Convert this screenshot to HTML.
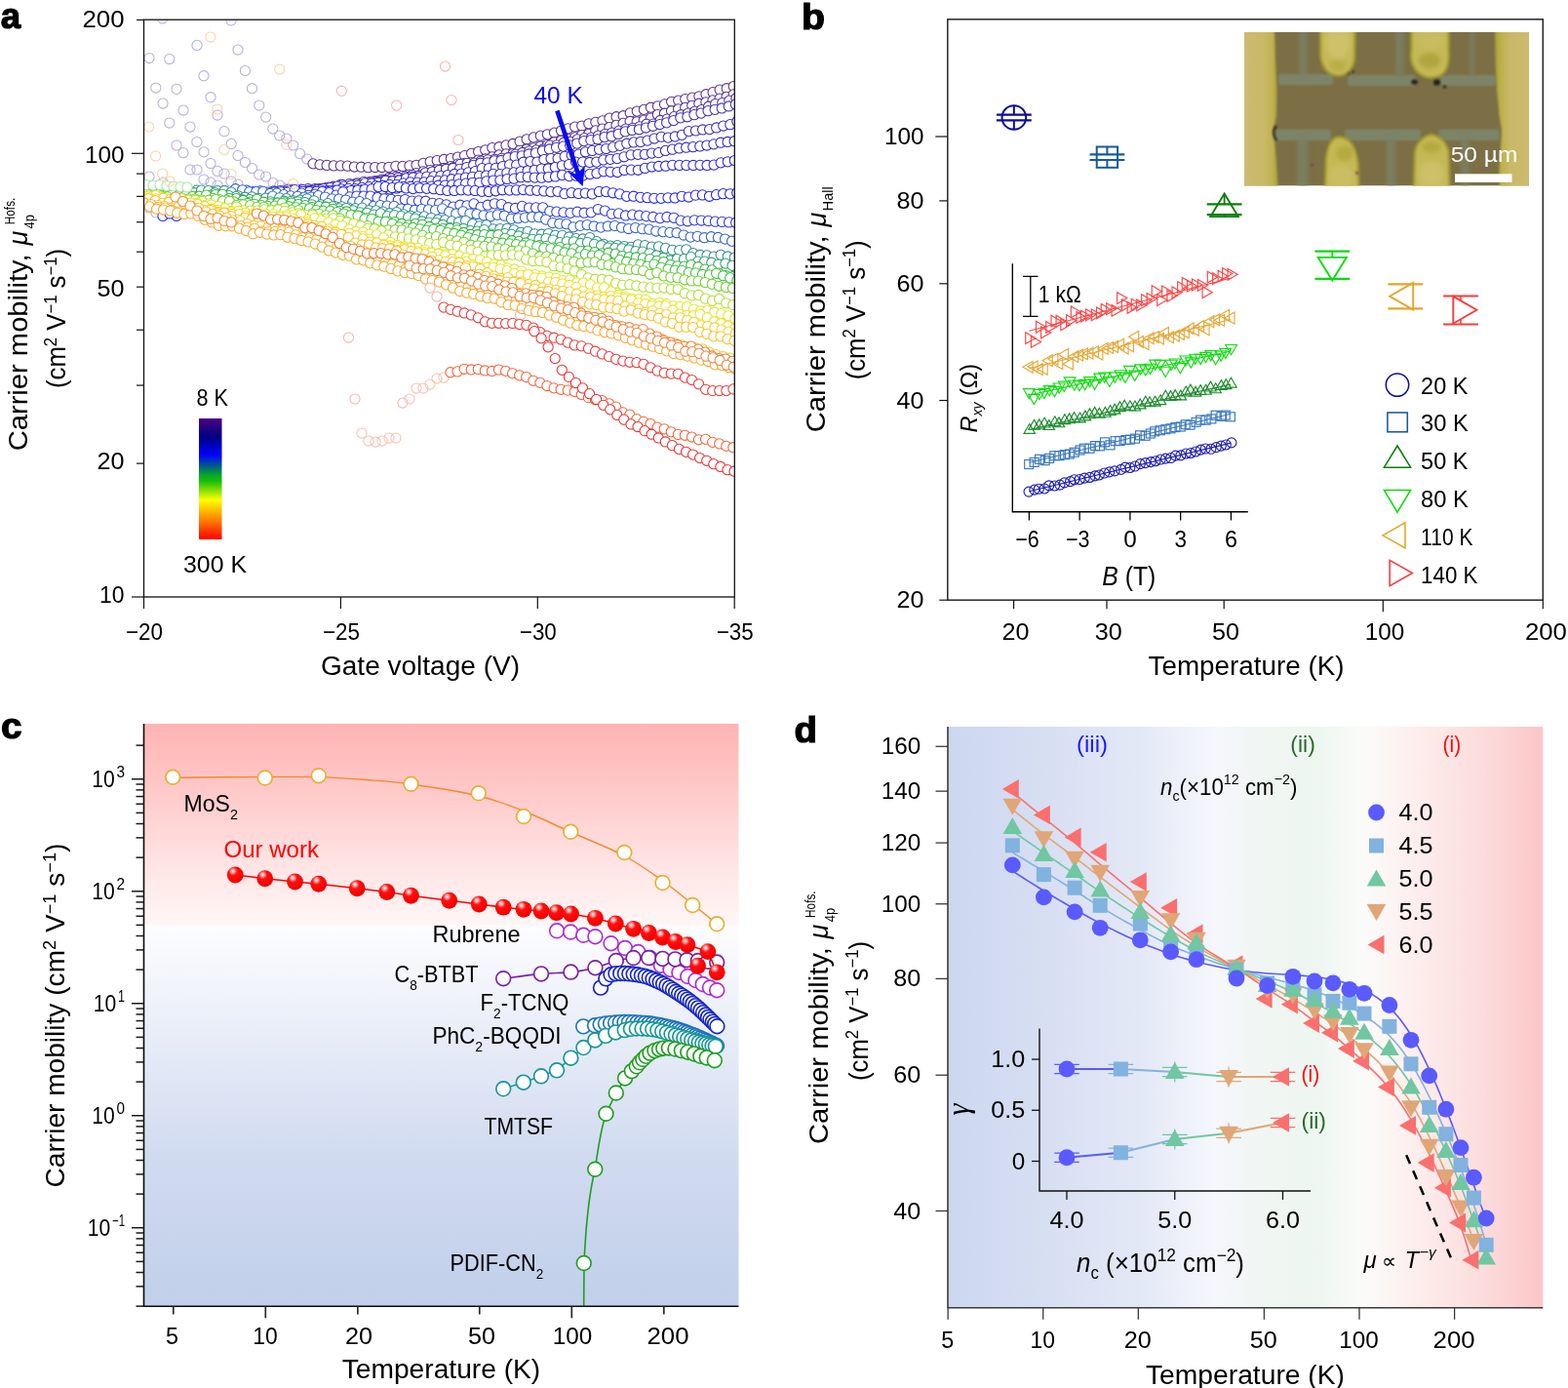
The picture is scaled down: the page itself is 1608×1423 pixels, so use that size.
<!DOCTYPE html>
<html lang="en"><head><meta charset="utf-8"><title>Carrier mobility figure</title>
<style>
html,body{margin:0;padding:0;background:#fff;}
body{width:1608px;height:1423px;overflow:hidden;}
svg{display:block;font-family:"Liberation Sans", sans-serif;}
text{white-space:pre;}
</style></head><body>
<svg width="1608" height="1423" viewBox="0 0 1608 1423">
<rect width="1608" height="1423" fill="#fff"/>
<g id="panel_a">
<clipPath id="clipA"><rect x="147.5" y="20.2" width="605.8" height="591.8"/></clipPath>
<g clip-path="url(#clipA)">
<g stroke="#b4aee0" stroke-width="1.05" fill="none"><circle cx="237" cy="21" r="5.1"/><circle cx="244" cy="51" r="5.1"/><circle cx="251.4" cy="72.6" r="5.1"/><circle cx="258.5" cy="90.7" r="5.1"/><circle cx="265.8" cy="108" r="5.1"/><circle cx="272.7" cy="120" r="5.1"/><circle cx="279.8" cy="132" r="5.1"/><circle cx="286.7" cy="139" r="5.1"/><circle cx="293.8" cy="142" r="5.1"/><circle cx="300.7" cy="149" r="5.1"/><circle cx="307.7" cy="157.7" r="5.1"/><circle cx="314.8" cy="163" r="5.1"/></g>
<g stroke="#b4aee0" stroke-width="1.05" fill="none"><circle cx="202" cy="46.4" r="5.1"/><circle cx="209" cy="77.7" r="5.1"/><circle cx="216" cy="99.7" r="5.1"/><circle cx="223" cy="118" r="5.1"/><circle cx="230" cy="134.7" r="5.1"/><circle cx="237.2" cy="147.4" r="5.1"/><circle cx="244" cy="159.5" r="5.1"/><circle cx="251.4" cy="166.6" r="5.1"/><circle cx="258.5" cy="172.6" r="5.1"/><circle cx="265.8" cy="179" r="5.1"/><circle cx="272.7" cy="181" r="5.1"/><circle cx="280" cy="187.6" r="5.1"/><circle cx="287" cy="190" r="5.1"/><circle cx="294" cy="193" r="5.1"/></g>
<g stroke="#b4aee0" stroke-width="1.05" fill="none"><circle cx="153" cy="59.5" r="5.1"/><circle cx="159.8" cy="90" r="5.1"/><circle cx="167" cy="106" r="5.1"/><circle cx="173.8" cy="126" r="5.1"/><circle cx="181" cy="149" r="5.1"/><circle cx="187.9" cy="156.7" r="5.1"/><circle cx="195" cy="174" r="5.1"/><circle cx="202" cy="174" r="5.1"/><circle cx="209" cy="184" r="5.1"/><circle cx="216" cy="187" r="5.1"/><circle cx="223" cy="190" r="5.1"/></g>
<g stroke="#b4aee0" stroke-width="1.05" fill="none"><circle cx="166.7" cy="19" r="5.1"/><circle cx="173.8" cy="60.5" r="5.1"/><circle cx="181" cy="91.3" r="5.1"/><circle cx="188" cy="113" r="5.1"/><circle cx="195" cy="130" r="5.1"/><circle cx="201.9" cy="145.5" r="5.1"/><circle cx="209" cy="155.8" r="5.1"/><circle cx="216" cy="167.6" r="5.1"/><circle cx="223" cy="175.4" r="5.1"/><circle cx="230" cy="178" r="5.1"/><circle cx="237" cy="186" r="5.1"/><circle cx="244" cy="189" r="5.1"/></g>
<g stroke="#b4aee0" stroke-width="1.05" fill="none"><circle cx="153" cy="181" r="5.1"/><circle cx="153" cy="213" r="5.1"/><circle cx="160" cy="218" r="5.1"/><circle cx="167" cy="187" r="5.1"/></g>
<g stroke="#5b2d90" stroke-width="1.05" fill="#fff"><circle cx="321" cy="167.87" r="5.1"/><circle cx="328.07" cy="168.88" r="5.1"/><circle cx="335.14" cy="169.45" r="5.1"/><circle cx="342.21" cy="169.95" r="5.1"/><circle cx="349.28" cy="169.92" r="5.1"/><circle cx="356.35" cy="170.17" r="5.1"/><circle cx="363.42" cy="171.02" r="5.1"/><circle cx="370.49" cy="171.21" r="5.1"/><circle cx="377.56" cy="171.65" r="5.1"/><circle cx="384.63" cy="171.52" r="5.1"/><circle cx="391.7" cy="171.53" r="5.1"/><circle cx="398.77" cy="171.42" r="5.1"/><circle cx="405.84" cy="170.27" r="5.1"/><circle cx="412.91" cy="170.44" r="5.1"/><circle cx="419.98" cy="169.94" r="5.1"/><circle cx="427.05" cy="169.26" r="5.1"/><circle cx="434.12" cy="167.41" r="5.1"/><circle cx="441.19" cy="165.75" r="5.1"/><circle cx="448.26" cy="164.58" r="5.1"/><circle cx="455.33" cy="163.49" r="5.1"/><circle cx="462.4" cy="162.59" r="5.1"/><circle cx="469.47" cy="161.08" r="5.1"/><circle cx="476.54" cy="159.61" r="5.1"/><circle cx="483.61" cy="157.29" r="5.1"/><circle cx="490.68" cy="155.56" r="5.1"/><circle cx="497.75" cy="153.81" r="5.1"/><circle cx="504.82" cy="151.57" r="5.1"/><circle cx="511.89" cy="150.72" r="5.1"/><circle cx="518.96" cy="148.93" r="5.1"/><circle cx="526.03" cy="147.48" r="5.1"/><circle cx="533.1" cy="145.01" r="5.1"/><circle cx="540.17" cy="142.76" r="5.1"/><circle cx="547.24" cy="140.9" r="5.1"/><circle cx="554.31" cy="139.2" r="5.1"/><circle cx="561.38" cy="137.84" r="5.1"/><circle cx="568.45" cy="136.12" r="5.1"/><circle cx="575.52" cy="134.04" r="5.1"/><circle cx="582.59" cy="131.82" r="5.1"/><circle cx="589.66" cy="130.01" r="5.1"/><circle cx="596.73" cy="129.08" r="5.1"/><circle cx="603.8" cy="126.81" r="5.1"/><circle cx="610.87" cy="125.27" r="5.1"/><circle cx="617.94" cy="123.75" r="5.1"/><circle cx="625.01" cy="121.18" r="5.1"/><circle cx="632.08" cy="119.7" r="5.1"/><circle cx="639.15" cy="118.72" r="5.1"/><circle cx="646.22" cy="115.75" r="5.1"/><circle cx="653.29" cy="114.06" r="5.1"/><circle cx="660.36" cy="112.38" r="5.1"/><circle cx="667.43" cy="110.22" r="5.1"/><circle cx="674.5" cy="108.8" r="5.1"/><circle cx="681.57" cy="106.88" r="5.1"/><circle cx="688.64" cy="104.27" r="5.1"/><circle cx="695.71" cy="103.09" r="5.1"/><circle cx="702.78" cy="101.59" r="5.1"/><circle cx="709.85" cy="100.12" r="5.1"/><circle cx="716.92" cy="98.78" r="5.1"/><circle cx="723.99" cy="96.73" r="5.1"/><circle cx="731.06" cy="94.69" r="5.1"/><circle cx="738.13" cy="92.04" r="5.1"/><circle cx="745.2" cy="90.71" r="5.1"/><circle cx="752.27" cy="88.58" r="5.1"/></g>
<g stroke="#55309a" stroke-width="1.05" fill="#fff"><circle cx="285.56" cy="196.24" r="5.1"/><circle cx="292.63" cy="195.93" r="5.1"/><circle cx="299.7" cy="194.58" r="5.1"/><circle cx="306.77" cy="195.1" r="5.1"/><circle cx="313.84" cy="195.45" r="5.1"/><circle cx="320.91" cy="194.29" r="5.1"/><circle cx="327.98" cy="193.37" r="5.1"/><circle cx="335.05" cy="192.33" r="5.1"/><circle cx="342.12" cy="191.22" r="5.1"/><circle cx="349.19" cy="189.46" r="5.1"/><circle cx="356.26" cy="190.23" r="5.1"/><circle cx="363.33" cy="188.89" r="5.1"/><circle cx="370.4" cy="187.52" r="5.1"/><circle cx="377.47" cy="187.05" r="5.1"/><circle cx="384.54" cy="185.53" r="5.1"/><circle cx="391.61" cy="184.05" r="5.1"/><circle cx="398.68" cy="182.38" r="5.1"/><circle cx="405.75" cy="181.36" r="5.1"/><circle cx="412.82" cy="180.29" r="5.1"/><circle cx="419.89" cy="179.09" r="5.1"/><circle cx="426.96" cy="177.7" r="5.1"/><circle cx="434.03" cy="175.89" r="5.1"/><circle cx="441.1" cy="174.61" r="5.1"/><circle cx="448.17" cy="173.95" r="5.1"/><circle cx="455.24" cy="172.47" r="5.1"/><circle cx="462.31" cy="170.57" r="5.1"/><circle cx="469.38" cy="168.2" r="5.1"/><circle cx="476.45" cy="167.28" r="5.1"/><circle cx="483.52" cy="166.79" r="5.1"/><circle cx="490.59" cy="164.04" r="5.1"/><circle cx="497.66" cy="162.99" r="5.1"/><circle cx="504.73" cy="160.92" r="5.1"/><circle cx="511.8" cy="158.89" r="5.1"/><circle cx="518.87" cy="157.92" r="5.1"/><circle cx="525.94" cy="157.65" r="5.1"/><circle cx="533.01" cy="154.33" r="5.1"/><circle cx="540.08" cy="153.09" r="5.1"/><circle cx="547.15" cy="151.76" r="5.1"/><circle cx="554.22" cy="149.97" r="5.1"/><circle cx="561.29" cy="148.66" r="5.1"/><circle cx="568.36" cy="145.73" r="5.1"/><circle cx="575.43" cy="144.28" r="5.1"/><circle cx="582.5" cy="142.6" r="5.1"/><circle cx="589.57" cy="140.95" r="5.1"/><circle cx="596.64" cy="138.58" r="5.1"/><circle cx="603.71" cy="137.34" r="5.1"/><circle cx="610.78" cy="133.94" r="5.1"/><circle cx="617.85" cy="132.05" r="5.1"/><circle cx="624.92" cy="130.56" r="5.1"/><circle cx="631.99" cy="128.43" r="5.1"/><circle cx="639.06" cy="126.41" r="5.1"/><circle cx="646.13" cy="124.49" r="5.1"/><circle cx="653.2" cy="124.7" r="5.1"/><circle cx="660.27" cy="123.14" r="5.1"/><circle cx="667.34" cy="121.19" r="5.1"/><circle cx="674.41" cy="117.56" r="5.1"/><circle cx="681.48" cy="116.21" r="5.1"/><circle cx="688.55" cy="113.73" r="5.1"/><circle cx="695.62" cy="111.84" r="5.1"/><circle cx="702.69" cy="110.37" r="5.1"/><circle cx="709.76" cy="108.31" r="5.1"/><circle cx="716.83" cy="106.24" r="5.1"/><circle cx="723.9" cy="104.81" r="5.1"/><circle cx="730.97" cy="102.89" r="5.1"/><circle cx="738.04" cy="101.05" r="5.1"/><circle cx="745.11" cy="99.32" r="5.1"/><circle cx="752.18" cy="96.92" r="5.1"/></g>
<g stroke="#4c30a2" stroke-width="1.05" fill="#fff"><circle cx="281.21" cy="197" r="5.1"/><circle cx="288.28" cy="197.54" r="5.1"/><circle cx="295.35" cy="197.49" r="5.1"/><circle cx="302.42" cy="198.13" r="5.1"/><circle cx="309.49" cy="197.02" r="5.1"/><circle cx="316.56" cy="195.51" r="5.1"/><circle cx="323.63" cy="194.3" r="5.1"/><circle cx="330.7" cy="193.47" r="5.1"/><circle cx="337.77" cy="193.26" r="5.1"/><circle cx="344.84" cy="191.86" r="5.1"/><circle cx="351.91" cy="191.13" r="5.1"/><circle cx="358.98" cy="191.28" r="5.1"/><circle cx="366.05" cy="187.87" r="5.1"/><circle cx="373.12" cy="186.39" r="5.1"/><circle cx="380.19" cy="186.01" r="5.1"/><circle cx="387.26" cy="185.42" r="5.1"/><circle cx="394.33" cy="184.49" r="5.1"/><circle cx="401.4" cy="182.97" r="5.1"/><circle cx="408.47" cy="182.33" r="5.1"/><circle cx="415.54" cy="181.18" r="5.1"/><circle cx="422.61" cy="179.42" r="5.1"/><circle cx="429.68" cy="179.91" r="5.1"/><circle cx="436.75" cy="178.22" r="5.1"/><circle cx="443.82" cy="176.03" r="5.1"/><circle cx="450.89" cy="174.49" r="5.1"/><circle cx="457.96" cy="172.92" r="5.1"/><circle cx="465.03" cy="171.53" r="5.1"/><circle cx="472.1" cy="168.26" r="5.1"/><circle cx="479.17" cy="167.3" r="5.1"/><circle cx="486.24" cy="167.18" r="5.1"/><circle cx="493.31" cy="164.99" r="5.1"/><circle cx="500.38" cy="163.86" r="5.1"/><circle cx="507.45" cy="163.28" r="5.1"/><circle cx="514.52" cy="162.26" r="5.1"/><circle cx="521.59" cy="161.47" r="5.1"/><circle cx="528.66" cy="158.14" r="5.1"/><circle cx="535.73" cy="156.46" r="5.1"/><circle cx="542.8" cy="154.82" r="5.1"/><circle cx="549.87" cy="153.87" r="5.1"/><circle cx="556.94" cy="152.98" r="5.1"/><circle cx="564.01" cy="149.15" r="5.1"/><circle cx="571.08" cy="148.84" r="5.1"/><circle cx="578.15" cy="146.21" r="5.1"/><circle cx="585.22" cy="145.45" r="5.1"/><circle cx="592.29" cy="142.8" r="5.1"/><circle cx="599.36" cy="141.69" r="5.1"/><circle cx="606.43" cy="141.05" r="5.1"/><circle cx="613.5" cy="139.04" r="5.1"/><circle cx="620.57" cy="137.37" r="5.1"/><circle cx="627.64" cy="136.1" r="5.1"/><circle cx="634.71" cy="134.16" r="5.1"/><circle cx="641.78" cy="132.13" r="5.1"/><circle cx="648.85" cy="131.33" r="5.1"/><circle cx="655.92" cy="129.79" r="5.1"/><circle cx="662.99" cy="127.2" r="5.1"/><circle cx="670.06" cy="127.04" r="5.1"/><circle cx="677.13" cy="123.48" r="5.1"/><circle cx="684.2" cy="122.05" r="5.1"/><circle cx="691.27" cy="119.63" r="5.1"/><circle cx="698.34" cy="117.7" r="5.1"/><circle cx="705.41" cy="116.19" r="5.1"/><circle cx="712.48" cy="114.19" r="5.1"/><circle cx="719.55" cy="112.51" r="5.1"/><circle cx="726.62" cy="109.23" r="5.1"/><circle cx="733.69" cy="106.5" r="5.1"/><circle cx="740.76" cy="105.57" r="5.1"/><circle cx="747.83" cy="103.13" r="5.1"/><circle cx="754.9" cy="100.84" r="5.1"/></g>
<g stroke="#4330aa" stroke-width="1.05" fill="#fff"><circle cx="280.68" cy="195.97" r="5.1"/><circle cx="287.75" cy="195.56" r="5.1"/><circle cx="294.82" cy="194.65" r="5.1"/><circle cx="301.89" cy="195.31" r="5.1"/><circle cx="308.96" cy="194.03" r="5.1"/><circle cx="316.03" cy="193.67" r="5.1"/><circle cx="323.1" cy="193.64" r="5.1"/><circle cx="330.17" cy="193.37" r="5.1"/><circle cx="337.24" cy="192.1" r="5.1"/><circle cx="344.31" cy="192.17" r="5.1"/><circle cx="351.38" cy="189.47" r="5.1"/><circle cx="358.45" cy="188.68" r="5.1"/><circle cx="365.52" cy="188.79" r="5.1"/><circle cx="372.59" cy="189.08" r="5.1"/><circle cx="379.66" cy="187.39" r="5.1"/><circle cx="386.73" cy="186.49" r="5.1"/><circle cx="393.8" cy="185.65" r="5.1"/><circle cx="400.87" cy="185.25" r="5.1"/><circle cx="407.94" cy="184.9" r="5.1"/><circle cx="415.01" cy="183.12" r="5.1"/><circle cx="422.08" cy="181.06" r="5.1"/><circle cx="429.15" cy="180.62" r="5.1"/><circle cx="436.22" cy="177.2" r="5.1"/><circle cx="443.29" cy="176.03" r="5.1"/><circle cx="450.36" cy="174.63" r="5.1"/><circle cx="457.43" cy="173.45" r="5.1"/><circle cx="464.5" cy="172.46" r="5.1"/><circle cx="471.57" cy="173.3" r="5.1"/><circle cx="478.64" cy="171.57" r="5.1"/><circle cx="485.71" cy="169.31" r="5.1"/><circle cx="492.78" cy="167.22" r="5.1"/><circle cx="499.85" cy="166.77" r="5.1"/><circle cx="506.92" cy="164.95" r="5.1"/><circle cx="513.99" cy="164.49" r="5.1"/><circle cx="521.06" cy="161.78" r="5.1"/><circle cx="528.13" cy="160.65" r="5.1"/><circle cx="535.2" cy="159.76" r="5.1"/><circle cx="542.27" cy="157.97" r="5.1"/><circle cx="549.34" cy="156.94" r="5.1"/><circle cx="556.41" cy="154.74" r="5.1"/><circle cx="563.48" cy="152.99" r="5.1"/><circle cx="570.55" cy="151.28" r="5.1"/><circle cx="577.62" cy="150.13" r="5.1"/><circle cx="584.69" cy="149.18" r="5.1"/><circle cx="591.76" cy="147.07" r="5.1"/><circle cx="598.83" cy="144.62" r="5.1"/><circle cx="605.9" cy="143.64" r="5.1"/><circle cx="612.97" cy="142.76" r="5.1"/><circle cx="620.04" cy="140.56" r="5.1"/><circle cx="627.11" cy="139.71" r="5.1"/><circle cx="634.18" cy="137.41" r="5.1"/><circle cx="641.25" cy="134.93" r="5.1"/><circle cx="648.32" cy="133.44" r="5.1"/><circle cx="655.39" cy="132.78" r="5.1"/><circle cx="662.46" cy="131.04" r="5.1"/><circle cx="669.53" cy="129.25" r="5.1"/><circle cx="676.6" cy="127.51" r="5.1"/><circle cx="683.67" cy="125.85" r="5.1"/><circle cx="690.74" cy="123.6" r="5.1"/><circle cx="697.81" cy="120.85" r="5.1"/><circle cx="704.88" cy="119.79" r="5.1"/><circle cx="711.95" cy="117.67" r="5.1"/><circle cx="719.02" cy="116.05" r="5.1"/><circle cx="726.09" cy="113.68" r="5.1"/><circle cx="733.16" cy="112.32" r="5.1"/><circle cx="740.23" cy="110.95" r="5.1"/><circle cx="747.3" cy="108.99" r="5.1"/><circle cx="754.37" cy="106.92" r="5.1"/></g>
<g stroke="#3a2cb4" stroke-width="1.05" fill="#fff"><circle cx="282.22" cy="196.8" r="5.1"/><circle cx="289.29" cy="197" r="5.1"/><circle cx="296.36" cy="195.96" r="5.1"/><circle cx="303.43" cy="194.81" r="5.1"/><circle cx="310.5" cy="194.54" r="5.1"/><circle cx="317.57" cy="195.23" r="5.1"/><circle cx="324.64" cy="194.35" r="5.1"/><circle cx="331.71" cy="193.31" r="5.1"/><circle cx="338.78" cy="192.5" r="5.1"/><circle cx="345.85" cy="191.19" r="5.1"/><circle cx="352.92" cy="191.09" r="5.1"/><circle cx="359.99" cy="189.97" r="5.1"/><circle cx="367.06" cy="190.06" r="5.1"/><circle cx="374.13" cy="187.87" r="5.1"/><circle cx="381.2" cy="188.1" r="5.1"/><circle cx="388.27" cy="187.21" r="5.1"/><circle cx="395.34" cy="185.41" r="5.1"/><circle cx="402.41" cy="185.83" r="5.1"/><circle cx="409.48" cy="185.01" r="5.1"/><circle cx="416.55" cy="182.77" r="5.1"/><circle cx="423.62" cy="181.99" r="5.1"/><circle cx="430.69" cy="181.95" r="5.1"/><circle cx="437.76" cy="181" r="5.1"/><circle cx="444.83" cy="180.89" r="5.1"/><circle cx="451.9" cy="180.39" r="5.1"/><circle cx="458.97" cy="179.62" r="5.1"/><circle cx="466.04" cy="178.49" r="5.1"/><circle cx="473.11" cy="178.09" r="5.1"/><circle cx="480.18" cy="176.95" r="5.1"/><circle cx="487.25" cy="175.68" r="5.1"/><circle cx="494.32" cy="172.69" r="5.1"/><circle cx="501.39" cy="172.54" r="5.1"/><circle cx="508.46" cy="172.28" r="5.1"/><circle cx="515.53" cy="170.55" r="5.1"/><circle cx="522.6" cy="168.92" r="5.1"/><circle cx="529.67" cy="169.16" r="5.1"/><circle cx="536.74" cy="166.24" r="5.1"/><circle cx="543.81" cy="165.57" r="5.1"/><circle cx="550.88" cy="166.05" r="5.1"/><circle cx="557.95" cy="163.51" r="5.1"/><circle cx="565.02" cy="162.62" r="5.1"/><circle cx="572.09" cy="162.43" r="5.1"/><circle cx="579.16" cy="160.42" r="5.1"/><circle cx="586.23" cy="159.18" r="5.1"/><circle cx="593.3" cy="158.16" r="5.1"/><circle cx="600.37" cy="155.78" r="5.1"/><circle cx="607.44" cy="154.4" r="5.1"/><circle cx="614.51" cy="153.32" r="5.1"/><circle cx="621.58" cy="152.53" r="5.1"/><circle cx="628.65" cy="150.92" r="5.1"/><circle cx="635.72" cy="149.31" r="5.1"/><circle cx="642.79" cy="147.23" r="5.1"/><circle cx="649.86" cy="145.91" r="5.1"/><circle cx="656.93" cy="145.45" r="5.1"/><circle cx="664" cy="144.07" r="5.1"/><circle cx="671.07" cy="142.03" r="5.1"/><circle cx="678.14" cy="140.25" r="5.1"/><circle cx="685.21" cy="141.09" r="5.1"/><circle cx="692.28" cy="139.96" r="5.1"/><circle cx="699.35" cy="138.37" r="5.1"/><circle cx="706.42" cy="134.59" r="5.1"/><circle cx="713.49" cy="134" r="5.1"/><circle cx="720.56" cy="132.98" r="5.1"/><circle cx="727.63" cy="132.63" r="5.1"/><circle cx="734.7" cy="130.96" r="5.1"/><circle cx="741.77" cy="129.03" r="5.1"/><circle cx="748.84" cy="127.69" r="5.1"/><circle cx="755.91" cy="124.58" r="5.1"/></g>
<g stroke="#3028c4" stroke-width="1.05" fill="#fff"><circle cx="286.55" cy="197.72" r="5.1"/><circle cx="293.62" cy="197.34" r="5.1"/><circle cx="300.69" cy="197.32" r="5.1"/><circle cx="307.76" cy="197.54" r="5.1"/><circle cx="314.83" cy="196.26" r="5.1"/><circle cx="321.9" cy="195.65" r="5.1"/><circle cx="328.97" cy="194.9" r="5.1"/><circle cx="336.04" cy="195.53" r="5.1"/><circle cx="343.11" cy="195.07" r="5.1"/><circle cx="350.18" cy="193.95" r="5.1"/><circle cx="357.25" cy="193.42" r="5.1"/><circle cx="364.32" cy="193.66" r="5.1"/><circle cx="371.39" cy="192.27" r="5.1"/><circle cx="378.46" cy="191.65" r="5.1"/><circle cx="385.53" cy="190.65" r="5.1"/><circle cx="392.6" cy="190.23" r="5.1"/><circle cx="399.67" cy="189.35" r="5.1"/><circle cx="406.74" cy="189.25" r="5.1"/><circle cx="413.81" cy="187.83" r="5.1"/><circle cx="420.88" cy="186.8" r="5.1"/><circle cx="427.95" cy="187.12" r="5.1"/><circle cx="435.02" cy="186.77" r="5.1"/><circle cx="442.09" cy="185.51" r="5.1"/><circle cx="449.16" cy="185.29" r="5.1"/><circle cx="456.23" cy="184.89" r="5.1"/><circle cx="463.3" cy="183.74" r="5.1"/><circle cx="470.37" cy="183.04" r="5.1"/><circle cx="477.44" cy="182.09" r="5.1"/><circle cx="484.51" cy="181.27" r="5.1"/><circle cx="491.58" cy="180.43" r="5.1"/><circle cx="498.65" cy="180" r="5.1"/><circle cx="505.72" cy="178.43" r="5.1"/><circle cx="512.79" cy="178.66" r="5.1"/><circle cx="519.86" cy="177.14" r="5.1"/><circle cx="526.93" cy="176.88" r="5.1"/><circle cx="534" cy="175.87" r="5.1"/><circle cx="541.07" cy="175.2" r="5.1"/><circle cx="548.14" cy="174.39" r="5.1"/><circle cx="555.21" cy="173.08" r="5.1"/><circle cx="562.28" cy="173.01" r="5.1"/><circle cx="569.35" cy="171.57" r="5.1"/><circle cx="576.42" cy="169.8" r="5.1"/><circle cx="583.49" cy="168.66" r="5.1"/><circle cx="590.56" cy="166.12" r="5.1"/><circle cx="597.63" cy="166.1" r="5.1"/><circle cx="604.7" cy="166.46" r="5.1"/><circle cx="611.77" cy="166.08" r="5.1"/><circle cx="618.84" cy="163.92" r="5.1"/><circle cx="625.91" cy="163.31" r="5.1"/><circle cx="632.98" cy="162.58" r="5.1"/><circle cx="640.05" cy="160.78" r="5.1"/><circle cx="647.12" cy="158.84" r="5.1"/><circle cx="654.19" cy="158.3" r="5.1"/><circle cx="661.26" cy="158.26" r="5.1"/><circle cx="668.33" cy="157.12" r="5.1"/><circle cx="675.4" cy="156.64" r="5.1"/><circle cx="682.47" cy="154.44" r="5.1"/><circle cx="689.54" cy="153.2" r="5.1"/><circle cx="696.61" cy="151.97" r="5.1"/><circle cx="703.68" cy="151.21" r="5.1"/><circle cx="710.75" cy="150.66" r="5.1"/><circle cx="717.82" cy="149.91" r="5.1"/><circle cx="724.89" cy="149.04" r="5.1"/><circle cx="731.96" cy="147.86" r="5.1"/><circle cx="739.03" cy="146.22" r="5.1"/><circle cx="746.1" cy="145.49" r="5.1"/><circle cx="753.17" cy="144.72" r="5.1"/></g>
<g stroke="#2a28d4" stroke-width="1.05" fill="#fff"><circle cx="286.73" cy="197.72" r="5.1"/><circle cx="293.8" cy="196.62" r="5.1"/><circle cx="300.87" cy="196.5" r="5.1"/><circle cx="307.94" cy="196.94" r="5.1"/><circle cx="315.01" cy="196.38" r="5.1"/><circle cx="322.08" cy="196.89" r="5.1"/><circle cx="329.15" cy="196.74" r="5.1"/><circle cx="336.22" cy="196.75" r="5.1"/><circle cx="343.29" cy="195.84" r="5.1"/><circle cx="350.36" cy="197.1" r="5.1"/><circle cx="357.43" cy="196.8" r="5.1"/><circle cx="364.5" cy="195.46" r="5.1"/><circle cx="371.57" cy="194.72" r="5.1"/><circle cx="378.64" cy="195.88" r="5.1"/><circle cx="385.71" cy="194.37" r="5.1"/><circle cx="392.78" cy="194.16" r="5.1"/><circle cx="399.85" cy="193.94" r="5.1"/><circle cx="406.92" cy="192.97" r="5.1"/><circle cx="413.99" cy="191.4" r="5.1"/><circle cx="421.06" cy="191.23" r="5.1"/><circle cx="428.13" cy="191.08" r="5.1"/><circle cx="435.2" cy="191.35" r="5.1"/><circle cx="442.27" cy="191.09" r="5.1"/><circle cx="449.34" cy="190.23" r="5.1"/><circle cx="456.41" cy="190.1" r="5.1"/><circle cx="463.48" cy="189.62" r="5.1"/><circle cx="470.55" cy="188.91" r="5.1"/><circle cx="477.62" cy="188.19" r="5.1"/><circle cx="484.69" cy="187.35" r="5.1"/><circle cx="491.76" cy="187.3" r="5.1"/><circle cx="498.83" cy="185.86" r="5.1"/><circle cx="505.9" cy="185.09" r="5.1"/><circle cx="512.97" cy="184.86" r="5.1"/><circle cx="520.04" cy="183.5" r="5.1"/><circle cx="527.11" cy="183.19" r="5.1"/><circle cx="534.18" cy="181.69" r="5.1"/><circle cx="541.25" cy="181.51" r="5.1"/><circle cx="548.32" cy="182.07" r="5.1"/><circle cx="555.39" cy="182.18" r="5.1"/><circle cx="562.46" cy="181.6" r="5.1"/><circle cx="569.53" cy="180.91" r="5.1"/><circle cx="576.6" cy="179.44" r="5.1"/><circle cx="583.67" cy="180.61" r="5.1"/><circle cx="590.74" cy="180.17" r="5.1"/><circle cx="597.81" cy="180.08" r="5.1"/><circle cx="604.88" cy="178.41" r="5.1"/><circle cx="611.95" cy="177.67" r="5.1"/><circle cx="619.02" cy="175.85" r="5.1"/><circle cx="626.09" cy="176.35" r="5.1"/><circle cx="633.16" cy="176.52" r="5.1"/><circle cx="640.23" cy="174.4" r="5.1"/><circle cx="647.3" cy="174.18" r="5.1"/><circle cx="654.37" cy="174.29" r="5.1"/><circle cx="661.44" cy="172.44" r="5.1"/><circle cx="668.51" cy="171.04" r="5.1"/><circle cx="675.58" cy="170.49" r="5.1"/><circle cx="682.65" cy="170.21" r="5.1"/><circle cx="689.72" cy="169.26" r="5.1"/><circle cx="696.79" cy="169.44" r="5.1"/><circle cx="703.86" cy="169.45" r="5.1"/><circle cx="710.93" cy="169.48" r="5.1"/><circle cx="718" cy="169.29" r="5.1"/><circle cx="725.07" cy="169.48" r="5.1"/><circle cx="732.14" cy="169.1" r="5.1"/><circle cx="739.21" cy="166.88" r="5.1"/><circle cx="746.28" cy="165.85" r="5.1"/><circle cx="753.35" cy="164.59" r="5.1"/></g>
<g stroke="#2a30d0" stroke-width="1.05" fill="#fff"><circle cx="167" cy="221.5" r="5.1"/><circle cx="181" cy="221.5" r="5.1"/><circle cx="174" cy="219" r="5.1"/></g>
<g stroke="#2222ee" stroke-width="1.05" fill="#fff"><circle cx="275" cy="200.03" r="5.1"/><circle cx="282.07" cy="199.82" r="5.1"/><circle cx="289.14" cy="199.53" r="5.1"/><circle cx="296.21" cy="199.57" r="5.1"/><circle cx="303.28" cy="197.51" r="5.1"/><circle cx="310.35" cy="196.38" r="5.1"/><circle cx="317.42" cy="196.61" r="5.1"/><circle cx="324.49" cy="196.44" r="5.1"/><circle cx="331.56" cy="196.11" r="5.1"/><circle cx="338.63" cy="195.98" r="5.1"/><circle cx="345.7" cy="195.11" r="5.1"/><circle cx="352.77" cy="195.75" r="5.1"/><circle cx="359.84" cy="195.67" r="5.1"/><circle cx="366.91" cy="195.09" r="5.1"/><circle cx="373.98" cy="194.12" r="5.1"/><circle cx="381.05" cy="193.91" r="5.1"/><circle cx="388.12" cy="191.44" r="5.1"/><circle cx="395.19" cy="191.52" r="5.1"/><circle cx="402.26" cy="192.52" r="5.1"/><circle cx="409.33" cy="191.78" r="5.1"/><circle cx="416.4" cy="192.93" r="5.1"/><circle cx="423.47" cy="193.63" r="5.1"/><circle cx="430.54" cy="192.75" r="5.1"/><circle cx="437.61" cy="193.31" r="5.1"/><circle cx="444.68" cy="193.68" r="5.1"/><circle cx="451.75" cy="194.67" r="5.1"/><circle cx="458.82" cy="195.49" r="5.1"/><circle cx="465.89" cy="195.48" r="5.1"/><circle cx="472.96" cy="194.81" r="5.1"/><circle cx="480.03" cy="195.11" r="5.1"/><circle cx="487.1" cy="195.41" r="5.1"/><circle cx="494.17" cy="196.35" r="5.1"/><circle cx="501.24" cy="196.55" r="5.1"/><circle cx="508.31" cy="195.77" r="5.1"/><circle cx="515.38" cy="194.76" r="5.1"/><circle cx="522.45" cy="195.06" r="5.1"/><circle cx="529.52" cy="194.92" r="5.1"/><circle cx="536.59" cy="194.53" r="5.1"/><circle cx="543.66" cy="195.21" r="5.1"/><circle cx="550.73" cy="195.3" r="5.1"/><circle cx="557.8" cy="195.91" r="5.1"/><circle cx="564.87" cy="196.69" r="5.1"/><circle cx="571.94" cy="196.34" r="5.1"/><circle cx="579.01" cy="198.64" r="5.1"/><circle cx="586.08" cy="197.68" r="5.1"/><circle cx="593.15" cy="198.44" r="5.1"/><circle cx="600.22" cy="198.08" r="5.1"/><circle cx="607.29" cy="198.91" r="5.1"/><circle cx="614.36" cy="196.44" r="5.1"/><circle cx="621.43" cy="196.59" r="5.1"/><circle cx="628.5" cy="197.76" r="5.1"/><circle cx="635.57" cy="198.94" r="5.1"/><circle cx="642.64" cy="201.36" r="5.1"/><circle cx="649.71" cy="201.24" r="5.1"/><circle cx="656.78" cy="202.3" r="5.1"/><circle cx="663.85" cy="202.7" r="5.1"/><circle cx="670.92" cy="203.29" r="5.1"/><circle cx="677.99" cy="203.36" r="5.1"/><circle cx="685.06" cy="202.81" r="5.1"/><circle cx="692.13" cy="202.96" r="5.1"/><circle cx="699.2" cy="201.32" r="5.1"/><circle cx="706.27" cy="202.01" r="5.1"/><circle cx="713.34" cy="200.14" r="5.1"/><circle cx="720.41" cy="199.94" r="5.1"/><circle cx="727.48" cy="201.28" r="5.1"/><circle cx="734.55" cy="199.69" r="5.1"/><circle cx="741.62" cy="198.68" r="5.1"/><circle cx="748.69" cy="198.83" r="5.1"/><circle cx="755.76" cy="197.66" r="5.1"/></g>
<g stroke="#3038e0" stroke-width="1.05" fill="#fff"><circle cx="252.7" cy="195.14" r="5.1"/><circle cx="259.77" cy="196.53" r="5.1"/><circle cx="266.84" cy="195.93" r="5.1"/><circle cx="273.91" cy="197.17" r="5.1"/><circle cx="280.98" cy="197.05" r="5.1"/><circle cx="288.05" cy="196.92" r="5.1"/><circle cx="295.12" cy="197" r="5.1"/><circle cx="302.19" cy="194.69" r="5.1"/><circle cx="309.26" cy="198.13" r="5.1"/><circle cx="316.33" cy="200.26" r="5.1"/><circle cx="323.4" cy="199.09" r="5.1"/><circle cx="330.47" cy="196.53" r="5.1"/><circle cx="337.54" cy="197.66" r="5.1"/><circle cx="344.61" cy="200.1" r="5.1"/><circle cx="351.68" cy="196.86" r="5.1"/><circle cx="358.75" cy="201.85" r="5.1"/><circle cx="365.82" cy="201.05" r="5.1"/><circle cx="372.89" cy="201.16" r="5.1"/><circle cx="379.96" cy="201.13" r="5.1"/><circle cx="387.03" cy="202.67" r="5.1"/><circle cx="394.1" cy="203.91" r="5.1"/><circle cx="401.17" cy="204.44" r="5.1"/><circle cx="408.24" cy="205.31" r="5.1"/><circle cx="415.31" cy="204.55" r="5.1"/><circle cx="422.38" cy="206.11" r="5.1"/><circle cx="429.45" cy="205.93" r="5.1"/><circle cx="436.52" cy="206.24" r="5.1"/><circle cx="443.59" cy="208.31" r="5.1"/><circle cx="450.66" cy="208.66" r="5.1"/><circle cx="457.73" cy="209.75" r="5.1"/><circle cx="464.8" cy="212.02" r="5.1"/><circle cx="471.87" cy="210.23" r="5.1"/><circle cx="478.94" cy="210.77" r="5.1"/><circle cx="486.01" cy="208.88" r="5.1"/><circle cx="493.08" cy="212.27" r="5.1"/><circle cx="500.15" cy="210.24" r="5.1"/><circle cx="507.22" cy="208.83" r="5.1"/><circle cx="514.29" cy="209.51" r="5.1"/><circle cx="521.36" cy="212.73" r="5.1"/><circle cx="528.43" cy="213.49" r="5.1"/><circle cx="535.5" cy="211.4" r="5.1"/><circle cx="542.57" cy="213.06" r="5.1"/><circle cx="549.64" cy="212.92" r="5.1"/><circle cx="556.71" cy="212.83" r="5.1"/><circle cx="563.78" cy="216.63" r="5.1"/><circle cx="570.85" cy="217.15" r="5.1"/><circle cx="577.92" cy="217.77" r="5.1"/><circle cx="584.99" cy="218.35" r="5.1"/><circle cx="592.06" cy="217.21" r="5.1"/><circle cx="599.13" cy="218.22" r="5.1"/><circle cx="606.2" cy="217.85" r="5.1"/><circle cx="613.27" cy="214.51" r="5.1"/><circle cx="620.34" cy="216.1" r="5.1"/><circle cx="627.41" cy="219.25" r="5.1"/><circle cx="634.48" cy="218.9" r="5.1"/><circle cx="641.55" cy="220.96" r="5.1"/><circle cx="648.62" cy="220.18" r="5.1"/><circle cx="655.69" cy="220.99" r="5.1"/><circle cx="662.76" cy="221.64" r="5.1"/><circle cx="669.83" cy="222.48" r="5.1"/><circle cx="676.9" cy="223.68" r="5.1"/><circle cx="683.97" cy="222.46" r="5.1"/><circle cx="691.04" cy="223.28" r="5.1"/><circle cx="698.11" cy="226.19" r="5.1"/><circle cx="705.18" cy="226.76" r="5.1"/><circle cx="712.25" cy="225.83" r="5.1"/><circle cx="719.32" cy="226.01" r="5.1"/><circle cx="726.39" cy="226.41" r="5.1"/><circle cx="733.46" cy="227.17" r="5.1"/><circle cx="740.53" cy="227.45" r="5.1"/><circle cx="747.6" cy="227.95" r="5.1"/><circle cx="754.67" cy="228.15" r="5.1"/></g>
<g stroke="#3060c8" stroke-width="1.05" fill="#fff"><circle cx="241.55" cy="193.71" r="5.1"/><circle cx="248.62" cy="194.81" r="5.1"/><circle cx="255.69" cy="196.81" r="5.1"/><circle cx="262.76" cy="196.57" r="5.1"/><circle cx="269.83" cy="196.39" r="5.1"/><circle cx="276.9" cy="198.49" r="5.1"/><circle cx="283.97" cy="198.14" r="5.1"/><circle cx="291.04" cy="199.69" r="5.1"/><circle cx="298.11" cy="200.9" r="5.1"/><circle cx="305.18" cy="201.27" r="5.1"/><circle cx="312.25" cy="202.04" r="5.1"/><circle cx="319.32" cy="202.03" r="5.1"/><circle cx="326.39" cy="200.68" r="5.1"/><circle cx="333.46" cy="202.04" r="5.1"/><circle cx="340.53" cy="203.86" r="5.1"/><circle cx="347.6" cy="204.05" r="5.1"/><circle cx="354.67" cy="205.09" r="5.1"/><circle cx="361.74" cy="207.18" r="5.1"/><circle cx="368.81" cy="206.65" r="5.1"/><circle cx="375.88" cy="208.6" r="5.1"/><circle cx="382.95" cy="211.62" r="5.1"/><circle cx="390.02" cy="210.57" r="5.1"/><circle cx="397.09" cy="211.14" r="5.1"/><circle cx="404.16" cy="211.38" r="5.1"/><circle cx="411.23" cy="214" r="5.1"/><circle cx="418.3" cy="214.27" r="5.1"/><circle cx="425.37" cy="215.46" r="5.1"/><circle cx="432.44" cy="214.4" r="5.1"/><circle cx="439.51" cy="214.92" r="5.1"/><circle cx="446.58" cy="215.52" r="5.1"/><circle cx="453.65" cy="213.86" r="5.1"/><circle cx="460.72" cy="217.33" r="5.1"/><circle cx="467.79" cy="218.99" r="5.1"/><circle cx="474.86" cy="216.82" r="5.1"/><circle cx="481.93" cy="219.04" r="5.1"/><circle cx="489" cy="219.51" r="5.1"/><circle cx="496.07" cy="220.82" r="5.1"/><circle cx="503.14" cy="221.78" r="5.1"/><circle cx="510.21" cy="220.2" r="5.1"/><circle cx="517.28" cy="221.21" r="5.1"/><circle cx="524.35" cy="224.3" r="5.1"/><circle cx="531.42" cy="223.75" r="5.1"/><circle cx="538.49" cy="223.11" r="5.1"/><circle cx="545.56" cy="222.56" r="5.1"/><circle cx="552.63" cy="222.68" r="5.1"/><circle cx="559.7" cy="225.06" r="5.1"/><circle cx="566.77" cy="228.52" r="5.1"/><circle cx="573.84" cy="229.22" r="5.1"/><circle cx="580.91" cy="229.68" r="5.1"/><circle cx="587.98" cy="232.82" r="5.1"/><circle cx="595.05" cy="231.39" r="5.1"/><circle cx="602.12" cy="230.6" r="5.1"/><circle cx="609.19" cy="231.97" r="5.1"/><circle cx="616.26" cy="233.08" r="5.1"/><circle cx="623.33" cy="231.99" r="5.1"/><circle cx="630.4" cy="231.4" r="5.1"/><circle cx="637.47" cy="233.22" r="5.1"/><circle cx="644.54" cy="234.52" r="5.1"/><circle cx="651.61" cy="233.55" r="5.1"/><circle cx="658.68" cy="234.67" r="5.1"/><circle cx="665.75" cy="235.17" r="5.1"/><circle cx="672.82" cy="237.04" r="5.1"/><circle cx="679.89" cy="237.68" r="5.1"/><circle cx="686.96" cy="238.37" r="5.1"/><circle cx="694.03" cy="238.71" r="5.1"/><circle cx="701.1" cy="241.01" r="5.1"/><circle cx="708.17" cy="243.09" r="5.1"/><circle cx="715.24" cy="242.33" r="5.1"/><circle cx="722.31" cy="243.71" r="5.1"/><circle cx="729.38" cy="242.73" r="5.1"/><circle cx="736.45" cy="243.49" r="5.1"/><circle cx="743.52" cy="245.09" r="5.1"/><circle cx="750.59" cy="247.31" r="5.1"/></g>
<g stroke="#308890" stroke-width="1.05" fill="#fff"><circle cx="201.84" cy="195.08" r="5.1"/><circle cx="208.91" cy="196.56" r="5.1"/><circle cx="215.98" cy="196.22" r="5.1"/><circle cx="223.05" cy="195.67" r="5.1"/><circle cx="230.12" cy="195.46" r="5.1"/><circle cx="237.19" cy="197.14" r="5.1"/><circle cx="244.26" cy="200.75" r="5.1"/><circle cx="251.33" cy="202.21" r="5.1"/><circle cx="258.4" cy="201.93" r="5.1"/><circle cx="265.47" cy="203.25" r="5.1"/><circle cx="272.54" cy="203.17" r="5.1"/><circle cx="279.61" cy="201.19" r="5.1"/><circle cx="286.68" cy="202.76" r="5.1"/><circle cx="293.75" cy="203.63" r="5.1"/><circle cx="300.82" cy="205.81" r="5.1"/><circle cx="307.89" cy="205.14" r="5.1"/><circle cx="314.96" cy="203.72" r="5.1"/><circle cx="322.03" cy="205.82" r="5.1"/><circle cx="329.1" cy="209.92" r="5.1"/><circle cx="336.17" cy="208.68" r="5.1"/><circle cx="343.24" cy="211.6" r="5.1"/><circle cx="350.31" cy="211.76" r="5.1"/><circle cx="357.38" cy="213.15" r="5.1"/><circle cx="364.45" cy="213.63" r="5.1"/><circle cx="371.52" cy="213.19" r="5.1"/><circle cx="378.59" cy="215.84" r="5.1"/><circle cx="385.66" cy="215.89" r="5.1"/><circle cx="392.73" cy="217.11" r="5.1"/><circle cx="399.8" cy="218.73" r="5.1"/><circle cx="406.87" cy="217.57" r="5.1"/><circle cx="413.94" cy="219.88" r="5.1"/><circle cx="421.01" cy="221.39" r="5.1"/><circle cx="428.08" cy="221.75" r="5.1"/><circle cx="435.15" cy="221.88" r="5.1"/><circle cx="442.22" cy="223.6" r="5.1"/><circle cx="449.29" cy="225.16" r="5.1"/><circle cx="456.36" cy="225.66" r="5.1"/><circle cx="463.43" cy="226.88" r="5.1"/><circle cx="470.5" cy="227.71" r="5.1"/><circle cx="477.57" cy="226.27" r="5.1"/><circle cx="484.64" cy="229.68" r="5.1"/><circle cx="491.71" cy="231.95" r="5.1"/><circle cx="498.78" cy="230.71" r="5.1"/><circle cx="505.85" cy="234.76" r="5.1"/><circle cx="512.92" cy="234.51" r="5.1"/><circle cx="519.99" cy="234.39" r="5.1"/><circle cx="527.06" cy="235.81" r="5.1"/><circle cx="534.13" cy="238.29" r="5.1"/><circle cx="541.2" cy="237.33" r="5.1"/><circle cx="548.27" cy="239.85" r="5.1"/><circle cx="555.34" cy="240.24" r="5.1"/><circle cx="562.41" cy="239.55" r="5.1"/><circle cx="569.48" cy="241.29" r="5.1"/><circle cx="576.55" cy="241.44" r="5.1"/><circle cx="583.62" cy="242.98" r="5.1"/><circle cx="590.69" cy="244.64" r="5.1"/><circle cx="597.76" cy="244.98" r="5.1"/><circle cx="604.83" cy="243.6" r="5.1"/><circle cx="611.9" cy="247.67" r="5.1"/><circle cx="618.97" cy="250.27" r="5.1"/><circle cx="626.04" cy="252.16" r="5.1"/><circle cx="633.11" cy="251.63" r="5.1"/><circle cx="640.18" cy="252.54" r="5.1"/><circle cx="647.25" cy="253.31" r="5.1"/><circle cx="654.32" cy="250.92" r="5.1"/><circle cx="661.39" cy="251.65" r="5.1"/><circle cx="668.46" cy="253" r="5.1"/><circle cx="675.53" cy="252.77" r="5.1"/><circle cx="682.6" cy="254.44" r="5.1"/><circle cx="689.67" cy="256.34" r="5.1"/><circle cx="696.74" cy="256.69" r="5.1"/><circle cx="703.81" cy="255.85" r="5.1"/><circle cx="710.88" cy="259.62" r="5.1"/><circle cx="717.95" cy="261.48" r="5.1"/><circle cx="725.02" cy="261.9" r="5.1"/><circle cx="732.09" cy="263.1" r="5.1"/><circle cx="739.16" cy="261.29" r="5.1"/><circle cx="746.23" cy="262.96" r="5.1"/><circle cx="753.3" cy="264.08" r="5.1"/></g>
<g stroke="#30a070" stroke-width="1.05" fill="#fff"><circle cx="185.38" cy="198.54" r="5.1"/><circle cx="192.45" cy="197.76" r="5.1"/><circle cx="199.52" cy="197.74" r="5.1"/><circle cx="206.59" cy="195.01" r="5.1"/><circle cx="213.66" cy="195.66" r="5.1"/><circle cx="220.73" cy="197.76" r="5.1"/><circle cx="227.8" cy="200.54" r="5.1"/><circle cx="234.87" cy="200.67" r="5.1"/><circle cx="241.94" cy="201.68" r="5.1"/><circle cx="249.01" cy="204.96" r="5.1"/><circle cx="256.08" cy="204.67" r="5.1"/><circle cx="263.15" cy="205.84" r="5.1"/><circle cx="270.22" cy="207.79" r="5.1"/><circle cx="277.29" cy="206.89" r="5.1"/><circle cx="284.36" cy="207.98" r="5.1"/><circle cx="291.43" cy="206.24" r="5.1"/><circle cx="298.5" cy="206.6" r="5.1"/><circle cx="305.57" cy="206.76" r="5.1"/><circle cx="312.64" cy="207.54" r="5.1"/><circle cx="319.71" cy="209.81" r="5.1"/><circle cx="326.78" cy="213.34" r="5.1"/><circle cx="333.85" cy="212.04" r="5.1"/><circle cx="340.92" cy="211.94" r="5.1"/><circle cx="347.99" cy="213.85" r="5.1"/><circle cx="355.06" cy="213.53" r="5.1"/><circle cx="362.13" cy="215.88" r="5.1"/><circle cx="369.2" cy="217.88" r="5.1"/><circle cx="376.27" cy="218.41" r="5.1"/><circle cx="383.34" cy="220.17" r="5.1"/><circle cx="390.41" cy="218.94" r="5.1"/><circle cx="397.48" cy="221.63" r="5.1"/><circle cx="404.55" cy="220.67" r="5.1"/><circle cx="411.62" cy="221.62" r="5.1"/><circle cx="418.69" cy="222.8" r="5.1"/><circle cx="425.76" cy="224.12" r="5.1"/><circle cx="432.83" cy="226.97" r="5.1"/><circle cx="439.9" cy="228.09" r="5.1"/><circle cx="446.97" cy="228.55" r="5.1"/><circle cx="454.04" cy="230.47" r="5.1"/><circle cx="461.11" cy="233.39" r="5.1"/><circle cx="468.18" cy="233.51" r="5.1"/><circle cx="475.25" cy="234.47" r="5.1"/><circle cx="482.32" cy="236.59" r="5.1"/><circle cx="489.39" cy="237.02" r="5.1"/><circle cx="496.46" cy="235.67" r="5.1"/><circle cx="503.53" cy="240.18" r="5.1"/><circle cx="510.6" cy="242.93" r="5.1"/><circle cx="517.67" cy="239.54" r="5.1"/><circle cx="524.74" cy="240.44" r="5.1"/><circle cx="531.81" cy="241.99" r="5.1"/><circle cx="538.88" cy="244.04" r="5.1"/><circle cx="545.95" cy="245.29" r="5.1"/><circle cx="553.02" cy="245.23" r="5.1"/><circle cx="560.09" cy="244.58" r="5.1"/><circle cx="567.16" cy="246.1" r="5.1"/><circle cx="574.23" cy="248.63" r="5.1"/><circle cx="581.3" cy="247.8" r="5.1"/><circle cx="588.37" cy="247.78" r="5.1"/><circle cx="595.44" cy="249.48" r="5.1"/><circle cx="602.51" cy="248.42" r="5.1"/><circle cx="609.58" cy="250.37" r="5.1"/><circle cx="616.65" cy="251.71" r="5.1"/><circle cx="623.72" cy="254.07" r="5.1"/><circle cx="630.79" cy="254.4" r="5.1"/><circle cx="637.86" cy="254.75" r="5.1"/><circle cx="644.93" cy="256" r="5.1"/><circle cx="652" cy="257.6" r="5.1"/><circle cx="659.07" cy="258.16" r="5.1"/><circle cx="666.14" cy="259.78" r="5.1"/><circle cx="673.21" cy="262.1" r="5.1"/><circle cx="680.28" cy="264.46" r="5.1"/><circle cx="687.35" cy="266.96" r="5.1"/><circle cx="694.42" cy="265.61" r="5.1"/><circle cx="701.49" cy="265.68" r="5.1"/><circle cx="708.56" cy="263.44" r="5.1"/><circle cx="715.63" cy="268.19" r="5.1"/><circle cx="722.7" cy="268.03" r="5.1"/><circle cx="729.77" cy="269.23" r="5.1"/><circle cx="736.84" cy="271.07" r="5.1"/><circle cx="743.91" cy="270.13" r="5.1"/><circle cx="750.98" cy="272.34" r="5.1"/></g>
<g stroke="#30b040" stroke-width="1.05" fill="#fff"><circle cx="150.35" cy="197.26" r="5.1"/><circle cx="157.42" cy="198.73" r="5.1"/><circle cx="164.49" cy="196.47" r="5.1"/><circle cx="171.56" cy="197.84" r="5.1"/><circle cx="178.63" cy="198.29" r="5.1"/><circle cx="185.7" cy="198.68" r="5.1"/><circle cx="192.77" cy="199.81" r="5.1"/><circle cx="199.84" cy="201.25" r="5.1"/><circle cx="206.91" cy="204.21" r="5.1"/><circle cx="213.98" cy="200.36" r="5.1"/><circle cx="221.05" cy="199.54" r="5.1"/><circle cx="228.12" cy="199.34" r="5.1"/><circle cx="235.19" cy="203.5" r="5.1"/><circle cx="242.26" cy="203.69" r="5.1"/><circle cx="249.33" cy="205.49" r="5.1"/><circle cx="256.4" cy="207.02" r="5.1"/><circle cx="263.47" cy="204.32" r="5.1"/><circle cx="270.54" cy="207.23" r="5.1"/><circle cx="277.61" cy="208.75" r="5.1"/><circle cx="284.68" cy="208.02" r="5.1"/><circle cx="291.75" cy="207.78" r="5.1"/><circle cx="298.82" cy="208" r="5.1"/><circle cx="305.89" cy="209.51" r="5.1"/><circle cx="312.96" cy="210.64" r="5.1"/><circle cx="320.03" cy="212.5" r="5.1"/><circle cx="327.1" cy="211.7" r="5.1"/><circle cx="334.17" cy="212.23" r="5.1"/><circle cx="341.24" cy="214.31" r="5.1"/><circle cx="348.31" cy="216.29" r="5.1"/><circle cx="355.38" cy="216.96" r="5.1"/><circle cx="362.45" cy="220.57" r="5.1"/><circle cx="369.52" cy="221.96" r="5.1"/><circle cx="376.59" cy="223.85" r="5.1"/><circle cx="383.66" cy="225.04" r="5.1"/><circle cx="390.73" cy="227.75" r="5.1"/><circle cx="397.8" cy="227.16" r="5.1"/><circle cx="404.87" cy="227.57" r="5.1"/><circle cx="411.94" cy="229.46" r="5.1"/><circle cx="419.01" cy="230.76" r="5.1"/><circle cx="426.08" cy="229.45" r="5.1"/><circle cx="433.15" cy="230.3" r="5.1"/><circle cx="440.22" cy="232.49" r="5.1"/><circle cx="447.29" cy="234.01" r="5.1"/><circle cx="454.36" cy="234.5" r="5.1"/><circle cx="461.43" cy="234.43" r="5.1"/><circle cx="468.5" cy="235.86" r="5.1"/><circle cx="475.57" cy="238.49" r="5.1"/><circle cx="482.64" cy="240.49" r="5.1"/><circle cx="489.71" cy="240.73" r="5.1"/><circle cx="496.78" cy="240.52" r="5.1"/><circle cx="503.85" cy="241.46" r="5.1"/><circle cx="510.92" cy="240.71" r="5.1"/><circle cx="517.99" cy="244.25" r="5.1"/><circle cx="525.06" cy="246.74" r="5.1"/><circle cx="532.13" cy="247.41" r="5.1"/><circle cx="539.2" cy="248.96" r="5.1"/><circle cx="546.27" cy="251.63" r="5.1"/><circle cx="553.34" cy="251.72" r="5.1"/><circle cx="560.41" cy="252.3" r="5.1"/><circle cx="567.48" cy="254.06" r="5.1"/><circle cx="574.55" cy="253.65" r="5.1"/><circle cx="581.62" cy="255.2" r="5.1"/><circle cx="588.69" cy="254.79" r="5.1"/><circle cx="595.76" cy="257.25" r="5.1"/><circle cx="602.83" cy="257.12" r="5.1"/><circle cx="609.9" cy="258.56" r="5.1"/><circle cx="616.97" cy="259.92" r="5.1"/><circle cx="624.04" cy="259.22" r="5.1"/><circle cx="631.11" cy="260.4" r="5.1"/><circle cx="638.18" cy="262.6" r="5.1"/><circle cx="645.25" cy="263.57" r="5.1"/><circle cx="652.32" cy="263.98" r="5.1"/><circle cx="659.39" cy="264.68" r="5.1"/><circle cx="666.46" cy="265.67" r="5.1"/><circle cx="673.53" cy="267.4" r="5.1"/><circle cx="680.6" cy="268.56" r="5.1"/><circle cx="687.67" cy="271.55" r="5.1"/><circle cx="694.74" cy="272.78" r="5.1"/><circle cx="701.81" cy="273.11" r="5.1"/><circle cx="708.88" cy="271.67" r="5.1"/><circle cx="715.95" cy="273.71" r="5.1"/><circle cx="723.02" cy="276.07" r="5.1"/><circle cx="730.09" cy="276.89" r="5.1"/><circle cx="737.16" cy="280.16" r="5.1"/><circle cx="744.23" cy="282.6" r="5.1"/><circle cx="751.3" cy="283.74" r="5.1"/></g>
<g stroke="#40c040" stroke-width="1.05" fill="#fff"><circle cx="147.82" cy="197.84" r="5.1"/><circle cx="154.89" cy="199.57" r="5.1"/><circle cx="161.96" cy="199.07" r="5.1"/><circle cx="169.03" cy="201.04" r="5.1"/><circle cx="176.1" cy="199.91" r="5.1"/><circle cx="183.17" cy="200.83" r="5.1"/><circle cx="190.24" cy="200.56" r="5.1"/><circle cx="197.31" cy="201.51" r="5.1"/><circle cx="204.38" cy="201.23" r="5.1"/><circle cx="211.45" cy="200.17" r="5.1"/><circle cx="218.52" cy="203.41" r="5.1"/><circle cx="225.59" cy="204.86" r="5.1"/><circle cx="232.66" cy="205.15" r="5.1"/><circle cx="239.73" cy="206.83" r="5.1"/><circle cx="246.8" cy="209.28" r="5.1"/><circle cx="253.87" cy="208.48" r="5.1"/><circle cx="260.94" cy="209.26" r="5.1"/><circle cx="268.01" cy="210.63" r="5.1"/><circle cx="275.08" cy="211.52" r="5.1"/><circle cx="282.15" cy="211.04" r="5.1"/><circle cx="289.22" cy="208.61" r="5.1"/><circle cx="296.29" cy="211.73" r="5.1"/><circle cx="303.36" cy="212.75" r="5.1"/><circle cx="310.43" cy="213.41" r="5.1"/><circle cx="317.5" cy="213.95" r="5.1"/><circle cx="324.57" cy="215.54" r="5.1"/><circle cx="331.64" cy="216.21" r="5.1"/><circle cx="338.71" cy="216.44" r="5.1"/><circle cx="345.78" cy="217.58" r="5.1"/><circle cx="352.85" cy="219.05" r="5.1"/><circle cx="359.92" cy="220.51" r="5.1"/><circle cx="366.99" cy="221.23" r="5.1"/><circle cx="374.06" cy="224.5" r="5.1"/><circle cx="381.13" cy="224.38" r="5.1"/><circle cx="388.2" cy="227.32" r="5.1"/><circle cx="395.27" cy="227.38" r="5.1"/><circle cx="402.34" cy="229.67" r="5.1"/><circle cx="409.41" cy="232.85" r="5.1"/><circle cx="416.48" cy="233.7" r="5.1"/><circle cx="423.55" cy="233.46" r="5.1"/><circle cx="430.62" cy="234.79" r="5.1"/><circle cx="437.69" cy="236.19" r="5.1"/><circle cx="444.76" cy="235.05" r="5.1"/><circle cx="451.83" cy="236.29" r="5.1"/><circle cx="458.9" cy="238.5" r="5.1"/><circle cx="465.97" cy="239.47" r="5.1"/><circle cx="473.04" cy="241.23" r="5.1"/><circle cx="480.11" cy="243.6" r="5.1"/><circle cx="487.18" cy="245.52" r="5.1"/><circle cx="494.25" cy="247.32" r="5.1"/><circle cx="501.32" cy="248.44" r="5.1"/><circle cx="508.39" cy="248.44" r="5.1"/><circle cx="515.46" cy="249.24" r="5.1"/><circle cx="522.53" cy="249.85" r="5.1"/><circle cx="529.6" cy="250.62" r="5.1"/><circle cx="536.67" cy="251.71" r="5.1"/><circle cx="543.74" cy="250.81" r="5.1"/><circle cx="550.81" cy="252.53" r="5.1"/><circle cx="557.88" cy="254.42" r="5.1"/><circle cx="564.95" cy="254.78" r="5.1"/><circle cx="572.02" cy="256.68" r="5.1"/><circle cx="579.09" cy="258.97" r="5.1"/><circle cx="586.16" cy="259.91" r="5.1"/><circle cx="593.23" cy="263.85" r="5.1"/><circle cx="600.3" cy="260.57" r="5.1"/><circle cx="607.37" cy="262.17" r="5.1"/><circle cx="614.44" cy="261.48" r="5.1"/><circle cx="621.51" cy="265.16" r="5.1"/><circle cx="628.58" cy="269.99" r="5.1"/><circle cx="635.65" cy="266.63" r="5.1"/><circle cx="642.72" cy="268.48" r="5.1"/><circle cx="649.79" cy="270.55" r="5.1"/><circle cx="656.86" cy="271.16" r="5.1"/><circle cx="663.93" cy="273.09" r="5.1"/><circle cx="671" cy="271.05" r="5.1"/><circle cx="678.07" cy="274.3" r="5.1"/><circle cx="685.14" cy="276.07" r="5.1"/><circle cx="692.21" cy="277.12" r="5.1"/><circle cx="699.28" cy="277.4" r="5.1"/><circle cx="706.35" cy="279.61" r="5.1"/><circle cx="713.42" cy="279.92" r="5.1"/><circle cx="720.49" cy="281.47" r="5.1"/><circle cx="727.56" cy="281.89" r="5.1"/><circle cx="734.63" cy="280.33" r="5.1"/><circle cx="741.7" cy="282.72" r="5.1"/><circle cx="748.77" cy="284.91" r="5.1"/><circle cx="755.84" cy="287.38" r="5.1"/></g>
<g stroke="#70d030" stroke-width="1.05" fill="#fff"><circle cx="150.54" cy="199.06" r="5.1"/><circle cx="157.61" cy="200.01" r="5.1"/><circle cx="164.68" cy="200.79" r="5.1"/><circle cx="171.75" cy="201.9" r="5.1"/><circle cx="178.82" cy="203.96" r="5.1"/><circle cx="185.89" cy="202.96" r="5.1"/><circle cx="192.96" cy="204.1" r="5.1"/><circle cx="200.03" cy="204.05" r="5.1"/><circle cx="207.1" cy="205.02" r="5.1"/><circle cx="214.17" cy="205.21" r="5.1"/><circle cx="221.24" cy="204.58" r="5.1"/><circle cx="228.31" cy="206.18" r="5.1"/><circle cx="235.38" cy="206.31" r="5.1"/><circle cx="242.45" cy="210.55" r="5.1"/><circle cx="249.52" cy="209.81" r="5.1"/><circle cx="256.59" cy="210.64" r="5.1"/><circle cx="263.66" cy="212.29" r="5.1"/><circle cx="270.73" cy="212.51" r="5.1"/><circle cx="277.8" cy="215" r="5.1"/><circle cx="284.87" cy="214.72" r="5.1"/><circle cx="291.94" cy="213" r="5.1"/><circle cx="299.01" cy="215.53" r="5.1"/><circle cx="306.08" cy="215.66" r="5.1"/><circle cx="313.15" cy="220.59" r="5.1"/><circle cx="320.22" cy="219.1" r="5.1"/><circle cx="327.29" cy="219.35" r="5.1"/><circle cx="334.36" cy="220.86" r="5.1"/><circle cx="341.43" cy="220.91" r="5.1"/><circle cx="348.5" cy="223.97" r="5.1"/><circle cx="355.57" cy="227.42" r="5.1"/><circle cx="362.64" cy="230.5" r="5.1"/><circle cx="369.71" cy="231.35" r="5.1"/><circle cx="376.78" cy="231.62" r="5.1"/><circle cx="383.85" cy="234.15" r="5.1"/><circle cx="390.92" cy="236.05" r="5.1"/><circle cx="397.99" cy="235.81" r="5.1"/><circle cx="405.06" cy="235.77" r="5.1"/><circle cx="412.13" cy="235.87" r="5.1"/><circle cx="419.2" cy="237.75" r="5.1"/><circle cx="426.27" cy="239.04" r="5.1"/><circle cx="433.34" cy="241.39" r="5.1"/><circle cx="440.41" cy="243.68" r="5.1"/><circle cx="447.48" cy="242.7" r="5.1"/><circle cx="454.55" cy="244.67" r="5.1"/><circle cx="461.62" cy="246.27" r="5.1"/><circle cx="468.69" cy="246.76" r="5.1"/><circle cx="475.76" cy="248.25" r="5.1"/><circle cx="482.83" cy="251.24" r="5.1"/><circle cx="489.9" cy="251.76" r="5.1"/><circle cx="496.97" cy="252.49" r="5.1"/><circle cx="504.04" cy="253.04" r="5.1"/><circle cx="511.11" cy="254.73" r="5.1"/><circle cx="518.18" cy="255.17" r="5.1"/><circle cx="525.25" cy="257.24" r="5.1"/><circle cx="532.32" cy="256.75" r="5.1"/><circle cx="539.39" cy="257.58" r="5.1"/><circle cx="546.46" cy="259.96" r="5.1"/><circle cx="553.53" cy="263.1" r="5.1"/><circle cx="560.6" cy="263.05" r="5.1"/><circle cx="567.67" cy="264.31" r="5.1"/><circle cx="574.74" cy="266.35" r="5.1"/><circle cx="581.81" cy="266.79" r="5.1"/><circle cx="588.88" cy="268.26" r="5.1"/><circle cx="595.95" cy="269.76" r="5.1"/><circle cx="603.02" cy="268.98" r="5.1"/><circle cx="610.09" cy="268.7" r="5.1"/><circle cx="617.16" cy="271.28" r="5.1"/><circle cx="624.23" cy="271.77" r="5.1"/><circle cx="631.3" cy="273.82" r="5.1"/><circle cx="638.37" cy="275.74" r="5.1"/><circle cx="645.44" cy="276.16" r="5.1"/><circle cx="652.51" cy="276.6" r="5.1"/><circle cx="659.58" cy="277.57" r="5.1"/><circle cx="666.65" cy="281.25" r="5.1"/><circle cx="673.72" cy="279.55" r="5.1"/><circle cx="680.79" cy="282.95" r="5.1"/><circle cx="687.86" cy="284.31" r="5.1"/><circle cx="694.93" cy="284.73" r="5.1"/><circle cx="702" cy="286.76" r="5.1"/><circle cx="709.07" cy="287.92" r="5.1"/><circle cx="716.14" cy="288.02" r="5.1"/><circle cx="723.21" cy="289.6" r="5.1"/><circle cx="730.28" cy="291.33" r="5.1"/><circle cx="737.35" cy="293.27" r="5.1"/><circle cx="744.42" cy="294.5" r="5.1"/><circle cx="751.49" cy="295.49" r="5.1"/></g>
<g stroke="#b0e030" stroke-width="1.05" fill="#fff"><circle cx="150.81" cy="200.85" r="5.1"/><circle cx="157.88" cy="200.97" r="5.1"/><circle cx="164.95" cy="202.12" r="5.1"/><circle cx="172.02" cy="204.24" r="5.1"/><circle cx="179.09" cy="202.32" r="5.1"/><circle cx="186.16" cy="203.4" r="5.1"/><circle cx="193.23" cy="204.96" r="5.1"/><circle cx="200.3" cy="205.36" r="5.1"/><circle cx="207.37" cy="206.41" r="5.1"/><circle cx="214.44" cy="208.89" r="5.1"/><circle cx="221.51" cy="212.39" r="5.1"/><circle cx="228.58" cy="213.19" r="5.1"/><circle cx="235.65" cy="213.75" r="5.1"/><circle cx="242.72" cy="212.05" r="5.1"/><circle cx="249.79" cy="215.9" r="5.1"/><circle cx="256.86" cy="216.07" r="5.1"/><circle cx="263.93" cy="216.18" r="5.1"/><circle cx="271" cy="214.95" r="5.1"/><circle cx="278.07" cy="215.72" r="5.1"/><circle cx="285.14" cy="214.99" r="5.1"/><circle cx="292.21" cy="216.3" r="5.1"/><circle cx="299.28" cy="217.93" r="5.1"/><circle cx="306.35" cy="218.82" r="5.1"/><circle cx="313.42" cy="220.29" r="5.1"/><circle cx="320.49" cy="220.38" r="5.1"/><circle cx="327.56" cy="224.13" r="5.1"/><circle cx="334.63" cy="224.43" r="5.1"/><circle cx="341.7" cy="223.87" r="5.1"/><circle cx="348.77" cy="226.43" r="5.1"/><circle cx="355.84" cy="227.97" r="5.1"/><circle cx="362.91" cy="229.3" r="5.1"/><circle cx="369.98" cy="231.61" r="5.1"/><circle cx="377.05" cy="234.44" r="5.1"/><circle cx="384.12" cy="234.76" r="5.1"/><circle cx="391.19" cy="236.9" r="5.1"/><circle cx="398.26" cy="240.81" r="5.1"/><circle cx="405.33" cy="242.77" r="5.1"/><circle cx="412.4" cy="243.45" r="5.1"/><circle cx="419.47" cy="244.81" r="5.1"/><circle cx="426.54" cy="245.88" r="5.1"/><circle cx="433.61" cy="247.2" r="5.1"/><circle cx="440.68" cy="249.58" r="5.1"/><circle cx="447.75" cy="250.52" r="5.1"/><circle cx="454.82" cy="248.66" r="5.1"/><circle cx="461.89" cy="251.22" r="5.1"/><circle cx="468.96" cy="252.21" r="5.1"/><circle cx="476.03" cy="255.38" r="5.1"/><circle cx="483.1" cy="256.21" r="5.1"/><circle cx="490.17" cy="258.28" r="5.1"/><circle cx="497.24" cy="262.73" r="5.1"/><circle cx="504.31" cy="261.77" r="5.1"/><circle cx="511.38" cy="261.67" r="5.1"/><circle cx="518.45" cy="261.81" r="5.1"/><circle cx="525.52" cy="261.18" r="5.1"/><circle cx="532.59" cy="262.05" r="5.1"/><circle cx="539.66" cy="266.05" r="5.1"/><circle cx="546.73" cy="267.71" r="5.1"/><circle cx="553.8" cy="267.68" r="5.1"/><circle cx="560.87" cy="268.73" r="5.1"/><circle cx="567.94" cy="272.65" r="5.1"/><circle cx="575.01" cy="273.76" r="5.1"/><circle cx="582.08" cy="275.52" r="5.1"/><circle cx="589.15" cy="278.04" r="5.1"/><circle cx="596.22" cy="281.46" r="5.1"/><circle cx="603.29" cy="284.83" r="5.1"/><circle cx="610.36" cy="286.23" r="5.1"/><circle cx="617.43" cy="286.47" r="5.1"/><circle cx="624.5" cy="287.23" r="5.1"/><circle cx="631.57" cy="290.35" r="5.1"/><circle cx="638.64" cy="292.29" r="5.1"/><circle cx="645.71" cy="291.74" r="5.1"/><circle cx="652.78" cy="292.97" r="5.1"/><circle cx="659.85" cy="294.05" r="5.1"/><circle cx="666.92" cy="294.94" r="5.1"/><circle cx="673.99" cy="295.31" r="5.1"/><circle cx="681.06" cy="295.01" r="5.1"/><circle cx="688.13" cy="296.42" r="5.1"/><circle cx="695.2" cy="296.5" r="5.1"/><circle cx="702.27" cy="300.7" r="5.1"/><circle cx="709.34" cy="302.88" r="5.1"/><circle cx="716.41" cy="302.48" r="5.1"/><circle cx="723.48" cy="306.18" r="5.1"/><circle cx="730.55" cy="308.29" r="5.1"/><circle cx="737.62" cy="306.48" r="5.1"/><circle cx="744.69" cy="310.82" r="5.1"/><circle cx="751.76" cy="312.64" r="5.1"/></g>
<g stroke="#e0e820" stroke-width="1.05" fill="#fff"><circle cx="152.99" cy="201.95" r="5.1"/><circle cx="160.06" cy="202.23" r="5.1"/><circle cx="167.13" cy="203.09" r="5.1"/><circle cx="174.2" cy="204.41" r="5.1"/><circle cx="181.27" cy="207.51" r="5.1"/><circle cx="188.34" cy="208.09" r="5.1"/><circle cx="195.41" cy="209.27" r="5.1"/><circle cx="202.48" cy="208.21" r="5.1"/><circle cx="209.55" cy="210.66" r="5.1"/><circle cx="216.62" cy="210.06" r="5.1"/><circle cx="223.69" cy="211.64" r="5.1"/><circle cx="230.76" cy="213.77" r="5.1"/><circle cx="237.83" cy="216.68" r="5.1"/><circle cx="244.9" cy="218.28" r="5.1"/><circle cx="251.97" cy="218.62" r="5.1"/><circle cx="259.04" cy="219.85" r="5.1"/><circle cx="266.11" cy="219.42" r="5.1"/><circle cx="273.18" cy="219.65" r="5.1"/><circle cx="280.25" cy="219.77" r="5.1"/><circle cx="287.32" cy="221.15" r="5.1"/><circle cx="294.39" cy="220.94" r="5.1"/><circle cx="301.46" cy="220.27" r="5.1"/><circle cx="308.53" cy="220.24" r="5.1"/><circle cx="315.6" cy="225.41" r="5.1"/><circle cx="322.67" cy="223.75" r="5.1"/><circle cx="329.74" cy="226.07" r="5.1"/><circle cx="336.81" cy="228.17" r="5.1"/><circle cx="343.88" cy="230.33" r="5.1"/><circle cx="350.95" cy="231.54" r="5.1"/><circle cx="358.02" cy="235.04" r="5.1"/><circle cx="365.09" cy="237.39" r="5.1"/><circle cx="372.16" cy="238.18" r="5.1"/><circle cx="379.23" cy="240.05" r="5.1"/><circle cx="386.3" cy="240.69" r="5.1"/><circle cx="393.37" cy="243.85" r="5.1"/><circle cx="400.44" cy="248.4" r="5.1"/><circle cx="407.51" cy="251.3" r="5.1"/><circle cx="414.58" cy="252.98" r="5.1"/><circle cx="421.65" cy="253.39" r="5.1"/><circle cx="428.72" cy="254.32" r="5.1"/><circle cx="435.79" cy="256.13" r="5.1"/><circle cx="442.86" cy="259.33" r="5.1"/><circle cx="449.93" cy="259.93" r="5.1"/><circle cx="457" cy="260.81" r="5.1"/><circle cx="464.07" cy="260.51" r="5.1"/><circle cx="471.14" cy="262.58" r="5.1"/><circle cx="478.21" cy="264.64" r="5.1"/><circle cx="485.28" cy="265.49" r="5.1"/><circle cx="492.35" cy="266.25" r="5.1"/><circle cx="499.42" cy="268.6" r="5.1"/><circle cx="506.49" cy="271.12" r="5.1"/><circle cx="513.56" cy="271.9" r="5.1"/><circle cx="520.63" cy="274.9" r="5.1"/><circle cx="527.7" cy="275.98" r="5.1"/><circle cx="534.77" cy="278.09" r="5.1"/><circle cx="541.84" cy="281.52" r="5.1"/><circle cx="548.91" cy="281.63" r="5.1"/><circle cx="555.98" cy="282.98" r="5.1"/><circle cx="563.05" cy="284.08" r="5.1"/><circle cx="570.12" cy="285.33" r="5.1"/><circle cx="577.19" cy="287.59" r="5.1"/><circle cx="584.26" cy="287.17" r="5.1"/><circle cx="591.33" cy="289.93" r="5.1"/><circle cx="598.4" cy="290.03" r="5.1"/><circle cx="605.47" cy="291.7" r="5.1"/><circle cx="612.54" cy="295.19" r="5.1"/><circle cx="619.61" cy="294.73" r="5.1"/><circle cx="626.68" cy="298.92" r="5.1"/><circle cx="633.75" cy="302.72" r="5.1"/><circle cx="640.82" cy="304.71" r="5.1"/><circle cx="647.89" cy="306.01" r="5.1"/><circle cx="654.96" cy="306.68" r="5.1"/><circle cx="662.03" cy="307.35" r="5.1"/><circle cx="669.1" cy="311.4" r="5.1"/><circle cx="676.17" cy="310.41" r="5.1"/><circle cx="683.24" cy="311.7" r="5.1"/><circle cx="690.31" cy="313.83" r="5.1"/><circle cx="697.38" cy="314.39" r="5.1"/><circle cx="704.45" cy="314.44" r="5.1"/><circle cx="711.52" cy="317.05" r="5.1"/><circle cx="718.59" cy="318.91" r="5.1"/><circle cx="725.66" cy="318.43" r="5.1"/><circle cx="732.73" cy="320.22" r="5.1"/><circle cx="739.8" cy="321.69" r="5.1"/><circle cx="746.87" cy="323.82" r="5.1"/><circle cx="753.94" cy="326.75" r="5.1"/></g>
<g stroke="#f0e020" stroke-width="1.05" fill="#fff"><circle cx="152.56" cy="201.17" r="5.1"/><circle cx="159.63" cy="200.61" r="5.1"/><circle cx="166.7" cy="203.11" r="5.1"/><circle cx="173.77" cy="205.57" r="5.1"/><circle cx="180.84" cy="206.6" r="5.1"/><circle cx="187.91" cy="206.04" r="5.1"/><circle cx="194.98" cy="209.27" r="5.1"/><circle cx="202.05" cy="211.99" r="5.1"/><circle cx="209.12" cy="213.94" r="5.1"/><circle cx="216.19" cy="214.17" r="5.1"/><circle cx="223.26" cy="215.74" r="5.1"/><circle cx="230.33" cy="217.75" r="5.1"/><circle cx="237.4" cy="217.62" r="5.1"/><circle cx="244.47" cy="216.24" r="5.1"/><circle cx="251.54" cy="218.56" r="5.1"/><circle cx="258.61" cy="220.43" r="5.1"/><circle cx="265.68" cy="221.15" r="5.1"/><circle cx="272.75" cy="222.86" r="5.1"/><circle cx="279.82" cy="222.14" r="5.1"/><circle cx="286.89" cy="222.58" r="5.1"/><circle cx="293.96" cy="222.85" r="5.1"/><circle cx="301.03" cy="224.59" r="5.1"/><circle cx="308.1" cy="227.57" r="5.1"/><circle cx="315.17" cy="227.72" r="5.1"/><circle cx="322.24" cy="231.62" r="5.1"/><circle cx="329.31" cy="234.16" r="5.1"/><circle cx="336.38" cy="235.63" r="5.1"/><circle cx="343.45" cy="237.17" r="5.1"/><circle cx="350.52" cy="240.55" r="5.1"/><circle cx="357.59" cy="240.93" r="5.1"/><circle cx="364.66" cy="242.09" r="5.1"/><circle cx="371.73" cy="242.32" r="5.1"/><circle cx="378.8" cy="245.15" r="5.1"/><circle cx="385.87" cy="248.63" r="5.1"/><circle cx="392.94" cy="250.36" r="5.1"/><circle cx="400.01" cy="251.96" r="5.1"/><circle cx="407.08" cy="252.81" r="5.1"/><circle cx="414.15" cy="254.5" r="5.1"/><circle cx="421.22" cy="254.13" r="5.1"/><circle cx="428.29" cy="257.81" r="5.1"/><circle cx="435.36" cy="258.82" r="5.1"/><circle cx="442.43" cy="259.2" r="5.1"/><circle cx="449.5" cy="260.58" r="5.1"/><circle cx="456.57" cy="262.01" r="5.1"/><circle cx="463.64" cy="265.73" r="5.1"/><circle cx="470.71" cy="268.92" r="5.1"/><circle cx="477.78" cy="268.37" r="5.1"/><circle cx="484.85" cy="271.7" r="5.1"/><circle cx="491.92" cy="274.33" r="5.1"/><circle cx="498.99" cy="274.68" r="5.1"/><circle cx="506.06" cy="274.39" r="5.1"/><circle cx="513.13" cy="275.85" r="5.1"/><circle cx="520.2" cy="277.56" r="5.1"/><circle cx="527.27" cy="280.52" r="5.1"/><circle cx="534.34" cy="282.07" r="5.1"/><circle cx="541.41" cy="281.5" r="5.1"/><circle cx="548.48" cy="284.77" r="5.1"/><circle cx="555.55" cy="285.11" r="5.1"/><circle cx="562.62" cy="289.15" r="5.1"/><circle cx="569.69" cy="289.51" r="5.1"/><circle cx="576.76" cy="291.06" r="5.1"/><circle cx="583.83" cy="292.45" r="5.1"/><circle cx="590.9" cy="294.36" r="5.1"/><circle cx="597.97" cy="298.56" r="5.1"/><circle cx="605.04" cy="301.18" r="5.1"/><circle cx="612.11" cy="303.08" r="5.1"/><circle cx="619.18" cy="304.52" r="5.1"/><circle cx="626.25" cy="303.63" r="5.1"/><circle cx="633.32" cy="305.08" r="5.1"/><circle cx="640.39" cy="306.58" r="5.1"/><circle cx="647.46" cy="307.58" r="5.1"/><circle cx="654.53" cy="310.78" r="5.1"/><circle cx="661.6" cy="311.73" r="5.1"/><circle cx="668.67" cy="313" r="5.1"/><circle cx="675.74" cy="313.98" r="5.1"/><circle cx="682.81" cy="313.92" r="5.1"/><circle cx="689.88" cy="317.98" r="5.1"/><circle cx="696.95" cy="322.04" r="5.1"/><circle cx="704.02" cy="323.62" r="5.1"/><circle cx="711.09" cy="323.74" r="5.1"/><circle cx="718.16" cy="322.22" r="5.1"/><circle cx="725.23" cy="325.7" r="5.1"/><circle cx="732.3" cy="329.81" r="5.1"/><circle cx="739.37" cy="331.74" r="5.1"/><circle cx="746.44" cy="334.38" r="5.1"/><circle cx="753.51" cy="337.34" r="5.1"/></g>
<g stroke="#f8d020" stroke-width="1.05" fill="#fff"><circle cx="153.14" cy="202.75" r="5.1"/><circle cx="160.21" cy="203.81" r="5.1"/><circle cx="167.28" cy="203.45" r="5.1"/><circle cx="174.35" cy="204.43" r="5.1"/><circle cx="181.42" cy="206.04" r="5.1"/><circle cx="188.49" cy="206.74" r="5.1"/><circle cx="195.56" cy="208.13" r="5.1"/><circle cx="202.63" cy="209.56" r="5.1"/><circle cx="209.7" cy="211.65" r="5.1"/><circle cx="216.77" cy="214.41" r="5.1"/><circle cx="223.84" cy="217.49" r="5.1"/><circle cx="230.91" cy="218.62" r="5.1"/><circle cx="237.98" cy="219.46" r="5.1"/><circle cx="245.05" cy="219.65" r="5.1"/><circle cx="252.12" cy="221.34" r="5.1"/><circle cx="259.19" cy="221.93" r="5.1"/><circle cx="266.26" cy="224.39" r="5.1"/><circle cx="273.33" cy="224.69" r="5.1"/><circle cx="280.4" cy="226.16" r="5.1"/><circle cx="287.47" cy="226.67" r="5.1"/><circle cx="294.54" cy="226.78" r="5.1"/><circle cx="301.61" cy="227.61" r="5.1"/><circle cx="308.68" cy="227.45" r="5.1"/><circle cx="315.75" cy="229.99" r="5.1"/><circle cx="322.82" cy="231.3" r="5.1"/><circle cx="329.89" cy="232.23" r="5.1"/><circle cx="336.96" cy="234.78" r="5.1"/><circle cx="344.03" cy="238.27" r="5.1"/><circle cx="351.1" cy="240.21" r="5.1"/><circle cx="358.17" cy="239.37" r="5.1"/><circle cx="365.24" cy="241.9" r="5.1"/><circle cx="372.31" cy="244.95" r="5.1"/><circle cx="379.38" cy="248.05" r="5.1"/><circle cx="386.45" cy="248.94" r="5.1"/><circle cx="393.52" cy="251.6" r="5.1"/><circle cx="400.59" cy="254.42" r="5.1"/><circle cx="407.66" cy="256.55" r="5.1"/><circle cx="414.73" cy="255.82" r="5.1"/><circle cx="421.8" cy="257.46" r="5.1"/><circle cx="428.87" cy="259.03" r="5.1"/><circle cx="435.94" cy="260.91" r="5.1"/><circle cx="443.01" cy="263.26" r="5.1"/><circle cx="450.08" cy="266.91" r="5.1"/><circle cx="457.15" cy="268.36" r="5.1"/><circle cx="464.22" cy="268.66" r="5.1"/><circle cx="471.29" cy="269.25" r="5.1"/><circle cx="478.36" cy="272.74" r="5.1"/><circle cx="485.43" cy="273.61" r="5.1"/><circle cx="492.5" cy="275.72" r="5.1"/><circle cx="499.57" cy="279.72" r="5.1"/><circle cx="506.64" cy="282.97" r="5.1"/><circle cx="513.71" cy="285.63" r="5.1"/><circle cx="520.78" cy="284.63" r="5.1"/><circle cx="527.85" cy="288.28" r="5.1"/><circle cx="534.92" cy="289.02" r="5.1"/><circle cx="541.99" cy="291.55" r="5.1"/><circle cx="549.06" cy="292.48" r="5.1"/><circle cx="556.13" cy="295.12" r="5.1"/><circle cx="563.2" cy="296.07" r="5.1"/><circle cx="570.27" cy="297.38" r="5.1"/><circle cx="577.34" cy="298.58" r="5.1"/><circle cx="584.41" cy="299.14" r="5.1"/><circle cx="591.48" cy="301.24" r="5.1"/><circle cx="598.55" cy="304.25" r="5.1"/><circle cx="605.62" cy="304.28" r="5.1"/><circle cx="612.69" cy="306.52" r="5.1"/><circle cx="619.76" cy="307.14" r="5.1"/><circle cx="626.83" cy="307.98" r="5.1"/><circle cx="633.9" cy="308.67" r="5.1"/><circle cx="640.97" cy="313.98" r="5.1"/><circle cx="648.04" cy="315.85" r="5.1"/><circle cx="655.11" cy="317.02" r="5.1"/><circle cx="662.18" cy="320.08" r="5.1"/><circle cx="669.25" cy="318.77" r="5.1"/><circle cx="676.32" cy="321.31" r="5.1"/><circle cx="683.39" cy="322.66" r="5.1"/><circle cx="690.46" cy="325.75" r="5.1"/><circle cx="697.53" cy="325.77" r="5.1"/><circle cx="704.6" cy="328.27" r="5.1"/><circle cx="711.67" cy="330.26" r="5.1"/><circle cx="718.74" cy="333.93" r="5.1"/><circle cx="725.81" cy="334.43" r="5.1"/><circle cx="732.88" cy="335.97" r="5.1"/><circle cx="739.95" cy="338.18" r="5.1"/><circle cx="747.02" cy="340.18" r="5.1"/><circle cx="754.09" cy="342.2" r="5.1"/></g>
<g stroke="#f8c020" stroke-width="1.05" fill="#fff"><circle cx="152.16" cy="203.76" r="5.1"/><circle cx="159.23" cy="205.53" r="5.1"/><circle cx="166.3" cy="208.28" r="5.1"/><circle cx="173.37" cy="207.24" r="5.1"/><circle cx="180.44" cy="209.92" r="5.1"/><circle cx="187.51" cy="213.6" r="5.1"/><circle cx="194.58" cy="212.86" r="5.1"/><circle cx="201.65" cy="213.82" r="5.1"/><circle cx="208.72" cy="215.26" r="5.1"/><circle cx="215.79" cy="215.47" r="5.1"/><circle cx="222.86" cy="218.91" r="5.1"/><circle cx="229.93" cy="218.39" r="5.1"/><circle cx="237" cy="221.52" r="5.1"/><circle cx="244.07" cy="225" r="5.1"/><circle cx="251.14" cy="223.43" r="5.1"/><circle cx="258.21" cy="224.49" r="5.1"/><circle cx="265.28" cy="223.32" r="5.1"/><circle cx="272.35" cy="226.31" r="5.1"/><circle cx="279.42" cy="226.33" r="5.1"/><circle cx="286.49" cy="227.21" r="5.1"/><circle cx="293.56" cy="228.5" r="5.1"/><circle cx="300.63" cy="230.39" r="5.1"/><circle cx="307.7" cy="231.02" r="5.1"/><circle cx="314.77" cy="232.67" r="5.1"/><circle cx="321.84" cy="233.8" r="5.1"/><circle cx="328.91" cy="236.27" r="5.1"/><circle cx="335.98" cy="237.05" r="5.1"/><circle cx="343.05" cy="240.1" r="5.1"/><circle cx="350.12" cy="240.31" r="5.1"/><circle cx="357.19" cy="243.26" r="5.1"/><circle cx="364.26" cy="249.05" r="5.1"/><circle cx="371.33" cy="250.98" r="5.1"/><circle cx="378.4" cy="251.14" r="5.1"/><circle cx="385.47" cy="253.9" r="5.1"/><circle cx="392.54" cy="254.72" r="5.1"/><circle cx="399.61" cy="255.08" r="5.1"/><circle cx="406.68" cy="257.23" r="5.1"/><circle cx="413.75" cy="261.18" r="5.1"/><circle cx="420.82" cy="263.84" r="5.1"/><circle cx="427.89" cy="265.55" r="5.1"/><circle cx="434.96" cy="266.23" r="5.1"/><circle cx="442.03" cy="267.19" r="5.1"/><circle cx="449.1" cy="271.65" r="5.1"/><circle cx="456.17" cy="273.64" r="5.1"/><circle cx="463.24" cy="274.01" r="5.1"/><circle cx="470.31" cy="273.46" r="5.1"/><circle cx="477.38" cy="274.83" r="5.1"/><circle cx="484.45" cy="281.39" r="5.1"/><circle cx="491.52" cy="281.34" r="5.1"/><circle cx="498.59" cy="283.43" r="5.1"/><circle cx="505.66" cy="285.79" r="5.1"/><circle cx="512.73" cy="287.45" r="5.1"/><circle cx="519.8" cy="289.02" r="5.1"/><circle cx="526.87" cy="289.26" r="5.1"/><circle cx="533.94" cy="290.55" r="5.1"/><circle cx="541.01" cy="295.61" r="5.1"/><circle cx="548.08" cy="296.19" r="5.1"/><circle cx="555.15" cy="299.34" r="5.1"/><circle cx="562.22" cy="298.65" r="5.1"/><circle cx="569.29" cy="300.8" r="5.1"/><circle cx="576.36" cy="303.51" r="5.1"/><circle cx="583.43" cy="306.86" r="5.1"/><circle cx="590.5" cy="306.78" r="5.1"/><circle cx="597.57" cy="309.68" r="5.1"/><circle cx="604.64" cy="311.87" r="5.1"/><circle cx="611.71" cy="312.43" r="5.1"/><circle cx="618.78" cy="315.06" r="5.1"/><circle cx="625.85" cy="315.57" r="5.1"/><circle cx="632.92" cy="316.71" r="5.1"/><circle cx="639.99" cy="319.12" r="5.1"/><circle cx="647.06" cy="317.76" r="5.1"/><circle cx="654.13" cy="321.05" r="5.1"/><circle cx="661.2" cy="322.56" r="5.1"/><circle cx="668.27" cy="323.58" r="5.1"/><circle cx="675.34" cy="326.24" r="5.1"/><circle cx="682.41" cy="330.09" r="5.1"/><circle cx="689.48" cy="331.59" r="5.1"/><circle cx="696.55" cy="335.37" r="5.1"/><circle cx="703.62" cy="335.18" r="5.1"/><circle cx="710.69" cy="335.58" r="5.1"/><circle cx="717.76" cy="340.25" r="5.1"/><circle cx="724.83" cy="342.26" r="5.1"/><circle cx="731.9" cy="344.88" r="5.1"/><circle cx="738.97" cy="344.86" r="5.1"/><circle cx="746.04" cy="347.67" r="5.1"/><circle cx="753.11" cy="349.37" r="5.1"/></g>
<g stroke="#a8e4a8" stroke-width="1.05" fill="#fff"><circle cx="150" cy="189.5" r="5.1"/><circle cx="157" cy="190" r="5.1"/><circle cx="164" cy="189.5" r="5.1"/><circle cx="171" cy="190.5" r="5.1"/><circle cx="178" cy="191" r="5.1"/><circle cx="185" cy="191.5" r="5.1"/><circle cx="192" cy="192" r="5.1"/></g>
<g stroke="#f8c428" stroke-width="1.05" fill="#fff"><circle cx="147.54" cy="207.57" r="5.1"/><circle cx="154.61" cy="210.7" r="5.1"/><circle cx="161.68" cy="210.64" r="5.1"/><circle cx="168.75" cy="211.29" r="5.1"/><circle cx="175.82" cy="213.42" r="5.1"/><circle cx="182.89" cy="212.15" r="5.1"/><circle cx="189.96" cy="212.03" r="5.1"/><circle cx="197.03" cy="212.12" r="5.1"/><circle cx="204.1" cy="213.4" r="5.1"/><circle cx="211.17" cy="217.07" r="5.1"/><circle cx="218.24" cy="219.48" r="5.1"/><circle cx="225.31" cy="221.24" r="5.1"/><circle cx="232.38" cy="223.42" r="5.1"/><circle cx="239.45" cy="226.19" r="5.1"/><circle cx="246.52" cy="226.66" r="5.1"/><circle cx="253.59" cy="229.54" r="5.1"/><circle cx="260.66" cy="231.22" r="5.1"/><circle cx="267.73" cy="231.86" r="5.1"/><circle cx="274.8" cy="233.38" r="5.1"/><circle cx="281.87" cy="233.67" r="5.1"/><circle cx="288.94" cy="235.23" r="5.1"/><circle cx="296.01" cy="235.22" r="5.1"/><circle cx="303.08" cy="235.29" r="5.1"/><circle cx="310.15" cy="237.95" r="5.1"/><circle cx="317.22" cy="239.47" r="5.1"/><circle cx="324.29" cy="240.47" r="5.1"/><circle cx="331.36" cy="243.77" r="5.1"/><circle cx="338.43" cy="247.53" r="5.1"/><circle cx="345.5" cy="248.98" r="5.1"/><circle cx="352.57" cy="251.46" r="5.1"/><circle cx="359.64" cy="252.42" r="5.1"/><circle cx="366.71" cy="255.45" r="5.1"/><circle cx="373.78" cy="257.91" r="5.1"/><circle cx="380.85" cy="259.89" r="5.1"/><circle cx="387.92" cy="261.82" r="5.1"/><circle cx="394.99" cy="263.93" r="5.1"/><circle cx="402.06" cy="267.2" r="5.1"/><circle cx="409.13" cy="269.92" r="5.1"/><circle cx="416.2" cy="269.8" r="5.1"/><circle cx="423.27" cy="271.36" r="5.1"/><circle cx="430.34" cy="273.84" r="5.1"/><circle cx="437.41" cy="276.35" r="5.1"/><circle cx="444.48" cy="277.85" r="5.1"/><circle cx="451.55" cy="281.11" r="5.1"/><circle cx="458.62" cy="285.29" r="5.1"/><circle cx="465.69" cy="285.7" r="5.1"/><circle cx="472.76" cy="286.83" r="5.1"/><circle cx="479.83" cy="289.29" r="5.1"/><circle cx="486.9" cy="292.41" r="5.1"/><circle cx="493.97" cy="294.89" r="5.1"/><circle cx="501.04" cy="296.63" r="5.1"/><circle cx="508.11" cy="298.86" r="5.1"/><circle cx="515.18" cy="300.66" r="5.1"/><circle cx="522.25" cy="302.52" r="5.1"/><circle cx="529.32" cy="304.29" r="5.1"/><circle cx="536.39" cy="305.98" r="5.1"/><circle cx="543.46" cy="308.54" r="5.1"/><circle cx="550.53" cy="310.5" r="5.1"/><circle cx="557.6" cy="312.87" r="5.1"/><circle cx="564.67" cy="314.53" r="5.1"/><circle cx="571.74" cy="317.92" r="5.1"/><circle cx="578.81" cy="319.66" r="5.1"/><circle cx="585.88" cy="321.45" r="5.1"/><circle cx="592.95" cy="324.59" r="5.1"/><circle cx="600.02" cy="326.09" r="5.1"/><circle cx="607.09" cy="327.95" r="5.1"/><circle cx="614.16" cy="329.83" r="5.1"/><circle cx="621.23" cy="330.34" r="5.1"/><circle cx="628.3" cy="333.5" r="5.1"/><circle cx="635.37" cy="334.4" r="5.1"/><circle cx="642.44" cy="337.74" r="5.1"/><circle cx="649.51" cy="340.15" r="5.1"/><circle cx="656.58" cy="341.61" r="5.1"/><circle cx="663.65" cy="342.65" r="5.1"/><circle cx="670.72" cy="345.51" r="5.1"/><circle cx="677.79" cy="347.22" r="5.1"/><circle cx="684.86" cy="350.54" r="5.1"/><circle cx="691.93" cy="351.82" r="5.1"/><circle cx="699" cy="353.81" r="5.1"/><circle cx="706.07" cy="355.69" r="5.1"/><circle cx="713.14" cy="356.75" r="5.1"/><circle cx="720.21" cy="357.85" r="5.1"/><circle cx="727.28" cy="361.13" r="5.1"/><circle cx="734.35" cy="363.63" r="5.1"/><circle cx="741.42" cy="365.54" r="5.1"/><circle cx="748.49" cy="367.09" r="5.1"/><circle cx="755.56" cy="369.9" r="5.1"/></g>
<g stroke="#f8b428" stroke-width="1.05" fill="#fff"><circle cx="147.86" cy="208.08" r="5.1"/><circle cx="154.93" cy="209.5" r="5.1"/><circle cx="162" cy="212.53" r="5.1"/><circle cx="169.07" cy="213.03" r="5.1"/><circle cx="176.14" cy="215.47" r="5.1"/><circle cx="183.21" cy="217.03" r="5.1"/><circle cx="190.28" cy="218.01" r="5.1"/><circle cx="197.35" cy="216.81" r="5.1"/><circle cx="204.42" cy="219.37" r="5.1"/><circle cx="211.49" cy="222.23" r="5.1"/><circle cx="218.56" cy="224.29" r="5.1"/><circle cx="225.63" cy="225.12" r="5.1"/><circle cx="232.7" cy="227.81" r="5.1"/><circle cx="239.77" cy="230.5" r="5.1"/><circle cx="246.84" cy="231.64" r="5.1"/><circle cx="253.91" cy="233.14" r="5.1"/><circle cx="260.98" cy="234.31" r="5.1"/><circle cx="268.05" cy="237.09" r="5.1"/><circle cx="275.12" cy="237.69" r="5.1"/><circle cx="282.19" cy="237.31" r="5.1"/><circle cx="289.26" cy="236.84" r="5.1"/><circle cx="296.33" cy="238.12" r="5.1"/><circle cx="303.4" cy="240.85" r="5.1"/><circle cx="310.47" cy="243.53" r="5.1"/><circle cx="317.54" cy="244.2" r="5.1"/><circle cx="324.61" cy="245.64" r="5.1"/><circle cx="331.68" cy="248.36" r="5.1"/><circle cx="338.75" cy="249.93" r="5.1"/><circle cx="345.82" cy="253.59" r="5.1"/><circle cx="352.89" cy="254.86" r="5.1"/><circle cx="359.96" cy="258.19" r="5.1"/><circle cx="367.03" cy="258.9" r="5.1"/><circle cx="374.1" cy="260.56" r="5.1"/><circle cx="381.17" cy="263.65" r="5.1"/><circle cx="388.24" cy="265.51" r="5.1"/><circle cx="395.31" cy="268.7" r="5.1"/><circle cx="402.38" cy="270.84" r="5.1"/><circle cx="409.45" cy="272.01" r="5.1"/><circle cx="416.52" cy="274.99" r="5.1"/><circle cx="423.59" cy="277.8" r="5.1"/><circle cx="430.66" cy="278.14" r="5.1"/><circle cx="437.73" cy="282.19" r="5.1"/><circle cx="444.8" cy="284.4" r="5.1"/><circle cx="451.87" cy="286.79" r="5.1"/><circle cx="458.94" cy="286.97" r="5.1"/><circle cx="466.01" cy="288.83" r="5.1"/><circle cx="473.08" cy="291.08" r="5.1"/><circle cx="480.15" cy="294.42" r="5.1"/><circle cx="487.22" cy="295.23" r="5.1"/><circle cx="494.29" cy="297.02" r="5.1"/><circle cx="501.36" cy="298.02" r="5.1"/><circle cx="508.43" cy="300.89" r="5.1"/><circle cx="515.5" cy="303.92" r="5.1"/><circle cx="522.57" cy="304.95" r="5.1"/><circle cx="529.64" cy="307.28" r="5.1"/><circle cx="536.71" cy="310.4" r="5.1"/><circle cx="543.78" cy="313.96" r="5.1"/><circle cx="550.85" cy="316.2" r="5.1"/><circle cx="557.92" cy="317.59" r="5.1"/><circle cx="564.99" cy="318.56" r="5.1"/><circle cx="572.06" cy="320.17" r="5.1"/><circle cx="579.13" cy="322.17" r="5.1"/><circle cx="586.2" cy="324.85" r="5.1"/><circle cx="593.27" cy="327.13" r="5.1"/><circle cx="600.34" cy="330.69" r="5.1"/><circle cx="607.41" cy="332.54" r="5.1"/><circle cx="614.48" cy="333.38" r="5.1"/><circle cx="621.55" cy="336.79" r="5.1"/><circle cx="628.62" cy="339.17" r="5.1"/><circle cx="635.69" cy="340.74" r="5.1"/><circle cx="642.76" cy="341.83" r="5.1"/><circle cx="649.83" cy="342.37" r="5.1"/><circle cx="656.9" cy="344.19" r="5.1"/><circle cx="663.97" cy="347.63" r="5.1"/><circle cx="671.04" cy="349.13" r="5.1"/><circle cx="678.11" cy="350.42" r="5.1"/><circle cx="685.18" cy="353.22" r="5.1"/><circle cx="692.25" cy="355.74" r="5.1"/><circle cx="699.32" cy="358.35" r="5.1"/><circle cx="706.39" cy="360.76" r="5.1"/><circle cx="713.46" cy="363.62" r="5.1"/><circle cx="720.53" cy="364.34" r="5.1"/><circle cx="727.6" cy="367.03" r="5.1"/><circle cx="734.67" cy="367.89" r="5.1"/><circle cx="741.74" cy="370.55" r="5.1"/><circle cx="748.81" cy="372.55" r="5.1"/><circle cx="755.88" cy="374.61" r="5.1"/></g>
<g stroke="#f8a830" stroke-width="1.05" fill="#fff"><circle cx="153.48" cy="211.89" r="5.1"/><circle cx="160.55" cy="214.23" r="5.1"/><circle cx="167.62" cy="215.02" r="5.1"/><circle cx="174.69" cy="216.09" r="5.1"/><circle cx="181.76" cy="218.29" r="5.1"/><circle cx="188.83" cy="219.62" r="5.1"/><circle cx="195.9" cy="219.06" r="5.1"/><circle cx="202.97" cy="221.16" r="5.1"/><circle cx="210.04" cy="225.16" r="5.1"/><circle cx="217.11" cy="227.87" r="5.1"/><circle cx="224.18" cy="231.29" r="5.1"/><circle cx="231.25" cy="231.82" r="5.1"/><circle cx="238.32" cy="231.81" r="5.1"/><circle cx="245.39" cy="234.2" r="5.1"/><circle cx="252.46" cy="236.61" r="5.1"/><circle cx="259.53" cy="239.74" r="5.1"/><circle cx="266.6" cy="238.28" r="5.1"/><circle cx="273.67" cy="240.11" r="5.1"/><circle cx="280.74" cy="240.98" r="5.1"/><circle cx="287.81" cy="240.67" r="5.1"/><circle cx="294.88" cy="243.28" r="5.1"/><circle cx="301.95" cy="244.62" r="5.1"/><circle cx="309.02" cy="246.51" r="5.1"/><circle cx="316.09" cy="247.93" r="5.1"/><circle cx="323.16" cy="250.01" r="5.1"/><circle cx="330.23" cy="253.19" r="5.1"/><circle cx="337.3" cy="256.97" r="5.1"/><circle cx="344.37" cy="259.1" r="5.1"/><circle cx="351.44" cy="261.3" r="5.1"/><circle cx="358.51" cy="262.17" r="5.1"/><circle cx="365.58" cy="265.93" r="5.1"/><circle cx="372.65" cy="266.84" r="5.1"/><circle cx="379.72" cy="269.81" r="5.1"/><circle cx="386.79" cy="271.87" r="5.1"/><circle cx="393.86" cy="273.2" r="5.1"/><circle cx="400.93" cy="275.4" r="5.1"/><circle cx="408" cy="277.91" r="5.1"/><circle cx="415.07" cy="279.5" r="5.1"/><circle cx="422.14" cy="280.41" r="5.1"/><circle cx="429.21" cy="282.41" r="5.1"/><circle cx="436.28" cy="286.06" r="5.1"/><circle cx="443.35" cy="287.63" r="5.1"/><circle cx="450.42" cy="289.06" r="5.1"/><circle cx="457.49" cy="291.99" r="5.1"/><circle cx="464.56" cy="295.16" r="5.1"/><circle cx="471.63" cy="298.54" r="5.1"/><circle cx="478.7" cy="300.22" r="5.1"/><circle cx="485.77" cy="301.48" r="5.1"/><circle cx="492.84" cy="303.7" r="5.1"/><circle cx="499.91" cy="305.43" r="5.1"/><circle cx="506.98" cy="306.12" r="5.1"/><circle cx="514.05" cy="309.8" r="5.1"/><circle cx="521.12" cy="312.71" r="5.1"/><circle cx="528.19" cy="313.18" r="5.1"/><circle cx="535.26" cy="316.5" r="5.1"/><circle cx="542.33" cy="318.39" r="5.1"/><circle cx="549.4" cy="319.66" r="5.1"/><circle cx="556.47" cy="320.43" r="5.1"/><circle cx="563.54" cy="323.11" r="5.1"/><circle cx="570.61" cy="325.25" r="5.1"/><circle cx="577.68" cy="328.21" r="5.1"/><circle cx="584.75" cy="331.05" r="5.1"/><circle cx="591.82" cy="333.63" r="5.1"/><circle cx="598.89" cy="334.44" r="5.1"/><circle cx="605.96" cy="335.87" r="5.1"/><circle cx="613.03" cy="338.89" r="5.1"/><circle cx="620.1" cy="340.51" r="5.1"/><circle cx="627.17" cy="341.9" r="5.1"/><circle cx="634.24" cy="343.65" r="5.1"/><circle cx="641.31" cy="346.34" r="5.1"/><circle cx="648.38" cy="348.86" r="5.1"/><circle cx="655.45" cy="351.18" r="5.1"/><circle cx="662.52" cy="353.02" r="5.1"/><circle cx="669.59" cy="355.16" r="5.1"/><circle cx="676.66" cy="357.48" r="5.1"/><circle cx="683.73" cy="359.87" r="5.1"/><circle cx="690.8" cy="362.44" r="5.1"/><circle cx="697.87" cy="363.62" r="5.1"/><circle cx="704.94" cy="365.11" r="5.1"/><circle cx="712.01" cy="366.94" r="5.1"/><circle cx="719.08" cy="369.14" r="5.1"/><circle cx="726.15" cy="370.52" r="5.1"/><circle cx="733.22" cy="373.87" r="5.1"/><circle cx="740.29" cy="374.58" r="5.1"/><circle cx="747.36" cy="376.79" r="5.1"/><circle cx="754.43" cy="378.32" r="5.1"/></g>
<g stroke="#f49030" stroke-width="1.05" fill="#fff"><circle cx="180" cy="202" r="5.1"/><circle cx="187.5" cy="206.5" r="5.1"/><circle cx="195" cy="211" r="5.1"/><circle cx="202" cy="216" r="5.1"/><circle cx="209" cy="221.5" r="5.1"/><circle cx="216" cy="224.5" r="5.1"/><circle cx="223" cy="223.5" r="5.1"/><circle cx="230" cy="226.5" r="5.1"/><circle cx="237" cy="228" r="5.1"/></g>
<g stroke="#f07a30" stroke-width="1.05" fill="#fff"><circle cx="263.4" cy="219.04" r="5.1"/><circle cx="270.47" cy="221.12" r="5.1"/><circle cx="277.54" cy="225.08" r="5.1"/><circle cx="284.61" cy="224.83" r="5.1"/><circle cx="291.68" cy="225.6" r="5.1"/><circle cx="298.75" cy="226.93" r="5.1"/><circle cx="305.82" cy="228.4" r="5.1"/><circle cx="312.89" cy="233.55" r="5.1"/><circle cx="319.96" cy="233.64" r="5.1"/><circle cx="327.03" cy="236.59" r="5.1"/><circle cx="334.1" cy="239.78" r="5.1"/><circle cx="341.17" cy="243.41" r="5.1"/><circle cx="348.24" cy="249.45" r="5.1"/><circle cx="355.31" cy="253.77" r="5.1"/><circle cx="362.38" cy="255.36" r="5.1"/><circle cx="369.45" cy="257.38" r="5.1"/><circle cx="376.52" cy="259.83" r="5.1"/><circle cx="383.59" cy="259.67" r="5.1"/><circle cx="390.66" cy="259.69" r="5.1"/><circle cx="397.73" cy="260.8" r="5.1"/><circle cx="404.8" cy="260.87" r="5.1"/><circle cx="411.87" cy="263.96" r="5.1"/><circle cx="418.94" cy="263.39" r="5.1"/><circle cx="426.01" cy="265.08" r="5.1"/><circle cx="433.08" cy="265.59" r="5.1"/><circle cx="440.15" cy="268.41" r="5.1"/><circle cx="447.22" cy="271.76" r="5.1"/><circle cx="454.29" cy="273.85" r="5.1"/><circle cx="461.36" cy="276.57" r="5.1"/><circle cx="468.43" cy="278.43" r="5.1"/><circle cx="475.5" cy="281.9" r="5.1"/><circle cx="482.57" cy="282.01" r="5.1"/><circle cx="489.64" cy="284.37" r="5.1"/><circle cx="496.71" cy="287.61" r="5.1"/><circle cx="503.78" cy="288.63" r="5.1"/><circle cx="510.85" cy="291.21" r="5.1"/><circle cx="517.92" cy="292.92" r="5.1"/><circle cx="524.99" cy="295.56" r="5.1"/><circle cx="532.06" cy="301.37" r="5.1"/><circle cx="539.13" cy="300.87" r="5.1"/><circle cx="546.2" cy="302.25" r="5.1"/><circle cx="553.27" cy="303.23" r="5.1"/><circle cx="560.34" cy="304.4" r="5.1"/><circle cx="567.41" cy="309.48" r="5.1"/><circle cx="574.48" cy="312.84" r="5.1"/><circle cx="581.55" cy="314.69" r="5.1"/><circle cx="588.62" cy="315.15" r="5.1"/><circle cx="595.69" cy="320.95" r="5.1"/><circle cx="602.76" cy="324.38" r="5.1"/><circle cx="609.83" cy="325.4" r="5.1"/><circle cx="616.9" cy="326.44" r="5.1"/><circle cx="623.97" cy="329.11" r="5.1"/><circle cx="631.04" cy="333.59" r="5.1"/><circle cx="638.11" cy="334.85" r="5.1"/><circle cx="645.18" cy="335.72" r="5.1"/><circle cx="652.25" cy="337.87" r="5.1"/><circle cx="659.32" cy="337.61" r="5.1"/><circle cx="666.39" cy="342.15" r="5.1"/><circle cx="673.46" cy="345.01" r="5.1"/><circle cx="680.53" cy="348.97" r="5.1"/><circle cx="687.6" cy="351.14" r="5.1"/><circle cx="694.67" cy="353.45" r="5.1"/><circle cx="701.74" cy="355.39" r="5.1"/><circle cx="708.81" cy="355.17" r="5.1"/><circle cx="715.88" cy="358.16" r="5.1"/><circle cx="722.95" cy="361.19" r="5.1"/><circle cx="730.02" cy="364.95" r="5.1"/><circle cx="737.09" cy="367.53" r="5.1"/><circle cx="744.16" cy="368.04" r="5.1"/><circle cx="751.23" cy="370.34" r="5.1"/></g>
<g stroke="#f08438" stroke-width="1.05" fill="#fff"><circle cx="420" cy="272.3" r="5.1"/><circle cx="427.07" cy="274.9" r="5.1"/><circle cx="434.14" cy="275.65" r="5.1"/><circle cx="441.21" cy="275.74" r="5.1"/><circle cx="448.28" cy="277.42" r="5.1"/><circle cx="455.35" cy="279.35" r="5.1"/><circle cx="462.42" cy="282.73" r="5.1"/><circle cx="469.49" cy="284.85" r="5.1"/><circle cx="476.56" cy="285.28" r="5.1"/><circle cx="483.63" cy="288.09" r="5.1"/><circle cx="490.7" cy="291.23" r="5.1"/><circle cx="497.77" cy="293.05" r="5.1"/><circle cx="504.84" cy="293.66" r="5.1"/><circle cx="511.91" cy="296.96" r="5.1"/><circle cx="518.98" cy="299.07" r="5.1"/><circle cx="526.05" cy="299.88" r="5.1"/><circle cx="533.12" cy="303.67" r="5.1"/><circle cx="540.19" cy="305.25" r="5.1"/><circle cx="547.26" cy="305.31" r="5.1"/><circle cx="554.33" cy="308.1" r="5.1"/><circle cx="561.4" cy="310.46" r="5.1"/><circle cx="568.47" cy="313.42" r="5.1"/><circle cx="575.54" cy="316.08" r="5.1"/><circle cx="582.61" cy="317.65" r="5.1"/><circle cx="589.68" cy="320.69" r="5.1"/><circle cx="596.75" cy="323.81" r="5.1"/><circle cx="603.82" cy="326" r="5.1"/><circle cx="610.89" cy="328.36" r="5.1"/><circle cx="617.96" cy="329.98" r="5.1"/><circle cx="625.03" cy="332.72" r="5.1"/><circle cx="632.1" cy="335.06" r="5.1"/><circle cx="639.17" cy="337.81" r="5.1"/><circle cx="646.24" cy="340.11" r="5.1"/><circle cx="653.31" cy="341.31" r="5.1"/><circle cx="660.38" cy="344.85" r="5.1"/><circle cx="667.45" cy="346.91" r="5.1"/><circle cx="674.52" cy="349.39" r="5.1"/><circle cx="681.59" cy="351.22" r="5.1"/><circle cx="688.66" cy="353.99" r="5.1"/><circle cx="695.73" cy="356.27" r="5.1"/><circle cx="702.8" cy="360.21" r="5.1"/><circle cx="709.87" cy="360.66" r="5.1"/><circle cx="716.94" cy="362.3" r="5.1"/><circle cx="724.01" cy="365.18" r="5.1"/><circle cx="731.08" cy="366.81" r="5.1"/><circle cx="738.15" cy="369.48" r="5.1"/><circle cx="745.22" cy="374.26" r="5.1"/><circle cx="752.29" cy="376.24" r="5.1"/></g>
<g stroke="#fad2a4" stroke-width="1.05" fill="none"><circle cx="215.9" cy="38" r="5.1"/><circle cx="286.7" cy="71" r="5.1"/><circle cx="222.8" cy="112" r="5.1"/><circle cx="152.7" cy="130" r="5.1"/><circle cx="230" cy="153.4" r="5.1"/><circle cx="293.6" cy="148.3" r="5.1"/><circle cx="159.6" cy="160" r="5.1"/><circle cx="166.7" cy="178" r="5.1"/><circle cx="237" cy="178.6" r="5.1"/><circle cx="300.7" cy="188.5" r="5.1"/><circle cx="174" cy="186" r="5.1"/></g>
<g stroke="#f8b4b0" stroke-width="1.05" fill="none"><circle cx="350.3" cy="93.2" r="5.1"/><circle cx="406.7" cy="108" r="5.1"/><circle cx="456.5" cy="68" r="5.1"/><circle cx="463" cy="102.5" r="5.1"/><circle cx="470" cy="143.5" r="5.1"/><circle cx="357.5" cy="346" r="5.1"/><circle cx="364" cy="409" r="5.1"/><circle cx="413" cy="413" r="5.1"/><circle cx="533.5" cy="323" r="5.1"/></g>
<g stroke="#f6b0a8" stroke-width="1.05" fill="#fff"><circle cx="441" cy="295" r="5.1"/><circle cx="448" cy="304" r="5.1"/></g>
<g stroke="#e83838" stroke-width="1.05" fill="#fff"><circle cx="455" cy="315.1" r="5.1"/><circle cx="462.07" cy="317.3" r="5.1"/><circle cx="469.14" cy="319.2" r="5.1"/><circle cx="476.21" cy="320.99" r="5.1"/><circle cx="483.28" cy="322.94" r="5.1"/><circle cx="490.35" cy="325.75" r="5.1"/><circle cx="497.42" cy="329.82" r="5.1"/><circle cx="504.49" cy="331.31" r="5.1"/><circle cx="511.56" cy="331.27" r="5.1"/><circle cx="518.63" cy="331.66" r="5.1"/><circle cx="525.7" cy="331.42" r="5.1"/><circle cx="532.77" cy="332.52" r="5.1"/><circle cx="539.84" cy="333.37" r="5.1"/><circle cx="546.91" cy="336.13" r="5.1"/><circle cx="553.98" cy="340.67" r="5.1"/><circle cx="561.05" cy="344.28" r="5.1"/><circle cx="568.12" cy="346.24" r="5.1"/><circle cx="575.19" cy="348.04" r="5.1"/><circle cx="582.26" cy="351.16" r="5.1"/><circle cx="589.33" cy="353.91" r="5.1"/><circle cx="596.4" cy="354.86" r="5.1"/><circle cx="603.47" cy="357.15" r="5.1"/><circle cx="610.54" cy="360.2" r="5.1"/><circle cx="617.61" cy="362.93" r="5.1"/><circle cx="624.68" cy="365.64" r="5.1"/><circle cx="631.75" cy="368.3" r="5.1"/><circle cx="638.82" cy="370.12" r="5.1"/><circle cx="645.89" cy="371.25" r="5.1"/><circle cx="652.96" cy="371.67" r="5.1"/><circle cx="660.03" cy="373.38" r="5.1"/><circle cx="667.1" cy="376.77" r="5.1"/><circle cx="674.17" cy="380.17" r="5.1"/><circle cx="681.24" cy="382.28" r="5.1"/><circle cx="688.31" cy="383.1" r="5.1"/><circle cx="695.38" cy="383.26" r="5.1"/><circle cx="702.45" cy="387.12" r="5.1"/><circle cx="709.52" cy="389.58" r="5.1"/><circle cx="716.59" cy="393.8" r="5.1"/><circle cx="723.66" cy="399.35" r="5.1"/><circle cx="730.73" cy="400.64" r="5.1"/><circle cx="737.8" cy="400.58" r="5.1"/><circle cx="744.87" cy="400.59" r="5.1"/><circle cx="751.94" cy="398.89" r="5.1"/></g>
<g stroke="#f9c0b0" stroke-width="1.05" fill="none"><circle cx="371" cy="444" r="5.1"/><circle cx="378" cy="452" r="5.1"/><circle cx="385" cy="453" r="5.1"/><circle cx="392" cy="452" r="5.1"/><circle cx="399" cy="449" r="5.1"/><circle cx="406" cy="449" r="5.1"/><circle cx="420" cy="409" r="5.1"/><circle cx="427" cy="398" r="5.1"/><circle cx="434" cy="398" r="5.1"/><circle cx="441" cy="394" r="5.1"/><circle cx="448" cy="388" r="5.1"/><circle cx="455" cy="387" r="5.1"/></g>
<g stroke="#f06438" stroke-width="1.05" fill="#fff"><circle cx="462" cy="381.74" r="5.1"/><circle cx="469.07" cy="380.93" r="5.1"/><circle cx="476.14" cy="378.28" r="5.1"/><circle cx="483.21" cy="378.98" r="5.1"/><circle cx="490.28" cy="378.59" r="5.1"/><circle cx="497.35" cy="379.97" r="5.1"/><circle cx="504.42" cy="380.46" r="5.1"/><circle cx="511.49" cy="379.06" r="5.1"/><circle cx="518.56" cy="380.38" r="5.1"/><circle cx="525.63" cy="382.82" r="5.1"/><circle cx="532.7" cy="384.8" r="5.1"/><circle cx="539.77" cy="386.55" r="5.1"/><circle cx="546.84" cy="390.33" r="5.1"/><circle cx="553.91" cy="392.36" r="5.1"/><circle cx="560.98" cy="395.53" r="5.1"/><circle cx="568.05" cy="397.86" r="5.1"/><circle cx="575.12" cy="399.29" r="5.1"/><circle cx="582.19" cy="400.14" r="5.1"/><circle cx="589.26" cy="401.45" r="5.1"/><circle cx="596.33" cy="404.44" r="5.1"/><circle cx="603.4" cy="407.64" r="5.1"/><circle cx="610.47" cy="409.83" r="5.1"/><circle cx="617.54" cy="410.67" r="5.1"/><circle cx="624.61" cy="413.76" r="5.1"/><circle cx="631.68" cy="417.11" r="5.1"/><circle cx="638.75" cy="422.88" r="5.1"/><circle cx="645.82" cy="425.17" r="5.1"/><circle cx="652.89" cy="429.62" r="5.1"/><circle cx="659.96" cy="432.36" r="5.1"/><circle cx="667.03" cy="434.59" r="5.1"/><circle cx="674.1" cy="438.15" r="5.1"/><circle cx="681.17" cy="439.82" r="5.1"/><circle cx="688.24" cy="442.8" r="5.1"/><circle cx="695.31" cy="445.41" r="5.1"/><circle cx="702.38" cy="446.28" r="5.1"/><circle cx="709.45" cy="448.04" r="5.1"/><circle cx="716.52" cy="450.77" r="5.1"/><circle cx="723.59" cy="450.34" r="5.1"/><circle cx="730.66" cy="453.36" r="5.1"/><circle cx="737.73" cy="454.91" r="5.1"/><circle cx="744.8" cy="457.38" r="5.1"/><circle cx="751.87" cy="458.7" r="5.1"/></g>
<g stroke="#e83030" stroke-width="1.05" fill="#fff"><circle cx="548" cy="339.68" r="5.1"/><circle cx="555.07" cy="346.81" r="5.1"/><circle cx="562.14" cy="355.83" r="5.1"/><circle cx="569.21" cy="367.6" r="5.1"/><circle cx="576.28" cy="379.33" r="5.1"/><circle cx="583.35" cy="386.39" r="5.1"/><circle cx="590.42" cy="392.6" r="5.1"/><circle cx="597.49" cy="397.94" r="5.1"/><circle cx="604.56" cy="403.65" r="5.1"/><circle cx="611.63" cy="409.52" r="5.1"/><circle cx="618.7" cy="415.31" r="5.1"/><circle cx="625.77" cy="419.86" r="5.1"/><circle cx="632.84" cy="425.44" r="5.1"/><circle cx="639.91" cy="430.16" r="5.1"/><circle cx="646.98" cy="434.9" r="5.1"/><circle cx="654.05" cy="437.52" r="5.1"/><circle cx="661.12" cy="441.64" r="5.1"/><circle cx="668.19" cy="445.23" r="5.1"/><circle cx="675.26" cy="448.96" r="5.1"/><circle cx="682.33" cy="452.96" r="5.1"/><circle cx="689.4" cy="456.65" r="5.1"/><circle cx="696.47" cy="460.42" r="5.1"/><circle cx="703.54" cy="463.33" r="5.1"/><circle cx="710.61" cy="466.09" r="5.1"/><circle cx="717.68" cy="469.57" r="5.1"/><circle cx="724.75" cy="472.31" r="5.1"/><circle cx="731.82" cy="475.67" r="5.1"/><circle cx="738.89" cy="478.49" r="5.1"/><circle cx="745.96" cy="481.66" r="5.1"/><circle cx="753.03" cy="483.22" r="5.1"/></g>
</g>
<rect x="147.5" y="20.2" width="605.8" height="591.8" fill="none" stroke="#111" stroke-width="1.3"/>
<line x1="135" y1="612" x2="147.5" y2="612" stroke="#111" stroke-width="1.2" />
<line x1="140" y1="475.12" x2="147.5" y2="475.12" stroke="#111" stroke-width="1.2" />
<line x1="140" y1="395.05" x2="147.5" y2="395.05" stroke="#111" stroke-width="1.2" />
<line x1="140" y1="338.24" x2="147.5" y2="338.24" stroke="#111" stroke-width="1.2" />
<line x1="140" y1="294.18" x2="147.5" y2="294.18" stroke="#111" stroke-width="1.2" />
<line x1="140" y1="258.17" x2="147.5" y2="258.17" stroke="#111" stroke-width="1.2" />
<line x1="140" y1="227.73" x2="147.5" y2="227.73" stroke="#111" stroke-width="1.2" />
<line x1="140" y1="201.36" x2="147.5" y2="201.36" stroke="#111" stroke-width="1.2" />
<line x1="140" y1="178.11" x2="147.5" y2="178.11" stroke="#111" stroke-width="1.2" />
<line x1="135" y1="157.3" x2="147.5" y2="157.3" stroke="#111" stroke-width="1.2" />
<line x1="140" y1="20.42" x2="147.5" y2="20.42" stroke="#111" stroke-width="1.2" />
<line x1="147.5" y1="612" x2="147.5" y2="624" stroke="#111" stroke-width="1.2" />
<line x1="349.4" y1="612" x2="349.4" y2="624" stroke="#111" stroke-width="1.2" />
<line x1="551.3" y1="612" x2="551.3" y2="624" stroke="#111" stroke-width="1.2" />
<line x1="753.2" y1="612" x2="753.2" y2="624" stroke="#111" stroke-width="1.2" />
<text x="127.5" y="28.12" font-size="24" text-anchor="end" textLength="43" lengthAdjust="spacingAndGlyphs">200</text>
<text x="127.5" y="167" font-size="24" text-anchor="end" textLength="40.5" lengthAdjust="spacingAndGlyphs">100</text>
<text x="127.5" y="303.88" font-size="24" text-anchor="end" textLength="28" lengthAdjust="spacingAndGlyphs">50</text>
<text x="127.5" y="481.12" font-size="24" text-anchor="end" textLength="28" lengthAdjust="spacingAndGlyphs">20</text>
<text x="127.5" y="618" font-size="24" text-anchor="end" textLength="25.5" lengthAdjust="spacingAndGlyphs">10</text>
<text x="148" y="656" font-size="24" text-anchor="middle" textLength="38" lengthAdjust="spacingAndGlyphs">−20</text>
<text x="349.9" y="656" font-size="24" text-anchor="middle" textLength="38" lengthAdjust="spacingAndGlyphs">−25</text>
<text x="551.8" y="656" font-size="24" text-anchor="middle" textLength="38" lengthAdjust="spacingAndGlyphs">−30</text>
<text x="753.7" y="656" font-size="24" text-anchor="middle" textLength="38" lengthAdjust="spacingAndGlyphs">−35</text>
<text x="431" y="691.5" font-size="27" text-anchor="middle" textLength="204" lengthAdjust="spacingAndGlyphs">Gate voltage (V)</text>
<text x="27.8" y="462.3" font-size="27" textLength="210" lengthAdjust="spacingAndGlyphs" transform="rotate(-90 27.8 462.3)">Carrier mobility, </text>
<text transform="translate(27.8 251.6) rotate(-90)" font-size="27" font-style="italic">μ</text>
<text transform="translate(35 234.5) rotate(-90)" font-size="15" textLength="14.5" lengthAdjust="spacingAndGlyphs">4p</text>
<text transform="translate(15 230.2) rotate(-90)" font-size="14" textLength="27.5" lengthAdjust="spacingAndGlyphs">Hofs.</text>
<text transform="translate(67.3 398) rotate(-90)" font-size="27" textLength="143" lengthAdjust="spacingAndGlyphs">(cm<tspan font-size="17.5" dy="-9.5">2</tspan><tspan dy="9.5"> V</tspan><tspan font-size="17.5" dy="-9.5">−1</tspan><tspan dy="9.5"> s</tspan><tspan font-size="17.5" dy="-9.5">−1</tspan><tspan dy="9.5">)</tspan></text>
<linearGradient id="cbar" x1="0" y1="0" x2="0" y2="1"><stop offset="0" stop-color="#4b0082"/><stop offset="0.15" stop-color="#000080"/><stop offset="0.30" stop-color="#0000ff"/><stop offset="0.40" stop-color="#006080"/><stop offset="0.46" stop-color="#08a030"/><stop offset="0.52" stop-color="#18c008"/><stop offset="0.675" stop-color="#ffff00"/><stop offset="0.84" stop-color="#ff8000"/><stop offset="1" stop-color="#ff0000"/></linearGradient>
<rect x="204" y="429" width="23.5" height="124" fill="url(#cbar)" />
<text x="201.5" y="415.5" font-size="24" textLength="32.5" lengthAdjust="spacingAndGlyphs">8 K</text>
<text x="188" y="587" font-size="24" textLength="65" lengthAdjust="spacingAndGlyphs">300 K</text>
<text x="547.5" y="105.7" font-size="24" textLength="50.3" lengthAdjust="spacingAndGlyphs" fill="#0a0aee">40 K</text>
<line x1="571.4" y1="113.5" x2="593.5" y2="180" stroke="#0a0aee" stroke-width="4.7"/>
<polygon points="597.6,191 581.5,175.6 591.5,178.6 599.9,169.8" fill="#0a0aee"/>
<text x="0.8" y="28.6" font-size="37" textLength="20.3" lengthAdjust="spacingAndGlyphs" font-weight="bold" stroke="#000" stroke-width="1.2">a</text>
</g>
<g id="panel_b">
<clipPath id="clipPh"><rect x="0" y="0" width="292" height="157.5"/></clipPath>
<filter id="blur1" x="-10%" y="-10%" width="120%" height="120%"><feGaussianBlur stdDeviation="1.1"/></filter>
<filter id="blur2" x="-10%" y="-10%" width="120%" height="120%"><feGaussianBlur stdDeviation="2"/></filter>
<linearGradient id="bandL" x1="0" x2="1"><stop offset="0" stop-color="#cdbb72"/><stop offset="0.6" stop-color="#cab968"/><stop offset="0.85" stop-color="#bfb250"/><stop offset="1" stop-color="#a89e30"/></linearGradient>
<linearGradient id="bandR" x1="0" x2="1"><stop offset="0" stop-color="#a89e30"/><stop offset="0.15" stop-color="#bcb04c"/><stop offset="0.4" stop-color="#c9b966"/><stop offset="1" stop-color="#cdbb70"/></linearGradient>
<g transform="translate(1276 33)" clip-path="url(#clipPh)">
<rect x="0" y="0" width="292" height="157.5" fill="#7c6f45"/>
<g filter="url(#blur1)" fill="#7d8468">
<rect x="35" y="43" width="56" height="11" rx="3"/>
<rect x="106" y="44" width="70" height="11" rx="3"/>
<rect x="201" y="44" width="57" height="11" rx="3"/>
<rect x="30" y="99.5" width="59" height="11.5" rx="3"/>
<rect x="103" y="99.5" width="78" height="11.5" rx="3"/>
<rect x="199.5" y="99.5" width="62" height="11.5" rx="3"/>
</g>
<g filter="url(#blur2)" fill="#7b8266" opacity="0.8">
<rect x="56" y="-3" width="8.5" height="48"/>
<rect x="155" y="-3" width="8.5" height="48"/>
<rect x="231.5" y="-3" width="4.5" height="48"/>
<rect x="54" y="108" width="11.5" height="53"/>
<rect x="146" y="108" width="9.5" height="53"/>
<rect x="222.5" y="108" width="8" height="53"/>
</g>
<g filter="url(#blur1)" fill="#c4b956" stroke="#a69c30" stroke-width="2.6">
<path d="M78,-4 L78.5,18 Q77,31 85,40 Q95,48 105,42 Q114,35 113,22 L113.5,-4 Z"/>
<path d="M171.5,-4 L171.5,18 Q169,33 179,42 Q190,50 202,44 Q211,37 209.5,20 L209.5,-4 Z"/>
<path d="M83,162 L84,130 Q86,113 93,108.5 Q100,106 107,111 Q114.5,119 116.5,134 L117.5,162 Z"/>
<path d="M174,162 L175,124 Q177,109 192,105 Q205.5,108 209.5,122 L210.5,162 Z"/>
</g>
<g filter="url(#blur2)">
<ellipse cx="96" cy="10" rx="12" ry="18" fill="#cdc16a"/>
<ellipse cx="96" cy="34" rx="8" ry="6" fill="#b8ad46"/>
<ellipse cx="190.5" cy="6" rx="13" ry="12" fill="#c8bc60"/>
<ellipse cx="190" cy="29" rx="11" ry="8" fill="#b0a53c"/>
<ellipse cx="103" cy="124" rx="9" ry="8" fill="#b5aa40"/>
<ellipse cx="99" cy="148" rx="12" ry="12" fill="#cabe64"/>
<ellipse cx="192" cy="118" rx="10" ry="6" fill="#b4a940"/>
<ellipse cx="192" cy="146" rx="13" ry="14" fill="#ccc068"/>
</g>
<g filter="url(#blur1)">
<path d="M-4,-4 L31,-4 L32,30 L33.5,60 L33,85 L30.5,100 L31.5,115 L33,135 L35,162 L-4,162 Z" fill="url(#bandL)"/>
<path d="M296,-4 L257,-4 L257.5,30 L259,60 L261.5,85 L264,100 L263,120 L261.5,140 L262,162 L296,162 Z" fill="url(#bandR)"/>
</g>
<g fill="#1c1a14" filter="url(#blur1)" opacity="0.95">
<ellipse cx="174.5" cy="51" rx="3.2" ry="2.6"/><ellipse cx="197.5" cy="51.5" rx="3.5" ry="3"/><ellipse cx="205.5" cy="56" rx="2" ry="1.3"/>
<ellipse cx="111.5" cy="40.5" rx="1.3" ry="1.1"/><ellipse cx="107" cy="42.5" rx="1" ry="0.9"/>
<path d="M32.5,96 Q27.5,103 33,111" stroke="#1c1a14" stroke-width="2.2" fill="none"/>
</g>
<g fill="#8a2f62" filter="url(#blur1)"><circle cx="69.6" cy="136.1" r="1.5"/><circle cx="115.6" cy="144.3" r="1.5"/></g>
</g>
<rect x="1492" y="178.3" width="58.5" height="8.6" fill="#fff" />
<text x="1487.7" y="165.6" font-size="21.8" textLength="68.7" lengthAdjust="spacingAndGlyphs" fill="#fff">50 µm</text>
<g stroke="#2020b2" stroke-width="1.15" fill="none"><line x1="1055.4" y1="503.8" x2="1262.4" y2="454.1" stroke-width="1.1"/><circle cx="1055.03" cy="504.1" r="5.0"/><circle cx="1060.87" cy="502.15" r="5.0"/><circle cx="1065.35" cy="501.26" r="5.0"/><circle cx="1071.07" cy="500.95" r="5.0"/><circle cx="1075.74" cy="497.8" r="5.0"/><circle cx="1081.49" cy="497.97" r="5.0"/><circle cx="1086.91" cy="497.13" r="5.0"/><circle cx="1091.59" cy="494.88" r="5.0"/><circle cx="1097.57" cy="493.63" r="5.0"/><circle cx="1101.74" cy="491.71" r="5.0"/><circle cx="1107.18" cy="491.49" r="5.0"/><circle cx="1112.22" cy="490.08" r="5.0"/><circle cx="1117.58" cy="489.44" r="5.0"/><circle cx="1123" cy="487.82" r="5.0"/><circle cx="1127.31" cy="486.97" r="5.0"/><circle cx="1132.6" cy="485.03" r="5.0"/><circle cx="1137.76" cy="483.92" r="5.0"/><circle cx="1143.14" cy="482.85" r="5.0"/><circle cx="1149.54" cy="481.4" r="5.0"/><circle cx="1153.98" cy="479.13" r="5.0"/><circle cx="1158.81" cy="479.48" r="5.0"/><circle cx="1164.05" cy="478" r="5.0"/><circle cx="1169.28" cy="475.66" r="5.0"/><circle cx="1174.59" cy="474.57" r="5.0"/><circle cx="1180.16" cy="473.58" r="5.0"/><circle cx="1184.98" cy="472.74" r="5.0"/><circle cx="1190.24" cy="471.01" r="5.0"/><circle cx="1195.42" cy="470.15" r="5.0"/><circle cx="1200.68" cy="469.51" r="5.0"/><circle cx="1205.52" cy="467.14" r="5.0"/><circle cx="1210.88" cy="466.9" r="5.0"/><circle cx="1216.32" cy="464.98" r="5.0"/><circle cx="1221.17" cy="464.45" r="5.0"/><circle cx="1226.26" cy="462.96" r="5.0"/><circle cx="1231.4" cy="461.08" r="5.0"/><circle cx="1236.22" cy="460" r="5.0"/><circle cx="1241.88" cy="460.28" r="5.0"/><circle cx="1247.17" cy="458.67" r="5.0"/><circle cx="1252.28" cy="457.14" r="5.0"/><circle cx="1257.28" cy="455.96" r="5.0"/><circle cx="1262.93" cy="453.84" r="5.0"/></g>
<g stroke="#3878bc" stroke-width="1.15" fill="none"><line x1="1055.4" y1="474.3" x2="1262.4" y2="424.2" stroke-width="1.1"/><rect x="1050.69" y="471.56" width="9.0" height="9.0"/><rect x="1056.15" y="469.42" width="9.0" height="9.0"/><rect x="1061.51" y="466.27" width="9.0" height="9.0"/><rect x="1067.16" y="467.64" width="9.0" height="9.0"/><rect x="1071.65" y="465.47" width="9.0" height="9.0"/><rect x="1076.81" y="462.74" width="9.0" height="9.0"/><rect x="1081.92" y="462.62" width="9.0" height="9.0"/><rect x="1087.46" y="461.67" width="9.0" height="9.0"/><rect x="1092.32" y="461" width="9.0" height="9.0"/><rect x="1097.25" y="459.24" width="9.0" height="9.0"/><rect x="1102.98" y="457.01" width="9.0" height="9.0"/><rect x="1107.29" y="455.21" width="9.0" height="9.0"/><rect x="1113.07" y="455.25" width="9.0" height="9.0"/><rect x="1118.64" y="452.61" width="9.0" height="9.0"/><rect x="1123.35" y="452.85" width="9.0" height="9.0"/><rect x="1128.48" y="448.88" width="9.0" height="9.0"/><rect x="1133.94" y="451.84" width="9.0" height="9.0"/><rect x="1139.18" y="447.68" width="9.0" height="9.0"/><rect x="1143.93" y="447.45" width="9.0" height="9.0"/><rect x="1149.97" y="446.56" width="9.0" height="9.0"/><rect x="1154.43" y="446.15" width="9.0" height="9.0"/><rect x="1159.55" y="445.17" width="9.0" height="9.0"/><rect x="1164.54" y="441.82" width="9.0" height="9.0"/><rect x="1170.14" y="442.27" width="9.0" height="9.0"/><rect x="1175.3" y="440.01" width="9.0" height="9.0"/><rect x="1179.73" y="437.85" width="9.0" height="9.0"/><rect x="1185.27" y="436.75" width="9.0" height="9.0"/><rect x="1190.8" y="435.68" width="9.0" height="9.0"/><rect x="1196.04" y="434.8" width="9.0" height="9.0"/><rect x="1200.88" y="433.58" width="9.0" height="9.0"/><rect x="1206.28" y="433" width="9.0" height="9.0"/><rect x="1211.18" y="430.76" width="9.0" height="9.0"/><rect x="1216.09" y="431.16" width="9.0" height="9.0"/><rect x="1222.11" y="428.31" width="9.0" height="9.0"/><rect x="1226.71" y="426.1" width="9.0" height="9.0"/><rect x="1232.08" y="426.15" width="9.0" height="9.0"/><rect x="1237.85" y="424.93" width="9.0" height="9.0"/><rect x="1242.14" y="421.26" width="9.0" height="9.0"/><rect x="1247.97" y="422.38" width="9.0" height="9.0"/><rect x="1252.24" y="421.11" width="9.0" height="9.0"/><rect x="1257.42" y="422.83" width="9.0" height="9.0"/></g>
<g stroke="#1c8c2c" stroke-width="1.15" fill="none"><line x1="1055.4" y1="440.5" x2="1262.4" y2="394" stroke-width="1.1"/><polygon points="1055.74,434.53 1061.45,444.43 1050.02,444.43"/><polygon points="1060.52,430.38 1066.24,440.28 1054.81,440.28"/><polygon points="1065.71,429.86 1071.43,439.76 1060,439.76"/><polygon points="1071.1,428.06 1076.82,437.96 1065.39,437.96"/><polygon points="1075.83,430.59 1081.54,440.49 1070.11,440.49"/><polygon points="1081.77,426.79 1087.48,436.69 1076.05,436.69"/><polygon points="1085.99,427.89 1091.71,437.79 1080.27,437.79"/><polygon points="1091.88,424.68 1097.6,434.58 1086.17,434.58"/><polygon points="1096.59,423.84 1102.31,433.74 1090.88,433.74"/><polygon points="1101.62,422.69 1107.33,432.59 1095.9,432.59"/><polygon points="1107.53,423.03 1113.24,432.93 1101.81,432.93"/><polygon points="1112.94,421.02 1118.66,430.92 1107.23,430.92"/><polygon points="1117.46,418.87 1123.18,428.77 1111.74,428.77"/><polygon points="1122.64,417.34 1128.35,427.24 1116.92,427.24"/><polygon points="1127.32,418.39 1133.03,428.29 1121.6,428.29"/><polygon points="1133.46,417.38 1139.17,427.28 1127.74,427.28"/><polygon points="1138.6,415.58 1144.32,425.48 1132.88,425.48"/><polygon points="1143.16,414.23 1148.88,424.13 1137.44,424.13"/><polygon points="1148.44,411.75 1154.15,421.65 1142.72,421.65"/><polygon points="1153.22,410.18 1158.93,420.08 1147.5,420.08"/><polygon points="1158.9,410.82 1164.61,420.72 1153.18,420.72"/><polygon points="1163.93,411.06 1169.65,420.96 1158.22,420.96"/><polygon points="1169.3,408.97 1175.02,418.87 1163.59,418.87"/><polygon points="1174.79,406.26 1180.51,416.16 1169.07,416.16"/><polygon points="1179.01,406.83 1184.72,416.73 1173.29,416.73"/><polygon points="1184.57,406.28 1190.28,416.18 1178.85,416.18"/><polygon points="1190.05,404.78 1195.77,414.68 1184.34,414.68"/><polygon points="1195.35,400.22 1201.07,410.12 1189.64,410.12"/><polygon points="1200.52,400.61 1206.23,410.51 1194.8,410.51"/><polygon points="1205.25,399.71 1210.96,409.61 1199.53,409.61"/><polygon points="1210.88,400 1216.6,409.9 1205.16,409.9"/><polygon points="1216.13,396.04 1221.84,405.94 1210.41,405.94"/><polygon points="1220.82,394.09 1226.54,403.99 1215.11,403.99"/><polygon points="1226.14,396.2 1231.86,406.1 1220.43,406.1"/><polygon points="1231.12,394.64 1236.84,404.54 1225.41,404.54"/><polygon points="1236.59,394.32 1242.31,404.22 1230.88,404.22"/><polygon points="1241.45,391.14 1247.17,401.04 1235.74,401.04"/><polygon points="1246.65,392.82 1252.36,402.72 1240.93,402.72"/><polygon points="1252.38,389.59 1258.09,399.49 1246.66,399.49"/><polygon points="1257.29,388.69 1263.01,398.59 1251.58,398.59"/><polygon points="1262.46,387.17 1268.18,397.07 1256.75,397.07"/></g>
<g stroke="#12dc12" stroke-width="1.15" fill="none"><line x1="1055.4" y1="405" x2="1262.4" y2="360" stroke-width="1.1"/><polygon points="1055.3,408.78 1049.41,398.58 1061.19,398.58"/><polygon points="1060.38,414.64 1054.49,404.44 1066.27,404.44"/><polygon points="1065.91,409.71 1060.02,399.51 1071.8,399.51"/><polygon points="1070.86,408.58 1064.97,398.38 1076.75,398.38"/><polygon points="1076.21,405.75 1070.32,395.55 1082.09,395.55"/><polygon points="1081.33,406.75 1075.44,396.55 1087.22,396.55"/><polygon points="1086.23,403.16 1080.34,392.96 1092.11,392.96"/><polygon points="1091.33,401.37 1085.44,391.17 1097.21,391.17"/><polygon points="1097.07,397.14 1091.18,386.94 1102.96,386.94"/><polygon points="1101.89,400.21 1096.01,390.01 1107.78,390.01"/><polygon points="1106.96,400.78 1101.08,390.58 1112.85,390.58"/><polygon points="1112.66,399.61 1106.77,389.41 1118.55,389.41"/><polygon points="1117.46,396.83 1111.57,386.63 1123.35,386.63"/><polygon points="1122.64,399.36 1116.75,389.16 1128.53,389.16"/><polygon points="1127.73,393.3 1121.84,383.1 1133.62,383.1"/><polygon points="1132.65,392.27 1126.76,382.07 1138.53,382.07"/><polygon points="1137.78,396.44 1131.89,386.24 1143.67,386.24"/><polygon points="1143.48,392.11 1137.59,381.91 1149.37,381.91"/><polygon points="1148.99,389.97 1143.1,379.77 1154.88,379.77"/><polygon points="1153.95,392.35 1148.06,382.15 1159.84,382.15"/><polygon points="1158.44,385.56 1152.55,375.36 1164.33,375.36"/><polygon points="1163.8,390.35 1157.91,380.15 1169.69,380.15"/><polygon points="1169.64,384.1 1163.75,373.9 1175.53,373.9"/><polygon points="1174.74,385.01 1168.85,374.81 1180.63,374.81"/><polygon points="1179.48,383.48 1173.59,373.28 1185.37,373.28"/><polygon points="1184.68,379.31 1178.79,369.11 1190.57,369.11"/><polygon points="1189.65,379.58 1183.76,369.38 1195.54,369.38"/><polygon points="1195.27,386.44 1189.38,376.24 1201.16,376.24"/><polygon points="1201.12,379.49 1195.23,369.29 1207.01,369.29"/><polygon points="1204.96,378.2 1199.07,368 1210.85,368"/><polygon points="1210.37,382.81 1204.48,372.61 1216.26,372.61"/><polygon points="1216,375.18 1210.11,364.98 1221.89,364.98"/><polygon points="1221.28,377.09 1215.39,366.89 1227.17,366.89"/><polygon points="1225.69,373.4 1219.8,363.2 1231.58,363.2"/><polygon points="1231.28,373.6 1225.39,363.4 1237.17,363.4"/><polygon points="1236.56,371.61 1230.68,361.41 1242.45,361.41"/><polygon points="1241.76,369.89 1235.87,359.69 1247.65,359.69"/><polygon points="1246.61,373.81 1240.72,363.61 1252.5,363.61"/><polygon points="1252.16,370.1 1246.27,359.9 1258.05,359.9"/><polygon points="1256.75,367.53 1250.86,357.33 1262.64,357.33"/><polygon points="1262.65,363.7 1256.76,353.5 1268.53,353.5"/></g>
<g stroke="#e6a838" stroke-width="1.15" fill="none"><line x1="1055.4" y1="377.5" x2="1262.4" y2="327.5" stroke-width="1.1"/><polygon points="1048.93,376.33 1059.13,370.44 1059.13,382.22"/><polygon points="1053.9,375.85 1064.1,369.96 1064.1,381.74"/><polygon points="1059.02,378.61 1069.22,372.72 1069.22,384.5"/><polygon points="1064,378.44 1074.2,372.55 1074.2,384.33"/><polygon points="1069.07,369.7 1079.27,363.82 1079.27,375.59"/><polygon points="1074.69,368.05 1084.89,362.16 1084.89,373.94"/><polygon points="1079.54,372.72 1089.74,366.83 1089.74,378.61"/><polygon points="1085.19,363.43 1095.39,357.54 1095.39,369.31"/><polygon points="1090.15,373.15 1100.35,367.26 1100.35,379.04"/><polygon points="1095.53,365.53 1105.73,359.64 1105.73,371.42"/><polygon points="1100.17,364.11 1110.37,358.22 1110.37,370"/><polygon points="1105.18,362.96 1115.38,357.07 1115.38,368.85"/><polygon points="1110.64,362.06 1120.84,356.17 1120.84,367.95"/><polygon points="1116.23,360.56 1126.43,354.67 1126.43,366.45"/><polygon points="1120.61,363.15 1130.81,357.26 1130.81,369.04"/><polygon points="1125.9,357.41 1136.1,351.52 1136.1,363.3"/><polygon points="1131.36,356.47 1141.56,350.58 1141.56,362.36"/><polygon points="1136.27,355.5 1146.47,349.61 1146.47,361.39"/><polygon points="1142.41,353.18 1152.61,347.29 1152.61,359.07"/><polygon points="1146.88,357.12 1157.08,351.23 1157.08,363.01"/><polygon points="1152.32,354.79 1162.52,348.9 1162.52,360.68"/><polygon points="1157.53,345.35 1167.73,339.46 1167.73,351.24"/><polygon points="1162.19,350.39 1172.39,344.5 1172.39,356.27"/><polygon points="1167.77,352.63 1177.97,346.74 1177.97,358.52"/><polygon points="1172.94,346.79 1183.14,340.9 1183.14,352.67"/><polygon points="1177.99,345.62 1188.19,339.73 1188.19,351.51"/><polygon points="1183.22,347.02 1193.42,341.13 1193.42,352.91"/><polygon points="1188.22,341.31 1198.42,335.42 1198.42,347.2"/><polygon points="1193.24,345.79 1203.44,339.9 1203.44,351.68"/><polygon points="1199.06,344.23 1209.26,338.34 1209.26,350.12"/><polygon points="1204.11,342.5 1214.31,336.61 1214.31,348.39"/><polygon points="1209.02,340.74 1219.22,334.85 1219.22,346.63"/><polygon points="1213.88,336.89 1224.08,331 1224.08,342.78"/><polygon points="1219.15,338.43 1229.35,332.54 1229.35,344.32"/><polygon points="1224.38,334.68 1234.58,328.79 1234.58,340.56"/><polygon points="1229.85,337.81 1240.05,331.93 1240.05,343.7"/><polygon points="1234.66,329.68 1244.86,323.79 1244.86,335.57"/><polygon points="1240.32,327.93 1250.52,322.04 1250.52,333.82"/><polygon points="1245.39,328.29 1255.59,322.4 1255.59,334.18"/><polygon points="1250.39,323.29 1260.59,317.4 1260.59,329.18"/><polygon points="1255.81,326 1266.01,320.11 1266.01,331.89"/></g>
<g stroke="#fc4646" stroke-width="1.15" fill="none"><line x1="1055.4" y1="339.2" x2="1262.4" y2="285" stroke-width="1.1"/><polygon points="1061.93,346.68 1051.73,352.57 1051.73,340.79"/><polygon points="1067.59,350.48 1057.39,356.37 1057.39,344.59"/><polygon points="1072.67,335.24 1062.47,341.13 1062.47,329.35"/><polygon points="1077.76,340.92 1067.56,346.81 1067.56,335.03"/><polygon points="1082.89,335.4 1072.69,341.29 1072.69,329.51"/><polygon points="1088.23,329.15 1078.03,335.04 1078.03,323.26"/><polygon points="1093.29,329.26 1083.09,335.15 1083.09,323.37"/><polygon points="1098.05,332.85 1087.85,338.74 1087.85,326.97"/><polygon points="1103.8,328.63 1093.6,334.52 1093.6,322.74"/><polygon points="1108.5,319.78 1098.3,325.67 1098.3,313.9"/><polygon points="1114.1,325.3 1103.9,331.19 1103.9,319.41"/><polygon points="1118.62,324.08 1108.42,329.97 1108.42,318.19"/><polygon points="1123.84,322.84 1113.64,328.73 1113.64,316.96"/><polygon points="1129.52,322.86 1119.32,328.75 1119.32,316.97"/><polygon points="1134.72,320.85 1124.52,326.73 1124.52,314.96"/><polygon points="1139.48,317.49 1129.28,323.38 1129.28,311.6"/><polygon points="1144.85,316.67 1134.65,322.56 1134.65,310.78"/><polygon points="1150.26,318.39 1140.06,324.28 1140.06,312.5"/><polygon points="1155.84,305.56 1145.64,311.45 1145.64,299.67"/><polygon points="1160.65,312.74 1150.45,318.63 1150.45,306.85"/><polygon points="1166.38,315.46 1156.18,321.35 1156.18,309.57"/><polygon points="1170.38,312.19 1160.18,318.08 1160.18,306.3"/><polygon points="1175.89,312.97 1165.69,318.86 1165.69,307.08"/><polygon points="1180.91,307.67 1170.71,313.56 1170.71,301.78"/><polygon points="1186.36,306.33 1176.16,312.22 1176.16,300.44"/><polygon points="1191.4,298.71 1181.2,304.6 1181.2,292.82"/><polygon points="1196.89,307.57 1186.69,313.46 1186.69,301.68"/><polygon points="1201.9,298.95 1191.7,304.84 1191.7,293.06"/><polygon points="1207.16,303.3 1196.96,309.18 1196.96,297.41"/><polygon points="1212.22,299.85 1202.02,305.74 1202.02,293.97"/><polygon points="1217.87,294.52 1207.67,300.41 1207.67,288.63"/><polygon points="1222.46,290.33 1212.26,296.22 1212.26,284.45"/><polygon points="1227.59,293.18 1217.39,299.07 1217.39,287.29"/><polygon points="1232.69,291.99 1222.49,297.88 1222.49,286.1"/><polygon points="1238.69,292.42 1228.49,298.31 1228.49,286.53"/><polygon points="1243.29,299.69 1233.09,305.58 1233.09,293.8"/><polygon points="1248.48,284.18 1238.28,290.07 1238.28,278.29"/><polygon points="1253.8,285.69 1243.6,291.58 1243.6,279.8"/><polygon points="1259.34,283.22 1249.14,289.11 1249.14,277.34"/><polygon points="1263.85,280.57 1253.65,286.46 1253.65,274.68"/><polygon points="1269.23,281.34 1259.03,287.23 1259.03,275.45"/></g>
<path d="M1038.3,270.2 V524.7 H1279.8" stroke="#000" stroke-width="1.35" fill="none" />
<line x1="1055.4" y1="524.7" x2="1055.4" y2="533.5" stroke="#000" stroke-width="1.3" />
<line x1="1107.15" y1="524.7" x2="1107.15" y2="533.5" stroke="#000" stroke-width="1.3" />
<line x1="1158.9" y1="524.7" x2="1158.9" y2="533.5" stroke="#000" stroke-width="1.3" />
<line x1="1210.65" y1="524.7" x2="1210.65" y2="533.5" stroke="#000" stroke-width="1.3" />
<line x1="1262.4" y1="524.7" x2="1262.4" y2="533.5" stroke="#000" stroke-width="1.3" />
<text x="1053.4" y="560.6" font-size="24" text-anchor="middle" textLength="24.5" lengthAdjust="spacingAndGlyphs">−6</text>
<text x="1105.15" y="560.6" font-size="24" text-anchor="middle" textLength="24.5" lengthAdjust="spacingAndGlyphs">−3</text>
<text x="1158.9" y="560.6" font-size="24" text-anchor="middle" textLength="13.5" lengthAdjust="spacingAndGlyphs">0</text>
<text x="1210.65" y="560.6" font-size="24" text-anchor="middle" textLength="12.5" lengthAdjust="spacingAndGlyphs">3</text>
<text x="1262.4" y="560.6" font-size="24" text-anchor="middle" textLength="13" lengthAdjust="spacingAndGlyphs">6</text>
<text x="1130.3" y="599.8" font-size="27" textLength="55" lengthAdjust="spacingAndGlyphs"><tspan font-style="italic">B</tspan> (T)</text>
<text transform="translate(1001.6 443.6) rotate(-90)" font-size="23.5"><tspan font-style="italic">R</tspan><tspan font-style="italic" font-size="14" dy="5">xy</tspan><tspan dy="-5"> (Ω)</tspan></text>
<path d="M1049,283.3 H1064.5 M1056.8,283.3 V324.4 M1049,324.4 H1064.5" stroke="#000" stroke-width="1.3" fill="none" />
<text x="1064.8" y="309.8" font-size="24" textLength="44" lengthAdjust="spacingAndGlyphs">1 kΩ</text>
<circle cx="1039.85" cy="120.45" r="12.3" stroke="#0c0c9c" stroke-width="2" fill="none" />
<path d="M1039.85,108.15 V117.7 M1039.85,123.3 V132.75" stroke="#0c0c9c" stroke-width="2" fill="none" />
<path d="M1021.95,117.7 H1057.75 M1021.95,123.3 H1057.75" stroke="#0c0c9c" stroke-width="2.2" fill="none" />
<rect x="1124.7" y="150.5" width="21.4" height="21.3" fill="none" stroke="#16599e" stroke-width="2" />
<path d="M1135.4,150.55 V158.3 M1135.4,164 V171.75" stroke="#16599e" stroke-width="2" fill="none" />
<path d="M1117.5,158.3 H1153.3 M1117.5,164 H1153.3" stroke="#16599e" stroke-width="2.2" fill="none" />
<polygon points="1255.6,198.6 1269.8,222.1 1241.3999999999999,222.1" fill="none" stroke="#0b7d0b" stroke-width="1.9" stroke-linejoin="miter"/>
<path d="M1255.6,199 V209.4 M1255.6,220.1 V222" stroke="#0b7d0b" stroke-width="1.8" fill="none" />
<path d="M1237.7,209.4 H1273.5 M1237.7,220.1 H1273.5" stroke="#0b7d0b" stroke-width="2.2" fill="none" />
<polygon points="1351.7,263.9 1380.8999999999999,263.9 1366.3,287.5" fill="none" stroke="#0bdc0b" stroke-width="1.9" stroke-linejoin="miter"/>
<path d="M1366.3,257.6 V263.9" stroke="#0bdc0b" stroke-width="1.8" fill="none" />
<path d="M1348.4,257.6 H1384.2 M1348.4,285.9 H1384.2" stroke="#0bdc0b" stroke-width="2.2" fill="none" />
<polygon points="1425.2,303.7 1449.2,289.9 1449.2,317.5" fill="none" stroke="#e3a626" stroke-width="1.9" stroke-linejoin="miter"/>
<path d="M1423.4,291.4 H1459.2 M1423.4,316.4 H1459.2" stroke="#e3a626" stroke-width="2.2" fill="none" />
<polygon points="1490.3,303.9 1514.4,317.8 1490.3,331.7" fill="none" stroke="#fb3a3a" stroke-width="1.9" stroke-linejoin="miter"/>
<path d="M1498,303.5 V308 M1498,328 V332.5" stroke="#fb3a3a" stroke-width="1.6" fill="none" />
<path d="M1480.1,303.5 H1515.9 M1480.1,332.5 H1515.9" stroke="#fb3a3a" stroke-width="2.2" fill="none" />
<circle cx="1433" cy="394.6" r="11.7" stroke="#0c0c9c" stroke-width="1.55" fill="none" />
<rect x="1422.9" y="423" width="20.4" height="19.8" fill="none" stroke="#16599e" stroke-width="1.55" />
<polygon points="1433,457 1446.6,479.2 1419.4,479.2" fill="none" stroke="#0b7d0b" stroke-width="1.55"/>
<polygon points="1419.4,502.4 1446.6,502.4 1433,525.2" fill="none" stroke="#0bdc0b" stroke-width="1.55"/>
<polygon points="1418,548.8 1441,535.8 1441,561.8" fill="none" stroke="#e3a626" stroke-width="1.55"/>
<polygon points="1425.2,574.4 1448.4,587.5 1425.2,600.6" fill="none" stroke="#fb3a3a" stroke-width="1.55"/>
<text x="1457.1" y="403.9" font-size="24" textLength="48.3" lengthAdjust="spacingAndGlyphs">20 K</text>
<text x="1457.1" y="442" font-size="24" textLength="48.8" lengthAdjust="spacingAndGlyphs">30 K</text>
<text x="1457.1" y="481" font-size="24" textLength="48.3" lengthAdjust="spacingAndGlyphs">50 K</text>
<text x="1457.1" y="519.9" font-size="24" textLength="48.8" lengthAdjust="spacingAndGlyphs">80 K</text>
<text x="1457.1" y="558.9" font-size="24" textLength="53.3" lengthAdjust="spacingAndGlyphs">110 K</text>
<text x="1457.1" y="597.5" font-size="24" textLength="58.4" lengthAdjust="spacingAndGlyphs">140 K</text>
<rect x="971.8" y="19.8" width="610.5" height="595.4" fill="none" stroke="#262626" stroke-width="1.5"/>
<line x1="959.3" y1="140" x2="971.8" y2="140" stroke="#111" stroke-width="1.2" />
<line x1="963.3" y1="205.89" x2="971.8" y2="205.89" stroke="#111" stroke-width="1.2" />
<line x1="963.3" y1="290.83" x2="971.8" y2="290.83" stroke="#111" stroke-width="1.2" />
<line x1="963.3" y1="410.54" x2="971.8" y2="410.54" stroke="#111" stroke-width="1.2" />
<line x1="963.3" y1="615.2" x2="971.8" y2="615.2" stroke="#111" stroke-width="1.2" />
<line x1="1039.6" y1="615.2" x2="1039.6" y2="624.2" stroke="#111" stroke-width="1.2" />
<line x1="1135.01" y1="615.2" x2="1135.01" y2="624.2" stroke="#111" stroke-width="1.2" />
<line x1="1255.2" y1="615.2" x2="1255.2" y2="624.2" stroke="#111" stroke-width="1.2" />
<line x1="1418.3" y1="615.2" x2="1418.3" y2="627.2" stroke="#111" stroke-width="1.2" />
<line x1="1582.3" y1="615.2" x2="1582.3" y2="624.2" stroke="#111" stroke-width="1.2" />
<text x="947.5" y="148" font-size="24" text-anchor="end" textLength="40.5" lengthAdjust="spacingAndGlyphs">100</text>
<text x="947.5" y="213.89" font-size="24" text-anchor="end" textLength="28" lengthAdjust="spacingAndGlyphs">80</text>
<text x="947.5" y="298.83" font-size="24" text-anchor="end" textLength="28" lengthAdjust="spacingAndGlyphs">60</text>
<text x="947.5" y="418.54" font-size="24" text-anchor="end" textLength="28" lengthAdjust="spacingAndGlyphs">40</text>
<text x="947.5" y="623.2" font-size="24" text-anchor="end" textLength="28" lengthAdjust="spacingAndGlyphs">20</text>
<text x="1041.4" y="656" font-size="24" text-anchor="middle" textLength="28" lengthAdjust="spacingAndGlyphs">20</text>
<text x="1136.81" y="656" font-size="24" text-anchor="middle" textLength="28" lengthAdjust="spacingAndGlyphs">30</text>
<text x="1257" y="656" font-size="24" text-anchor="middle" textLength="28" lengthAdjust="spacingAndGlyphs">50</text>
<text x="1420.1" y="656" font-size="24" text-anchor="middle" textLength="40.5" lengthAdjust="spacingAndGlyphs">100</text>
<text x="1585.4" y="656" font-size="24" text-anchor="middle" textLength="43" lengthAdjust="spacingAndGlyphs">200</text>
<text x="1278" y="691.8" font-size="27" text-anchor="middle" textLength="201" lengthAdjust="spacingAndGlyphs">Temperature (K)</text>
<text x="846.5" y="443.3" font-size="27" textLength="210" lengthAdjust="spacingAndGlyphs" transform="rotate(-90 846.5 443.3)">Carrier mobility, </text>
<text transform="translate(846.5 232.6) rotate(-90)" font-size="27" font-style="italic">μ</text>
<text transform="translate(853.6 216.2) rotate(-90)" font-size="14" textLength="24.8" lengthAdjust="spacingAndGlyphs">Hall</text>
<text transform="translate(886.8 389.3) rotate(-90)" font-size="27" textLength="143" lengthAdjust="spacingAndGlyphs">(cm<tspan font-size="17.5" dy="-9.5">2</tspan><tspan dy="9.5"> V</tspan><tspan font-size="17.5" dy="-9.5">−1</tspan><tspan dy="9.5"> s</tspan><tspan font-size="17.5" dy="-9.5">−1</tspan><tspan dy="9.5">)</tspan></text>
<text x="822" y="29.5" font-size="37" textLength="24" lengthAdjust="spacingAndGlyphs" font-weight="bold" stroke="#000" stroke-width="1.2">b</text>
</g>
<g id="panel_c">
<linearGradient id="cTop" x1="0" y1="0" x2="0" y2="1"><stop offset="0" stop-color="#ffb3b3"/><stop offset="0.35" stop-color="#ffcaca"/><stop offset="0.7" stop-color="#ffe4e4"/><stop offset="1" stop-color="#fff6f6"/></linearGradient>
<linearGradient id="cBot" x1="0" y1="0" x2="0" y2="1"><stop offset="0" stop-color="#fdfdff"/><stop offset="0.25" stop-color="#ebeff9"/><stop offset="0.6" stop-color="#d1dbf0"/><stop offset="1" stop-color="#c1cfea"/></linearGradient>
<rect x="147.5" y="742" width="610" height="206.7" fill="url(#cTop)" />
<rect x="147.5" y="948.7" width="610" height="390.6" fill="url(#cBot)" />
<radialGradient id="sph" cx="0.38" cy="0.30" r="0.75" fx="0.36" fy="0.26"><stop offset="0" stop-color="#fff"/><stop offset="0.12" stop-color="#ffb0b0"/><stop offset="0.35" stop-color="#ff1010"/><stop offset="0.8" stop-color="#f80000"/><stop offset="1" stop-color="#d80000"/></radialGradient>
<path d="M177.2,797.2 C192.97,797.08 246.87,796.6 271.8,796.5 C296.73,796.4 309.6,796.1 326.8,796.6 C344,797.1 359.22,798.27 375,799.5 C390.78,800.73 402.2,801.25 421.5,804 C440.8,806.75 471.55,811.42 490.8,816 C510.05,820.58 521.25,825.33 537,831.5 C552.75,837.67 568.08,845.33 585.3,853 C602.52,860.67 624.6,869.17 640.3,877.5 C656,885.83 667.85,894.75 679.5,903 C691.15,911.25 700.92,919.62 710.2,927 C719.48,934.38 731.03,943.92 735.2,947.3" fill="none" stroke="#f28a2a" stroke-width="1.4" />
<g fill="#fff" stroke="#e9ad2f" stroke-width="1.65"><circle cx="177.2" cy="796.8" r="7.4"/><circle cx="271.8" cy="797.5" r="7.4"/><circle cx="326.8" cy="795.2" r="7.4"/><circle cx="421.5" cy="803.8" r="7.4"/><circle cx="490.8" cy="813.3" r="7.4"/><circle cx="537" cy="837" r="7.4"/><circle cx="585.3" cy="852.8" r="7.4"/><circle cx="640.3" cy="874" r="7.4"/><circle cx="679.5" cy="905" r="7.4"/><circle cx="710.2" cy="928" r="7.4"/><circle cx="735.2" cy="947.3" r="7.4"/></g>
<g fill="#fff" stroke="#aa2cdc" stroke-width="1.65"><circle cx="571.1" cy="954.3" r="7.4"/><circle cx="585.2" cy="955.5" r="7.4"/><circle cx="598.3" cy="958.8" r="7.4"/><circle cx="610.4" cy="960.2" r="7.4"/><circle cx="626.6" cy="967.2" r="7.4"/><circle cx="641" cy="972" r="7.4"/><circle cx="654.4" cy="976" r="7.4"/><circle cx="666.5" cy="982" r="7.4"/><circle cx="677.9" cy="989.8" r="7.4"/><circle cx="687.5" cy="993.9" r="7.4"/><circle cx="696.4" cy="997" r="7.4"/><circle cx="705.3" cy="1001" r="7.4"/><circle cx="713.4" cy="1005" r="7.4"/><circle cx="720.7" cy="1009" r="7.4"/><circle cx="728" cy="1012.5" r="7.4"/><circle cx="735.2" cy="1015.2" r="7.4"/></g>
<path d="M516.2,1003.2 C522.67,1002.4 543.47,999.5 555,998.4 C566.53,997.3 576.17,997.63 585.4,996.6 C594.63,995.57 602.67,994.13 610.4,992.2 C618.13,990.27 625.27,986.7 631.8,985 C638.33,983.3 644.03,982.5 649.6,982 C655.17,981.5 660.22,981.85 665.2,982 C670.18,982.15 674.97,982.67 679.5,982.9 C684.03,983.13 688.23,983.18 692.4,983.4 C696.57,983.62 700.6,983.93 704.5,984.2 C708.4,984.47 712.22,984.73 715.8,985 C719.38,985.27 722.77,985.53 726,985.8 C729.23,986.07 733.67,986.47 735.2,986.6" fill="none" stroke="#7a1fa2" stroke-width="1.6" />
<g fill="#fff" stroke="#7a1fa2" stroke-width="1.65"><circle cx="516.2" cy="1003.2" r="7.4"/><circle cx="555" cy="998.4" r="7.4"/><circle cx="585.4" cy="996.6" r="7.4"/><circle cx="610.4" cy="992.2" r="7.4"/><circle cx="631.8" cy="985" r="7.4"/><circle cx="649.6" cy="982" r="7.4"/><circle cx="665.2" cy="982" r="7.4"/><circle cx="679.5" cy="982.9" r="7.4"/><circle cx="692.4" cy="983.4" r="7.4"/><circle cx="704.5" cy="984.2" r="7.4"/><circle cx="715.8" cy="985" r="7.4"/><circle cx="726" cy="985.8" r="7.4"/><circle cx="735.2" cy="986.6" r="7.4"/></g>
<g fill="#fff" stroke="#1c74ba" stroke-width="1.65"><circle cx="598.2" cy="1052.36" r="7.4"/><circle cx="610.06" cy="1051.28" r="7.4"/><circle cx="615.63" cy="1050.35" r="7.4"/><circle cx="620.98" cy="1049.5" r="7.4"/><circle cx="626.12" cy="1048.95" r="7.4"/><circle cx="631.08" cy="1048.47" r="7.4"/><circle cx="635.87" cy="1048.13" r="7.4"/><circle cx="640.49" cy="1048" r="7.4"/><circle cx="644.96" cy="1048.05" r="7.4"/><circle cx="649.29" cy="1048.2" r="7.4"/><circle cx="653.49" cy="1048.4" r="7.4"/><circle cx="657.56" cy="1048.65" r="7.4"/><circle cx="661.51" cy="1048.91" r="7.4"/><circle cx="665.36" cy="1049.31" r="7.4"/><circle cx="669.09" cy="1049.82" r="7.4"/><circle cx="672.73" cy="1050.4" r="7.4"/><circle cx="676.27" cy="1051.01" r="7.4"/><circle cx="679.72" cy="1051.64" r="7.4"/><circle cx="683.09" cy="1052.35" r="7.4"/><circle cx="686.38" cy="1053.14" r="7.4"/><circle cx="689.59" cy="1053.97" r="7.4"/><circle cx="692.72" cy="1054.84" r="7.4"/><circle cx="695.79" cy="1055.73" r="7.4"/><circle cx="698.78" cy="1056.7" r="7.4"/><circle cx="701.72" cy="1057.73" r="7.4"/><circle cx="704.59" cy="1058.81" r="7.4"/><circle cx="707.4" cy="1059.9" r="7.4"/><circle cx="710.15" cy="1060.98" r="7.4"/><circle cx="712.85" cy="1062.07" r="7.4"/><circle cx="715.5" cy="1063.18" r="7.4"/><circle cx="718.1" cy="1064.31" r="7.4"/><circle cx="720.65" cy="1065.44" r="7.4"/><circle cx="723.15" cy="1066.57" r="7.4"/><circle cx="725.61" cy="1067.7" r="7.4"/><circle cx="728.02" cy="1068.85" r="7.4"/><circle cx="730.39" cy="1069.99" r="7.4"/><circle cx="732.72" cy="1071.11" r="7.4"/><circle cx="735.02" cy="1072.21" r="7.4"/></g>
<path d="M516.2,1116.3 L536.76,1109.65 L554.97,1103.31 L571.03,1097.34 L585.4,1084.66 L598.4,1074.05 L610.26,1066.42 L621.18,1061.85 L631.28,1058.42" fill="none" stroke="#169a9a" stroke-width="1.6" stroke-linejoin="round"/>
<g fill="#fff" stroke="#169696" stroke-width="1.65"><circle cx="516.2" cy="1116.3" r="7.4"/><circle cx="536.76" cy="1109.65" r="7.4"/><circle cx="554.97" cy="1103.31" r="7.4"/><circle cx="571.03" cy="1097.34" r="7.4"/><circle cx="585.4" cy="1084.66" r="7.4"/><circle cx="598.4" cy="1074.05" r="7.4"/><circle cx="610.26" cy="1066.42" r="7.4"/><circle cx="621.18" cy="1061.85" r="7.4"/><circle cx="631.28" cy="1058.42" r="7.4"/><circle cx="640.69" cy="1056.1" r="7.4"/><circle cx="646.91" cy="1054.81" r="7.4"/><circle cx="652.86" cy="1054.5" r="7.4"/><circle cx="658.56" cy="1054.5" r="7.4"/><circle cx="664.03" cy="1054.68" r="7.4"/><circle cx="669.29" cy="1055.24" r="7.4"/><circle cx="674.36" cy="1056.1" r="7.4"/><circle cx="679.24" cy="1057.38" r="7.4"/><circle cx="683.95" cy="1058.75" r="7.4"/><circle cx="688.51" cy="1060.04" r="7.4"/><circle cx="692.92" cy="1061.36" r="7.4"/><circle cx="697.19" cy="1062.69" r="7.4"/><circle cx="701.33" cy="1063.97" r="7.4"/><circle cx="705.35" cy="1065.19" r="7.4"/><circle cx="709.26" cy="1066.38" r="7.4"/><circle cx="713.05" cy="1067.52" r="7.4"/><circle cx="716.75" cy="1068.58" r="7.4"/><circle cx="720.34" cy="1069.53" r="7.4"/><circle cx="723.85" cy="1070.41" r="7.4"/><circle cx="727.26" cy="1071.22" r="7.4"/><circle cx="730.59" cy="1072" r="7.4"/><circle cx="733.85" cy="1072.77" r="7.4"/></g>
<path d="M598.7,1339.3 C598.8,1320 598.9,1305 599,1295 C601,1250 605,1220 610.25,1198.75 C614,1172 617,1155 621.5,1141.75 L631.8,1120.5 L641,1105.4 L652.8,1093.3 L666.5,1079.6 L685.9,1074.4" fill="none" stroke="#1f9e1f" stroke-width="1.6"/>
<g fill="#fff" stroke="#1f9e1f" stroke-width="1.65"><circle cx="598.75" cy="1295" r="7.4"/><circle cx="610.25" cy="1198.75" r="7.4"/><circle cx="621.5" cy="1141.75" r="7.4"/><circle cx="631.8" cy="1120.5" r="7.4"/><circle cx="641" cy="1105.4" r="7.4"/><circle cx="647.9" cy="1098.1" r="7.4"/><circle cx="652.8" cy="1093.3" r="7.4"/><circle cx="656" cy="1089.3" r="7.4"/><circle cx="659.3" cy="1086" r="7.4"/><circle cx="662.5" cy="1082.8" r="7.4"/><circle cx="666.5" cy="1079.6" r="7.4"/><circle cx="671.4" cy="1077.1" r="7.4"/><circle cx="676" cy="1075.6" r="7.4"/><circle cx="680.3" cy="1074.7" r="7.4"/><circle cx="685.9" cy="1074.4" r="7.4"/><circle cx="692.4" cy="1075.5" r="7.4"/><circle cx="698.9" cy="1077.1" r="7.4"/><circle cx="705.3" cy="1078.7" r="7.4"/><circle cx="711.8" cy="1080.4" r="7.4"/><circle cx="718.3" cy="1082.8" r="7.4"/><circle cx="724.7" cy="1084.4" r="7.4"/><circle cx="732.8" cy="1087.2" r="7.4"/></g>
<g fill="#fff" stroke="#1626c6" stroke-width="1.65"><circle cx="616.03" cy="1012.63" r="7.4"/><circle cx="621.38" cy="1003.31" r="7.4"/><circle cx="626.52" cy="999.29" r="7.4"/><circle cx="631.48" cy="998.16" r="7.4"/><circle cx="636.27" cy="997.91" r="7.4"/><circle cx="640.89" cy="998" r="7.4"/><circle cx="645.36" cy="998.33" r="7.4"/><circle cx="649.69" cy="998.77" r="7.4"/><circle cx="653.89" cy="999.33" r="7.4"/><circle cx="657.96" cy="1000.12" r="7.4"/><circle cx="661.91" cy="1001.05" r="7.4"/><circle cx="665.76" cy="1002.24" r="7.4"/><circle cx="669.49" cy="1003.7" r="7.4"/><circle cx="673.13" cy="1005.32" r="7.4"/><circle cx="676.67" cy="1007" r="7.4"/><circle cx="680.12" cy="1008.74" r="7.4"/><circle cx="683.49" cy="1010.64" r="7.4"/><circle cx="686.78" cy="1012.64" r="7.4"/><circle cx="689.99" cy="1014.69" r="7.4"/><circle cx="693.12" cy="1016.73" r="7.4"/><circle cx="696.19" cy="1018.72" r="7.4"/><circle cx="699.18" cy="1020.69" r="7.4"/><circle cx="702.12" cy="1022.67" r="7.4"/><circle cx="704.99" cy="1024.69" r="7.4"/><circle cx="707.8" cy="1026.75" r="7.4"/><circle cx="710.55" cy="1028.88" r="7.4"/><circle cx="713.25" cy="1031.11" r="7.4"/><circle cx="715.9" cy="1033.43" r="7.4"/><circle cx="718.5" cy="1035.81" r="7.4"/><circle cx="721.05" cy="1038.2" r="7.4"/><circle cx="723.55" cy="1040.58" r="7.4"/><circle cx="726.01" cy="1042.92" r="7.4"/><circle cx="728.42" cy="1045.25" r="7.4"/><circle cx="730.79" cy="1047.6" r="7.4"/><circle cx="733.12" cy="1049.93" r="7.4"/><circle cx="735.42" cy="1052.21" r="7.4"/></g>
<path d="M241.25,897 L271.75,900.75 L302.5,904 L326.75,906.25 L366.25,910.75 L396.75,914.5 L421.5,918.25 L460.75,923.25 L491.25,927 L516.2,930.2 L537,932.3 L555,934 L570.7,935.7 L585.5,937 L610.4,941.3 L631.3,947 L649.6,952.3 L665.5,956.5 L679.5,961 L692.8,965.5 L705,968.6 L725.9,975.6 L735.2,996.8" fill="none" stroke="#ff0000" stroke-width="1.6" stroke-linejoin="round"/>
<g fill="url(#sph)"><circle cx="241.25" cy="897" r="8.4"/><circle cx="271.75" cy="900.75" r="8.4"/><circle cx="302.5" cy="904" r="8.4"/><circle cx="326.75" cy="906.25" r="8.4"/><circle cx="366.25" cy="910.75" r="8.4"/><circle cx="396.75" cy="914.5" r="8.4"/><circle cx="421.5" cy="918.25" r="8.4"/><circle cx="460.75" cy="923.25" r="8.4"/><circle cx="491.25" cy="927" r="8.4"/><circle cx="516.2" cy="930.2" r="8.4"/><circle cx="537" cy="932.3" r="8.4"/><circle cx="555" cy="934" r="8.4"/><circle cx="570.7" cy="935.7" r="8.4"/><circle cx="585.5" cy="937" r="8.4"/><circle cx="610.4" cy="941.3" r="8.4"/><circle cx="631.3" cy="947" r="8.4"/><circle cx="649.6" cy="952.3" r="8.4"/><circle cx="665.5" cy="956.5" r="8.4"/><circle cx="679.5" cy="961" r="8.4"/><circle cx="692.8" cy="965.5" r="8.4"/><circle cx="705" cy="968.6" r="8.4"/><circle cx="715.6" cy="990.2" r="8.4"/><circle cx="725.9" cy="975.6" r="8.4"/><circle cx="735.2" cy="996.8" r="8.4"/></g>
<text x="188.5" y="832" font-size="24" textLength="55.5" lengthAdjust="spacingAndGlyphs"><tspan>MoS</tspan><tspan font-size="15" dy="8">2</tspan><tspan dy="-8" font-size="1"> </tspan></text>
<text x="229.5" y="878.5" font-size="24" textLength="97.5" lengthAdjust="spacingAndGlyphs" fill="#ff0000">Our work</text>
<text x="443.5" y="966" font-size="24" textLength="90" lengthAdjust="spacingAndGlyphs">Rubrene</text>
<text x="404.5" y="1007" font-size="24" textLength="86" lengthAdjust="spacingAndGlyphs"><tspan>C</tspan><tspan font-size="15" dy="8">8</tspan><tspan dy="-8" font-size="1"> </tspan><tspan>-BTBT</tspan></text>
<text x="492.5" y="1036" font-size="24" textLength="91" lengthAdjust="spacingAndGlyphs"><tspan>F</tspan><tspan font-size="15" dy="8">2</tspan><tspan dy="-8" font-size="1"> </tspan><tspan>-TCNQ</tspan></text>
<text x="443.5" y="1070" font-size="24" textLength="132" lengthAdjust="spacingAndGlyphs"><tspan>PhC</tspan><tspan font-size="15" dy="8">2</tspan><tspan dy="-8" font-size="1"> </tspan><tspan>-BQQDI</tspan></text>
<text x="496.5" y="1162.5" font-size="24" textLength="70.5" lengthAdjust="spacingAndGlyphs">TMTSF</text>
<text x="461.5" y="1302.5" font-size="24" textLength="96" lengthAdjust="spacingAndGlyphs"><tspan>PDIF-CN</tspan><tspan font-size="15" dy="8">2</tspan><tspan dy="-8" font-size="1"> </tspan></text>
<path d="M147.5,742 V1339.3 H757.5" stroke="#0a0a0a" stroke-width="1.6" fill="none" />
<line x1="139.5" y1="1339.13" x2="147.5" y2="1339.13" stroke="#1a1a1a" stroke-width="1.5" />
<line x1="139.5" y1="1318.88" x2="147.5" y2="1318.88" stroke="#1a1a1a" stroke-width="1.5" />
<line x1="139.5" y1="1304.51" x2="147.5" y2="1304.51" stroke="#1a1a1a" stroke-width="1.5" />
<line x1="139.5" y1="1293.37" x2="147.5" y2="1293.37" stroke="#1a1a1a" stroke-width="1.5" />
<line x1="139.5" y1="1284.26" x2="147.5" y2="1284.26" stroke="#1a1a1a" stroke-width="1.5" />
<line x1="139.5" y1="1276.56" x2="147.5" y2="1276.56" stroke="#1a1a1a" stroke-width="1.5" />
<line x1="139.5" y1="1269.89" x2="147.5" y2="1269.89" stroke="#1a1a1a" stroke-width="1.5" />
<line x1="139.5" y1="1264.01" x2="147.5" y2="1264.01" stroke="#1a1a1a" stroke-width="1.5" />
<line x1="135" y1="1258.75" x2="147.5" y2="1258.75" stroke="#1a1a1a" stroke-width="1.5" />
<line x1="139.5" y1="1224.13" x2="147.5" y2="1224.13" stroke="#1a1a1a" stroke-width="1.5" />
<line x1="139.5" y1="1203.88" x2="147.5" y2="1203.88" stroke="#1a1a1a" stroke-width="1.5" />
<line x1="139.5" y1="1189.51" x2="147.5" y2="1189.51" stroke="#1a1a1a" stroke-width="1.5" />
<line x1="139.5" y1="1178.37" x2="147.5" y2="1178.37" stroke="#1a1a1a" stroke-width="1.5" />
<line x1="139.5" y1="1169.26" x2="147.5" y2="1169.26" stroke="#1a1a1a" stroke-width="1.5" />
<line x1="139.5" y1="1161.56" x2="147.5" y2="1161.56" stroke="#1a1a1a" stroke-width="1.5" />
<line x1="139.5" y1="1154.89" x2="147.5" y2="1154.89" stroke="#1a1a1a" stroke-width="1.5" />
<line x1="139.5" y1="1149.01" x2="147.5" y2="1149.01" stroke="#1a1a1a" stroke-width="1.5" />
<line x1="135" y1="1143.75" x2="147.5" y2="1143.75" stroke="#1a1a1a" stroke-width="1.5" />
<line x1="139.5" y1="1109.13" x2="147.5" y2="1109.13" stroke="#1a1a1a" stroke-width="1.5" />
<line x1="139.5" y1="1088.88" x2="147.5" y2="1088.88" stroke="#1a1a1a" stroke-width="1.5" />
<line x1="139.5" y1="1074.51" x2="147.5" y2="1074.51" stroke="#1a1a1a" stroke-width="1.5" />
<line x1="139.5" y1="1063.37" x2="147.5" y2="1063.37" stroke="#1a1a1a" stroke-width="1.5" />
<line x1="139.5" y1="1054.26" x2="147.5" y2="1054.26" stroke="#1a1a1a" stroke-width="1.5" />
<line x1="139.5" y1="1046.56" x2="147.5" y2="1046.56" stroke="#1a1a1a" stroke-width="1.5" />
<line x1="139.5" y1="1039.89" x2="147.5" y2="1039.89" stroke="#1a1a1a" stroke-width="1.5" />
<line x1="139.5" y1="1034.01" x2="147.5" y2="1034.01" stroke="#1a1a1a" stroke-width="1.5" />
<line x1="135" y1="1028.75" x2="147.5" y2="1028.75" stroke="#1a1a1a" stroke-width="1.5" />
<line x1="139.5" y1="994.13" x2="147.5" y2="994.13" stroke="#1a1a1a" stroke-width="1.5" />
<line x1="139.5" y1="973.88" x2="147.5" y2="973.88" stroke="#1a1a1a" stroke-width="1.5" />
<line x1="139.5" y1="959.51" x2="147.5" y2="959.51" stroke="#1a1a1a" stroke-width="1.5" />
<line x1="139.5" y1="948.37" x2="147.5" y2="948.37" stroke="#1a1a1a" stroke-width="1.5" />
<line x1="139.5" y1="939.26" x2="147.5" y2="939.26" stroke="#1a1a1a" stroke-width="1.5" />
<line x1="139.5" y1="931.56" x2="147.5" y2="931.56" stroke="#1a1a1a" stroke-width="1.5" />
<line x1="139.5" y1="924.89" x2="147.5" y2="924.89" stroke="#1a1a1a" stroke-width="1.5" />
<line x1="139.5" y1="919.01" x2="147.5" y2="919.01" stroke="#1a1a1a" stroke-width="1.5" />
<line x1="135" y1="913.75" x2="147.5" y2="913.75" stroke="#1a1a1a" stroke-width="1.5" />
<line x1="139.5" y1="879.13" x2="147.5" y2="879.13" stroke="#1a1a1a" stroke-width="1.5" />
<line x1="139.5" y1="858.88" x2="147.5" y2="858.88" stroke="#1a1a1a" stroke-width="1.5" />
<line x1="139.5" y1="844.51" x2="147.5" y2="844.51" stroke="#1a1a1a" stroke-width="1.5" />
<line x1="139.5" y1="833.37" x2="147.5" y2="833.37" stroke="#1a1a1a" stroke-width="1.5" />
<line x1="139.5" y1="824.26" x2="147.5" y2="824.26" stroke="#1a1a1a" stroke-width="1.5" />
<line x1="139.5" y1="816.56" x2="147.5" y2="816.56" stroke="#1a1a1a" stroke-width="1.5" />
<line x1="139.5" y1="809.89" x2="147.5" y2="809.89" stroke="#1a1a1a" stroke-width="1.5" />
<line x1="139.5" y1="804.01" x2="147.5" y2="804.01" stroke="#1a1a1a" stroke-width="1.5" />
<line x1="135" y1="798.75" x2="147.5" y2="798.75" stroke="#1a1a1a" stroke-width="1.5" />
<line x1="139.5" y1="764.13" x2="147.5" y2="764.13" stroke="#1a1a1a" stroke-width="1.5" />
<line x1="177.78" y1="1339.3" x2="177.78" y2="1347.5" stroke="#2a2a2a" stroke-width="1.7" />
<line x1="272.3" y1="1339.3" x2="272.3" y2="1351.3" stroke="#2a2a2a" stroke-width="1.7" />
<line x1="366.82" y1="1339.3" x2="366.82" y2="1347.5" stroke="#2a2a2a" stroke-width="1.7" />
<line x1="491.78" y1="1339.3" x2="491.78" y2="1347.5" stroke="#2a2a2a" stroke-width="1.7" />
<line x1="586.3" y1="1339.3" x2="586.3" y2="1351.3" stroke="#2a2a2a" stroke-width="1.7" />
<line x1="680.82" y1="1339.3" x2="680.82" y2="1347.5" stroke="#2a2a2a" stroke-width="1.7" />
<text x="128" y="797.25" font-size="16" text-anchor="end" textLength="8.5" lengthAdjust="spacingAndGlyphs">3</text>
<text x="117.7" y="807.25" font-size="24" text-anchor="end" textLength="23.5" lengthAdjust="spacingAndGlyphs">10</text>
<text x="128" y="912.25" font-size="16" text-anchor="end" textLength="8.5" lengthAdjust="spacingAndGlyphs">2</text>
<text x="117.7" y="922.25" font-size="24" text-anchor="end" textLength="23.5" lengthAdjust="spacingAndGlyphs">10</text>
<text x="128" y="1027.25" font-size="16" text-anchor="end" textLength="7" lengthAdjust="spacingAndGlyphs">1</text>
<text x="119.2" y="1037.25" font-size="24" text-anchor="end" textLength="23.5" lengthAdjust="spacingAndGlyphs">10</text>
<text x="128" y="1142.25" font-size="16" text-anchor="end" textLength="8.5" lengthAdjust="spacingAndGlyphs">0</text>
<text x="117.7" y="1152.25" font-size="24" text-anchor="end" textLength="23.5" lengthAdjust="spacingAndGlyphs">10</text>
<text x="128" y="1257.25" font-size="16" text-anchor="end" textLength="13" lengthAdjust="spacingAndGlyphs">−1</text>
<text x="113.2" y="1267.25" font-size="24" text-anchor="end" textLength="23.5" lengthAdjust="spacingAndGlyphs">10</text>
<text x="176.58" y="1378" font-size="24" text-anchor="middle" textLength="13" lengthAdjust="spacingAndGlyphs">5</text>
<text x="272" y="1378" font-size="24" text-anchor="middle" textLength="25.5" lengthAdjust="spacingAndGlyphs">10</text>
<text x="367.92" y="1378" font-size="24" text-anchor="middle" textLength="28" lengthAdjust="spacingAndGlyphs">20</text>
<text x="494.08" y="1378" font-size="24" text-anchor="middle" textLength="28" lengthAdjust="spacingAndGlyphs">50</text>
<text x="587" y="1378" font-size="24" text-anchor="middle" textLength="40.5" lengthAdjust="spacingAndGlyphs">100</text>
<text x="685.02" y="1378" font-size="24" text-anchor="middle" textLength="43" lengthAdjust="spacingAndGlyphs">200</text>
<text x="452.5" y="1413.4" font-size="27" text-anchor="middle" textLength="203.5" lengthAdjust="spacingAndGlyphs">Temperature (K)</text>
<text transform="translate(66 1217.5) rotate(-90)" font-size="27" textLength="353" lengthAdjust="spacingAndGlyphs">Carrier mobility (cm<tspan font-size="17.5" dy="-9.5">2</tspan><tspan dy="9.5"> V</tspan><tspan font-size="17.5" dy="-9.5">−1</tspan><tspan dy="9.5"> s</tspan><tspan font-size="17.5" dy="-9.5">−1</tspan><tspan dy="9.5">)</tspan></text>
<text x="1" y="757.3" font-size="37" textLength="21.5" lengthAdjust="spacingAndGlyphs" font-weight="bold" stroke="#000" stroke-width="1.2">c</text>
</g>
<g id="panel_d">
<linearGradient id="dBg" x1="0" x2="1" y1="0" y2="0"><stop offset="0" stop-color="#ccd7f0"/><stop offset="0.15" stop-color="#d6def2"/><stop offset="0.32" stop-color="#e3e8f6"/><stop offset="0.45" stop-color="#f5f7fc"/><stop offset="0.53" stop-color="#f0f6f2"/><stop offset="0.62" stop-color="#eef6f0"/><stop offset="0.70" stop-color="#fbfbfa"/><stop offset="0.78" stop-color="#fdefee"/><stop offset="0.9" stop-color="#fcdcdc"/><stop offset="1" stop-color="#fbc6c6"/></linearGradient>
<rect x="972" y="745" width="610.3" height="595.8" fill="url(#dBg)" />
<path d="M1038.3,893 L1043.58,896.35 L1048.87,899.71 L1054.15,903.08 L1059.43,906.42 L1064.72,909.74 L1070,913 L1075.33,916.25 L1080.67,919.46 L1086,922.65 L1091.33,925.8 L1096.67,928.92 L1102,932 L1106.33,934.49 L1110.67,936.98 L1115,939.44 L1119.33,941.86 L1123.67,944.22 L1128,946.5 L1134.83,949.99 L1141.67,953.4 L1148.5,956.72 L1155.33,959.93 L1162.17,963.03 L1169,966 L1174.17,968.17 L1179.33,970.29 L1184.5,972.35 L1189.67,974.33 L1194.83,976.22 L1200,978 L1204.5,979.48 L1209,980.92 L1213.5,982.3 L1218,983.61 L1222.5,984.84 L1227,986 L1233.83,987.67 L1240.67,989.27 L1247.5,990.79 L1254.33,992.19 L1261.17,993.43 L1268,994.5 L1273.33,995.23 L1278.67,995.9 L1284,996.52 L1289.33,997.07 L1294.67,997.57 L1300,998 L1304.33,998.29 L1308.67,998.54 L1313,998.76 L1317.33,998.98 L1321.67,999.22 L1326,999.5 L1329.67,999.77 L1333.33,1000.06 L1337,1000.38 L1340.67,1000.72 L1344.33,1001.09 L1348,1001.5 L1351.17,1001.89 L1354.33,1002.33 L1357.5,1002.8 L1360.67,1003.33 L1363.83,1003.89 L1367,1004.5 L1369.83,1005.1 L1372.67,1005.76 L1375.5,1006.49 L1378.33,1007.28 L1381.17,1008.12 L1384,1009 L1386.5,1009.83 L1389,1010.72 L1391.5,1011.67 L1394,1012.7 L1396.5,1013.81 L1399,1015 L1403.33,1017.28 L1407.67,1019.83 L1412,1022.67 L1416.33,1025.8 L1420.67,1029.24 L1425,1033 L1428.67,1036.6 L1432.33,1040.71 L1436,1045.28 L1439.67,1050.23 L1443.33,1055.49 L1447,1061 L1450.17,1066.11 L1453.33,1071.68 L1456.5,1077.64 L1459.67,1083.9 L1462.83,1090.38 L1466,1097 L1468.83,1103.12 L1471.67,1109.52 L1474.5,1116.15 L1477.33,1122.97 L1480.17,1129.94 L1483,1137 L1485.5,1143.35 L1488,1149.87 L1490.5,1156.53 L1493,1163.29 L1495.5,1170.12 L1498,1177 L1500.17,1183.04 L1502.33,1189.17 L1504.5,1195.38 L1506.67,1201.61 L1508.83,1207.83 L1511,1214 L1513.25,1220.36 L1515.5,1226.7 L1517.75,1233.03 L1520,1239.35 L1522.25,1245.67 L1524.5,1252" fill="none" stroke="#5a5aff" stroke-width="1.6"/>
<path d="M1038.3,874 L1043.58,877.16 L1048.87,880.3 L1054.15,883.45 L1059.43,886.61 L1064.72,889.79 L1070,893 L1075.33,896.28 L1080.67,899.59 L1086,902.93 L1091.33,906.28 L1096.67,909.64 L1102,913 L1106.33,915.75 L1110.67,918.54 L1115,921.33 L1119.33,924.11 L1123.67,926.84 L1128,929.5 L1134.83,933.6 L1141.67,937.62 L1148.5,941.57 L1155.33,945.45 L1162.17,949.26 L1169,953 L1174.17,955.8 L1179.33,958.59 L1184.5,961.34 L1189.67,964.01 L1194.83,966.57 L1200,969 L1204.5,971 L1209,972.93 L1213.5,974.79 L1218,976.59 L1222.5,978.32 L1227,980 L1233.83,982.46 L1240.67,984.84 L1247.5,987.13 L1254.33,989.34 L1261.17,991.46 L1268,993.5 L1273.33,995.02 L1278.67,996.46 L1284,997.85 L1289.33,999.22 L1294.67,1000.6 L1300,1002 L1304.33,1003.15 L1308.67,1004.28 L1313,1005.42 L1317.33,1006.57 L1321.67,1007.76 L1326,1009 L1329.67,1010.08 L1333.33,1011.19 L1337,1012.33 L1340.67,1013.51 L1344.33,1014.73 L1348,1016 L1351.17,1017.14 L1354.33,1018.32 L1357.5,1019.54 L1360.67,1020.81 L1363.83,1022.13 L1367,1023.5 L1369.83,1024.78 L1372.67,1026.13 L1375.5,1027.53 L1378.33,1028.98 L1381.17,1030.47 L1384,1032 L1386.5,1033.38 L1389,1034.79 L1391.5,1036.25 L1394,1037.76 L1396.5,1039.34 L1399,1041 L1403.33,1044 L1407.67,1047.15 L1412,1050.48 L1416.33,1054.03 L1420.67,1057.86 L1425,1062 L1428.67,1065.84 L1432.33,1070.04 L1436,1074.58 L1439.67,1079.43 L1443.33,1084.58 L1447,1090 L1450.17,1095.04 L1453.33,1100.52 L1456.5,1106.34 L1459.67,1112.43 L1462.83,1118.68 L1466,1125 L1468.83,1130.77 L1471.67,1136.75 L1474.5,1142.89 L1477.33,1149.17 L1480.17,1155.55 L1483,1162 L1485.5,1167.74 L1488,1173.55 L1490.5,1179.45 L1493,1185.48 L1495.5,1191.65 L1498,1198 L1500.17,1203.66 L1502.33,1209.47 L1504.5,1215.43 L1506.67,1221.51 L1508.83,1227.7 L1511,1234 L1513.25,1240.72 L1515.5,1247.64 L1517.75,1254.69 L1520,1261.82 L1522.25,1268.94 L1524.5,1276" fill="none" stroke="#82b2de" stroke-width="1.6"/>
<path d="M1038.3,852 L1043.58,855.67 L1048.87,859.34 L1054.15,863.01 L1059.43,866.68 L1064.72,870.35 L1070,874 L1075.33,877.68 L1080.67,881.34 L1086,885 L1091.33,888.66 L1096.67,892.33 L1102,896 L1106.33,899 L1110.67,902.02 L1115,905.04 L1119.33,908.06 L1123.67,911.05 L1128,914 L1134.83,918.61 L1141.67,923.18 L1148.5,927.72 L1155.33,932.2 L1162.17,936.63 L1169,941 L1174.17,944.26 L1179.33,947.5 L1184.5,950.7 L1189.67,953.86 L1194.83,956.96 L1200,960 L1204.5,962.62 L1209,965.23 L1213.5,967.8 L1218,970.3 L1222.5,972.71 L1227,975 L1233.83,978.28 L1240.67,981.39 L1247.5,984.37 L1254.33,987.28 L1261.17,990.14 L1268,993 L1273.33,995.22 L1278.67,997.38 L1284,999.53 L1289.33,1001.66 L1294.67,1003.81 L1300,1006 L1304.33,1007.79 L1308.67,1009.56 L1313,1011.36 L1317.33,1013.18 L1321.67,1015.05 L1326,1017 L1329.67,1018.72 L1333.33,1020.49 L1337,1022.32 L1340.67,1024.18 L1344.33,1026.08 L1348,1028 L1351.17,1029.67 L1354.33,1031.36 L1357.5,1033.08 L1360.67,1034.84 L1363.83,1036.64 L1367,1038.5 L1369.83,1040.22 L1372.67,1042.01 L1375.5,1043.84 L1378.33,1045.7 L1381.17,1047.6 L1384,1049.5 L1386.5,1051.18 L1389,1052.86 L1391.5,1054.56 L1394,1056.31 L1396.5,1058.11 L1399,1060 L1403.33,1063.39 L1407.67,1066.89 L1412,1070.55 L1416.33,1074.43 L1420.67,1078.56 L1425,1083 L1428.67,1087.08 L1432.33,1091.51 L1436,1096.24 L1439.67,1101.25 L1443.33,1106.51 L1447,1112 L1450.17,1117.03 L1453.33,1122.41 L1456.5,1128.07 L1459.67,1133.93 L1462.83,1139.94 L1466,1146 L1468.83,1151.5 L1471.67,1157.14 L1474.5,1162.92 L1477.33,1168.82 L1480.17,1174.85 L1483,1181 L1485.5,1186.53 L1488,1192.16 L1490.5,1197.91 L1493,1203.79 L1495.5,1209.82 L1498,1216 L1500.17,1221.52 L1502.33,1227.21 L1504.5,1233.04 L1506.67,1238.97 L1508.83,1244.97 L1511,1251 L1513.25,1257.34 L1515.5,1263.8 L1517.75,1270.33 L1520,1276.9 L1522.25,1283.47 L1524.5,1290" fill="none" stroke="#70c7a1" stroke-width="1.6"/>
<path d="M1038.3,830 L1043.58,834.18 L1048.87,838.38 L1054.15,842.58 L1059.43,846.76 L1064.72,850.91 L1070,855 L1075.33,859.06 L1080.67,863.07 L1086,867.04 L1091.33,871 L1096.67,874.98 L1102,879 L1106.33,882.31 L1110.67,885.64 L1115,888.99 L1119.33,892.34 L1123.67,895.68 L1128,899 L1134.83,904.21 L1141.67,909.4 L1148.5,914.57 L1155.33,919.73 L1162.17,924.88 L1169,930 L1174.17,933.89 L1179.33,937.81 L1184.5,941.72 L1189.67,945.58 L1194.83,949.35 L1200,953 L1204.5,956.08 L1209,959.1 L1213.5,962.06 L1218,964.95 L1222.5,967.77 L1227,970.5 L1233.83,974.49 L1240.67,978.33 L1247.5,982.05 L1254.33,985.7 L1261.17,989.34 L1268,993 L1273.33,995.86 L1278.67,998.7 L1284,1001.52 L1289.33,1004.34 L1294.67,1007.16 L1300,1010 L1304.33,1012.3 L1308.67,1014.58 L1313,1016.87 L1317.33,1019.19 L1321.67,1021.56 L1326,1024 L1329.67,1026.14 L1333.33,1028.34 L1337,1030.58 L1340.67,1032.87 L1344.33,1035.17 L1348,1037.5 L1351.17,1039.51 L1354.33,1041.53 L1357.5,1043.58 L1360.67,1045.66 L1363.83,1047.8 L1367,1050 L1369.83,1052.04 L1372.67,1054.15 L1375.5,1056.31 L1378.33,1058.51 L1381.17,1060.75 L1384,1063 L1386.5,1065 L1389,1067.02 L1391.5,1069.07 L1394,1071.16 L1396.5,1073.3 L1399,1075.5 L1403.33,1079.39 L1407.67,1083.35 L1412,1087.43 L1416.33,1091.7 L1420.67,1096.2 L1425,1101 L1428.67,1105.34 L1432.33,1109.95 L1436,1114.83 L1439.67,1119.96 L1443.33,1125.36 L1447,1131 L1450.17,1136.17 L1453.33,1141.69 L1456.5,1147.49 L1459.67,1153.51 L1462.83,1159.7 L1466,1166 L1468.83,1171.79 L1471.67,1177.79 L1474.5,1183.96 L1477.33,1190.25 L1480.17,1196.61 L1483,1203 L1485.5,1208.66 L1488,1214.38 L1490.5,1220.16 L1493,1226.02 L1495.5,1231.97 L1498,1238 L1500.23,1243.5 L1502.47,1249.13 L1504.7,1254.83 L1506.93,1260.56 L1509.17,1266.3 L1511.4,1272" fill="none" stroke="#e0a677" stroke-width="1.6"/>
<path d="M1038.3,812 L1043.58,816.34 L1048.87,820.68 L1054.15,825.02 L1059.43,829.35 L1064.72,833.68 L1070,838 L1075.33,842.33 L1080.67,846.64 L1086,850.95 L1091.33,855.26 L1096.67,859.61 L1102,864 L1106.33,867.62 L1110.67,871.28 L1115,874.97 L1119.33,878.67 L1123.67,882.35 L1128,886 L1134.83,891.7 L1141.67,897.37 L1148.5,903.02 L1155.33,908.66 L1162.17,914.32 L1169,920 L1174.17,924.34 L1179.33,928.72 L1184.5,933.11 L1189.67,937.47 L1194.83,941.78 L1200,946 L1204.5,949.64 L1209,953.26 L1213.5,956.85 L1218,960.35 L1222.5,963.75 L1227,967 L1233.83,971.65 L1240.67,976.05 L1247.5,980.3 L1254.33,984.48 L1261.17,988.68 L1268,993 L1273.33,996.46 L1278.67,999.95 L1284,1003.46 L1289.33,1006.98 L1294.67,1010.5 L1300,1014 L1304.33,1016.82 L1308.67,1019.6 L1313,1022.39 L1317.33,1025.2 L1321.67,1028.06 L1326,1031 L1329.67,1033.57 L1333.33,1036.2 L1337,1038.88 L1340.67,1041.59 L1344.33,1044.3 L1348,1047 L1351.17,1049.3 L1354.33,1051.58 L1357.5,1053.86 L1360.67,1056.17 L1363.83,1058.54 L1367,1061 L1369.83,1063.29 L1372.67,1065.65 L1375.5,1068.07 L1378.33,1070.53 L1381.17,1073.01 L1384,1075.5 L1386.5,1077.69 L1389,1079.88 L1391.5,1082.1 L1394,1084.34 L1396.5,1086.64 L1399,1089 L1403.33,1093.15 L1407.67,1097.35 L1412,1101.66 L1416.33,1106.16 L1420.67,1110.91 L1425,1116 L1428.67,1120.63 L1432.33,1125.57 L1436,1130.81 L1439.67,1136.31 L1443.33,1142.05 L1447,1148 L1450.17,1153.41 L1453.33,1159.13 L1456.5,1165.1 L1459.67,1171.28 L1462.83,1177.6 L1466,1184 L1468.83,1189.83 L1471.67,1195.82 L1474.5,1201.95 L1477.33,1208.21 L1480.17,1214.56 L1483,1221 L1485.5,1226.68 L1488,1232.35 L1490.5,1238.12 L1493,1244.08 L1495.5,1250.34 L1498,1257 L1499.83,1262.29 L1501.67,1267.97 L1503.5,1273.91 L1505.33,1279.99 L1507.17,1286.06 L1509,1292" fill="none" stroke="#fb6f6f" stroke-width="1.6"/>
<polygon points="1027.8,808.9 1044.8,799.1 1044.8,818.7" fill="#fb6f6f"/>
<polygon points="1028.5,818.7 1048.1,818.7 1038.3,835.7" fill="#e0a677"/>
<rect x="1030.8" y="859.3" width="15" height="15" fill="#82b2de"/>
<polygon points="1038.3,838.1 1048.1,855.1 1028.5,855.1" fill="#70c7a1"/>
<circle cx="1038.3" cy="886.9" r="8.4" fill="#5a5aff"/>
<polygon points="1059.9,835.4 1076.9,825.6 1076.9,845.2" fill="#fb6f6f"/>
<polygon points="1060.6,852.3 1080.2,852.3 1070.4,869.3" fill="#e0a677"/>
<rect x="1062.9" y="889.1" width="15" height="15" fill="#82b2de"/>
<polygon points="1070.4,866.1 1080.2,883.1 1060.6,883.1" fill="#70c7a1"/>
<circle cx="1070.4" cy="919.9" r="8.4" fill="#5a5aff"/>
<polygon points="1091.6,858.4 1108.6,848.6 1108.6,868.2" fill="#fb6f6f"/>
<polygon points="1092.3,872.8 1111.9,872.8 1102.1,889.8" fill="#e0a677"/>
<rect x="1094.6" y="902.7" width="15" height="15" fill="#82b2de"/>
<polygon points="1102.1,882.9 1111.9,899.9 1092.3,899.9" fill="#70c7a1"/>
<circle cx="1102.1" cy="934.9" r="8.4" fill="#5a5aff"/>
<polygon points="1117.7,873.7 1134.7,863.9 1134.7,883.5" fill="#fb6f6f"/>
<polygon points="1118.4,886.8 1138,886.8 1128.2,903.8" fill="#e0a677"/>
<rect x="1120.7" y="920.8" width="15" height="15" fill="#82b2de"/>
<polygon points="1128.2,902.5 1138,919.5 1118.4,919.5" fill="#70c7a1"/>
<circle cx="1128.2" cy="951.3" r="8.4" fill="#5a5aff"/>
<polygon points="1158.8,904.1 1175.8,894.3 1175.8,913.9" fill="#fb6f6f"/>
<polygon points="1159.5,912.9 1179.1,912.9 1169.3,929.9" fill="#e0a677"/>
<rect x="1161.8" y="939.5" width="15" height="15" fill="#82b2de"/>
<polygon points="1169.3,924.9 1179.1,941.9 1159.5,941.9" fill="#70c7a1"/>
<circle cx="1169.3" cy="963.8" r="8.4" fill="#5a5aff"/>
<polygon points="1190.1,930.7 1207.1,920.9 1207.1,940.5" fill="#fb6f6f"/>
<polygon points="1190.8,936.2 1210.4,936.2 1200.6,953.2" fill="#e0a677"/>
<rect x="1193.1" y="960.9" width="15" height="15" fill="#82b2de"/>
<polygon points="1200.6,948.2 1210.4,965.2 1190.8,965.2" fill="#70c7a1"/>
<circle cx="1200.6" cy="975.9" r="8.4" fill="#5a5aff"/>
<polygon points="1216.5,957.2 1233.5,947.4 1233.5,967" fill="#fb6f6f"/>
<polygon points="1217.2,955.8 1236.8,955.8 1227,972.8" fill="#e0a677"/>
<rect x="1219.5" y="968.4" width="15" height="15" fill="#82b2de"/>
<polygon points="1227,956.6 1236.8,973.6 1217.2,973.6" fill="#70c7a1"/>
<circle cx="1227" cy="983.7" r="8.4" fill="#5a5aff"/>
<polygon points="1257.5,989 1274.5,979.2 1274.5,998.8" fill="#fb6f6f"/>
<polygon points="1258.2,983.8 1277.8,983.8 1268,1000.8" fill="#e0a677"/>
<rect x="1260.5" y="987.1" width="15" height="15" fill="#82b2de"/>
<polygon points="1268,982.7 1277.8,999.7 1258.2,999.7" fill="#70c7a1"/>
<circle cx="1268" cy="1003" r="8.4" fill="#5a5aff"/>
<polygon points="1287.6,1024 1304.6,1014.2 1304.6,1033.8" fill="#fb6f6f"/>
<polygon points="1289.8,1007 1309.4,1007 1299.6,1024" fill="#e0a677"/>
<rect x="1292.1" y="1000.5" width="15" height="15" fill="#82b2de"/>
<polygon points="1299.6,1000 1309.4,1017 1289.8,1017" fill="#70c7a1"/>
<circle cx="1299.6" cy="1010.5" r="8.4" fill="#5a5aff"/>
<polygon points="1313.9,1029.8 1330.9,1020 1330.9,1039.6" fill="#fb6f6f"/>
<polygon points="1316.1,1012.4 1335.7,1012.4 1325.9,1029.4" fill="#e0a677"/>
<rect x="1318.4" y="1002.6" width="15" height="15" fill="#82b2de"/>
<polygon points="1325.9,1004.8 1335.7,1021.8 1316.1,1021.8" fill="#70c7a1"/>
<circle cx="1325.9" cy="1001.3" r="8.4" fill="#5a5aff"/>
<polygon points="1336,1049.1 1353,1039.3 1353,1058.9" fill="#fb6f6f"/>
<polygon points="1338.2,1028.6 1357.8,1028.6 1348,1045.6" fill="#e0a677"/>
<rect x="1340.5" y="1012.4" width="15" height="15" fill="#82b2de"/>
<polygon points="1348,1015.2 1357.8,1032.2 1338.2,1032.2" fill="#70c7a1"/>
<circle cx="1348" cy="1006" r="8.4" fill="#5a5aff"/>
<polygon points="1355,1058.8 1372,1049 1372,1068.6" fill="#fb6f6f"/>
<polygon points="1357.2,1040.2 1376.8,1040.2 1367,1057.2" fill="#e0a677"/>
<rect x="1359.5" y="1018.9" width="15" height="15" fill="#82b2de"/>
<polygon points="1367,1026.8 1376.8,1043.8 1357.2,1043.8" fill="#70c7a1"/>
<circle cx="1367" cy="1007.8" r="8.4" fill="#5a5aff"/>
<polygon points="1371.9,1075.1 1388.9,1065.3 1388.9,1084.9" fill="#fb6f6f"/>
<polygon points="1374.1,1053 1393.7,1053 1383.9,1070" fill="#e0a677"/>
<rect x="1376.4" y="1020.7" width="15" height="15" fill="#82b2de"/>
<polygon points="1383.9,1033.8 1393.7,1050.8 1374.1,1050.8" fill="#70c7a1"/>
<circle cx="1383.9" cy="1014.3" r="8.4" fill="#5a5aff"/>
<polygon points="1387,1087.8 1404,1078 1404,1097.6" fill="#fb6f6f"/>
<polygon points="1389.2,1069.2 1408.8,1069.2 1399,1086.2" fill="#e0a677"/>
<rect x="1391.5" y="1031.6" width="15" height="15" fill="#82b2de"/>
<polygon points="1399,1048.8 1408.8,1065.8 1389.2,1065.8" fill="#70c7a1"/>
<circle cx="1399" cy="1018.3" r="8.4" fill="#5a5aff"/>
<polygon points="1412.9,1114.5 1429.9,1104.7 1429.9,1124.3" fill="#fb6f6f"/>
<polygon points="1415.1,1092.4 1434.7,1092.4 1424.9,1109.4" fill="#e0a677"/>
<rect x="1417.4" y="1044.8" width="15" height="15" fill="#82b2de"/>
<polygon points="1424.9,1065.1 1434.7,1082.1 1415.1,1082.1" fill="#70c7a1"/>
<circle cx="1424.9" cy="1030.5" r="8.4" fill="#5a5aff"/>
<polygon points="1435,1153.9 1452,1144.1 1452,1163.7" fill="#fb6f6f"/>
<polygon points="1437.2,1128.3 1456.8,1128.3 1447,1145.3" fill="#e0a677"/>
<rect x="1439.5" y="1083.3" width="15" height="15" fill="#82b2de"/>
<polygon points="1447,1104.5 1456.8,1121.5 1437.2,1121.5" fill="#70c7a1"/>
<circle cx="1447" cy="1066.3" r="8.4" fill="#5a5aff"/>
<polygon points="1453.7,1192.1 1470.7,1182.3 1470.7,1201.9" fill="#fb6f6f"/>
<polygon points="1455.9,1167.8 1475.5,1167.8 1465.7,1184.8" fill="#e0a677"/>
<rect x="1458.2" y="1127.8" width="15" height="15" fill="#82b2de"/>
<polygon points="1465.7,1143.9 1475.5,1160.9 1455.9,1160.9" fill="#70c7a1"/>
<circle cx="1465.7" cy="1102.9" r="8.4" fill="#5a5aff"/>
<polygon points="1470.9,1217.7 1487.9,1207.9 1487.9,1227.5" fill="#fb6f6f"/>
<polygon points="1473.1,1199.1 1492.7,1199.1 1482.9,1216.1" fill="#e0a677"/>
<rect x="1475.4" y="1155.2" width="15" height="15" fill="#82b2de"/>
<polygon points="1482.9,1169.9 1492.7,1186.9 1473.1,1186.9" fill="#70c7a1"/>
<circle cx="1482.9" cy="1137.2" r="8.4" fill="#5a5aff"/>
<polygon points="1486,1253.6 1503,1243.8 1503,1263.4" fill="#fb6f6f"/>
<polygon points="1488.2,1230.4 1507.8,1230.4 1498,1247.4" fill="#e0a677"/>
<rect x="1490.5" y="1187" width="15" height="15" fill="#82b2de"/>
<polygon points="1498,1203 1507.8,1220 1488.2,1220" fill="#70c7a1"/>
<circle cx="1498" cy="1176.6" r="8.4" fill="#5a5aff"/>
<polygon points="1499.4,1291.8 1516.4,1282 1516.4,1301.6" fill="#fb6f6f"/>
<polygon points="1501.6,1265.1 1521.2,1265.1 1511.4,1282.1" fill="#e0a677"/>
<rect x="1503.9" y="1220.6" width="15" height="15" fill="#82b2de"/>
<polygon points="1511.4,1241.3 1521.2,1258.3 1501.6,1258.3" fill="#70c7a1"/>
<circle cx="1511.4" cy="1207.2" r="8.4" fill="#5a5aff"/>
<rect x="1516.7" y="1268.8" width="15" height="15" fill="#82b2de"/>
<polygon points="1524.2,1279.5 1534,1296.5 1514.4,1296.5" fill="#70c7a1"/>
<circle cx="1524.2" cy="1249" r="8.4" fill="#5a5aff"/>
<line x1="1442.2" y1="1184.2" x2="1489.6" y2="1293.4" stroke="#000" stroke-width="2.5" stroke-dasharray="9.6 7.9"/>
<text y="1300" font-size="24" font-style="italic"><tspan x="1398.6">μ</tspan><tspan x="1417.2" font-style="normal" font-size="21">∝</tspan><tspan x="1440.6">T</tspan><tspan x="1456" font-size="15.5" dy="-11">−γ</tspan></text>
<text x="1104" y="770.6" font-size="24" textLength="32" lengthAdjust="spacingAndGlyphs" fill="#1a1aff">(iii)</text>
<text x="1323.3" y="770.6" font-size="24" textLength="25.5" lengthAdjust="spacingAndGlyphs" fill="#2a6a2a">(ii)</text>
<text x="1479.5" y="770.6" font-size="24" textLength="18.7" lengthAdjust="spacingAndGlyphs" fill="#ff0a0a">(i)</text>
<text x="1190" y="814.5" font-size="24" textLength="140.5" lengthAdjust="spacingAndGlyphs"><tspan font-style="italic">n</tspan><tspan font-size="15.5" dy="6">c</tspan><tspan dy="-6">(×10</tspan><tspan font-size="15.5" dy="-10.5">12</tspan><tspan dy="10.5"> cm</tspan><tspan font-size="15.5" dy="-10.5">−2</tspan><tspan dy="10.5">)</tspan></text>
<circle cx="1411.5" cy="833" r="8.4" fill="#5a5aff"/>
<rect x="1404" y="859.5" width="15" height="15" fill="#82b2de"/>
<polygon points="1411.5,891.5 1421.3,908.5 1401.7,908.5" fill="#70c7a1"/>
<polygon points="1401.7,927 1421.3,927 1411.5,944" fill="#e0a677"/>
<polygon points="1402.5,968.5 1419.5,958.7 1419.5,978.3" fill="#fb6f6f"/>
<text x="1434.5" y="841" font-size="24" textLength="35" lengthAdjust="spacingAndGlyphs">4.0</text>
<text x="1434.5" y="875" font-size="24" textLength="35" lengthAdjust="spacingAndGlyphs">4.5</text>
<text x="1434.5" y="909" font-size="24" textLength="35" lengthAdjust="spacingAndGlyphs">5.0</text>
<text x="1434.5" y="943" font-size="24" textLength="35" lengthAdjust="spacingAndGlyphs">5.5</text>
<text x="1434.5" y="977" font-size="24" textLength="35" lengthAdjust="spacingAndGlyphs">6.0</text>
<path d="M1066,1054.5 V1221 H1344" stroke="#111" stroke-width="1.4" fill="none" />
<line x1="1058" y1="1190.5" x2="1066" y2="1190.5" stroke="#111" stroke-width="1.3" />
<line x1="1058" y1="1138.25" x2="1066" y2="1138.25" stroke="#111" stroke-width="1.3" />
<line x1="1058" y1="1086" x2="1066" y2="1086" stroke="#111" stroke-width="1.3" />
<line x1="1094" y1="1221" x2="1094" y2="1230" stroke="#111" stroke-width="1.3" />
<line x1="1204.75" y1="1221" x2="1204.75" y2="1230" stroke="#111" stroke-width="1.3" />
<line x1="1315.5" y1="1221" x2="1315.5" y2="1230" stroke="#111" stroke-width="1.3" />
<text x="1051.3" y="1094" font-size="24" text-anchor="end" textLength="35" lengthAdjust="spacingAndGlyphs">1.0</text>
<text x="1051.3" y="1146.25" font-size="24" text-anchor="end" textLength="35" lengthAdjust="spacingAndGlyphs">0.5</text>
<text x="1051.3" y="1198.5" font-size="24" text-anchor="end" textLength="13.5" lengthAdjust="spacingAndGlyphs">0</text>
<text x="1094" y="1259" font-size="24" text-anchor="middle" textLength="35" lengthAdjust="spacingAndGlyphs">4.0</text>
<text x="1204.75" y="1259" font-size="24" text-anchor="middle" textLength="35" lengthAdjust="spacingAndGlyphs">5.0</text>
<text x="1315.5" y="1259" font-size="24" text-anchor="middle" textLength="35" lengthAdjust="spacingAndGlyphs">6.0</text>
<text x="1104" y="1304" font-size="27" textLength="172" lengthAdjust="spacingAndGlyphs"><tspan font-style="italic">n</tspan><tspan font-size="17.5" dy="6.5">c</tspan><tspan dy="-6.5"> (×10</tspan><tspan font-size="18" dy="-11">12</tspan><tspan dy="11"> cm</tspan><tspan font-size="18" dy="-11">−2</tspan><tspan dy="11">)</tspan></text>
<text transform="translate(993 1143.6) rotate(-90)" font-size="30.5" font-style="italic" font-family="&quot;Liberation Serif&quot;, &quot;DejaVu Serif&quot;, serif">γ</text>
<line x1="1094" y1="1096" x2="1149.38" y2="1096" stroke="#5a5aff" stroke-width="2.1" />
<line x1="1149.38" y1="1096" x2="1204.75" y2="1099" stroke="#82b2de" stroke-width="2.1" />
<line x1="1204.75" y1="1099" x2="1260.12" y2="1104" stroke="#70c7a1" stroke-width="2.1" />
<line x1="1260.12" y1="1104" x2="1315.5" y2="1104" stroke="#e0a677" stroke-width="2.1" />
<path d="M1081.2,1091.4 H1106.8 M1081.2,1100.6 H1106.8" stroke="#5a5aff" stroke-width="1.25" fill="none" />
<circle cx="1094" cy="1096" r="8.4" fill="#5a5aff"/>
<path d="M1136.58,1091.4 H1162.17 M1136.58,1100.6 H1162.17" stroke="#82b2de" stroke-width="1.25" fill="none" />
<rect x="1141.88" y="1088.5" width="15" height="15" fill="#82b2de"/>
<path d="M1191.95,1094.4 H1217.55 M1191.95,1103.6 H1217.55 M1204.75,1088.5 V1109.5" stroke="#70c7a1" stroke-width="1.25" fill="none" />
<polygon points="1204.75,1089 1214.55,1106 1194.95,1106" fill="#70c7a1"/>
<path d="M1247.33,1099.4 H1272.92 M1247.33,1108.6 H1272.92 M1260.12,1093.5 V1114.5" stroke="#e0a677" stroke-width="1.25" fill="none" />
<polygon points="1250.33,1097 1269.92,1097 1260.12,1114" fill="#e0a677"/>
<path d="M1302.7,1099.4 H1328.3 M1302.7,1108.6 H1328.3" stroke="#fb6f6f" stroke-width="1.25" fill="none" />
<polygon points="1305,1104 1322,1094.2 1322,1113.8" fill="#fb6f6f"/>
<line x1="1094" y1="1186.75" x2="1149.38" y2="1181.75" stroke="#5a5aff" stroke-width="2.1" />
<line x1="1149.38" y1="1181.75" x2="1204.75" y2="1168" stroke="#82b2de" stroke-width="2.1" />
<line x1="1204.75" y1="1168" x2="1260.12" y2="1161.75" stroke="#70c7a1" stroke-width="2.1" />
<line x1="1260.12" y1="1161.75" x2="1315.5" y2="1151" stroke="#e0a677" stroke-width="2.1" />
<path d="M1081.2,1182.15 H1106.8 M1081.2,1191.35 H1106.8" stroke="#5a5aff" stroke-width="1.25" fill="none" />
<circle cx="1094" cy="1186.75" r="8.4" fill="#5a5aff"/>
<path d="M1136.58,1177.15 H1162.17 M1136.58,1186.35 H1162.17" stroke="#82b2de" stroke-width="1.25" fill="none" />
<rect x="1141.88" y="1174.25" width="15" height="15" fill="#82b2de"/>
<path d="M1191.95,1163.4 H1217.55 M1191.95,1172.6 H1217.55 M1204.75,1157.5 V1178.5" stroke="#70c7a1" stroke-width="1.25" fill="none" />
<polygon points="1204.75,1158 1214.55,1175 1194.95,1175" fill="#70c7a1"/>
<path d="M1247.33,1157.15 H1272.92 M1247.33,1166.35 H1272.92 M1260.12,1151.25 V1172.25" stroke="#e0a677" stroke-width="1.25" fill="none" />
<polygon points="1250.33,1154.75 1269.92,1154.75 1260.12,1171.75" fill="#e0a677"/>
<path d="M1302.7,1146.4 H1328.3 M1302.7,1155.6 H1328.3" stroke="#fb6f6f" stroke-width="1.25" fill="none" />
<polygon points="1305,1151 1322,1141.2 1322,1160.8" fill="#fb6f6f"/>
<text x="1334.5" y="1109.4" font-size="24" textLength="18.7" lengthAdjust="spacingAndGlyphs" fill="#ff0a0a">(i)</text>
<text x="1334.5" y="1156.9" font-size="24" textLength="25.5" lengthAdjust="spacingAndGlyphs" fill="#2a6a2a">(ii)</text>
<path d="M972,745 V1340.8 H1582.3" stroke="#3a3a3a" stroke-width="1.6" fill="none" />
<line x1="959.5" y1="765.27" x2="972" y2="765.27" stroke="#3a3a3a" stroke-width="1.3" />
<line x1="959.5" y1="811.14" x2="972" y2="811.14" stroke="#3a3a3a" stroke-width="1.3" />
<line x1="959.5" y1="864.1" x2="972" y2="864.1" stroke="#3a3a3a" stroke-width="1.3" />
<line x1="959.5" y1="926.73" x2="972" y2="926.73" stroke="#3a3a3a" stroke-width="1.3" />
<line x1="959.5" y1="1003.39" x2="972" y2="1003.39" stroke="#3a3a3a" stroke-width="1.3" />
<line x1="959.5" y1="1102.21" x2="972" y2="1102.21" stroke="#3a3a3a" stroke-width="1.3" />
<line x1="959.5" y1="1241.5" x2="972" y2="1241.5" stroke="#3a3a3a" stroke-width="1.3" />
<line x1="972.14" y1="1340.8" x2="972.14" y2="1352.8" stroke="#3a3a3a" stroke-width="1.3" />
<line x1="1069.75" y1="1340.8" x2="1069.75" y2="1352.8" stroke="#3a3a3a" stroke-width="1.3" />
<line x1="1167.36" y1="1340.8" x2="1167.36" y2="1352.8" stroke="#3a3a3a" stroke-width="1.3" />
<line x1="1296.39" y1="1340.8" x2="1296.39" y2="1352.8" stroke="#3a3a3a" stroke-width="1.3" />
<line x1="1394" y1="1340.8" x2="1394" y2="1352.8" stroke="#3a3a3a" stroke-width="1.3" />
<line x1="1491.61" y1="1340.8" x2="1491.61" y2="1352.8" stroke="#3a3a3a" stroke-width="1.3" />
<text x="944.2" y="773.27" font-size="24" text-anchor="end" textLength="40.5" lengthAdjust="spacingAndGlyphs">160</text>
<text x="944.2" y="819.14" font-size="24" text-anchor="end" textLength="40.5" lengthAdjust="spacingAndGlyphs">140</text>
<text x="944.2" y="872.1" font-size="24" text-anchor="end" textLength="40.5" lengthAdjust="spacingAndGlyphs">120</text>
<text x="944.2" y="934.73" font-size="24" text-anchor="end" textLength="40.5" lengthAdjust="spacingAndGlyphs">100</text>
<text x="944.2" y="1011.39" font-size="24" text-anchor="end" textLength="28" lengthAdjust="spacingAndGlyphs">80</text>
<text x="944.2" y="1110.21" font-size="24" text-anchor="end" textLength="28" lengthAdjust="spacingAndGlyphs">60</text>
<text x="944.2" y="1249.5" font-size="24" text-anchor="end" textLength="28" lengthAdjust="spacingAndGlyphs">40</text>
<text x="971.64" y="1381.5" font-size="24" text-anchor="middle" textLength="13" lengthAdjust="spacingAndGlyphs">5</text>
<text x="1069.25" y="1381.5" font-size="24" text-anchor="middle" textLength="25.5" lengthAdjust="spacingAndGlyphs">10</text>
<text x="1166.86" y="1381.5" font-size="24" text-anchor="middle" textLength="28" lengthAdjust="spacingAndGlyphs">20</text>
<text x="1295.89" y="1381.5" font-size="24" text-anchor="middle" textLength="28" lengthAdjust="spacingAndGlyphs">50</text>
<text x="1393.5" y="1381.5" font-size="24" text-anchor="middle" textLength="40.5" lengthAdjust="spacingAndGlyphs">100</text>
<text x="1491.11" y="1381.5" font-size="24" text-anchor="middle" textLength="43" lengthAdjust="spacingAndGlyphs">200</text>
<text x="1277" y="1418.5" font-size="27" text-anchor="middle" textLength="204" lengthAdjust="spacingAndGlyphs">Temperature (K)</text>
<text x="849" y="1173" font-size="27" textLength="210" lengthAdjust="spacingAndGlyphs" transform="rotate(-90 849 1173)">Carrier mobility, </text>
<text transform="translate(849 962.4) rotate(-90)" font-size="27" font-style="italic">μ</text>
<text transform="translate(856.2 945.2) rotate(-90)" font-size="15" textLength="14.5" lengthAdjust="spacingAndGlyphs">4p</text>
<text transform="translate(836.2 940.9) rotate(-90)" font-size="14" textLength="27.5" lengthAdjust="spacingAndGlyphs">Hofs.</text>
<text transform="translate(889.8 1108) rotate(-90)" font-size="27" textLength="143" lengthAdjust="spacingAndGlyphs">(cm<tspan font-size="17.5" dy="-9.5">2</tspan><tspan dy="9.5"> V</tspan><tspan font-size="17.5" dy="-9.5">−1</tspan><tspan dy="9.5"> s</tspan><tspan font-size="17.5" dy="-9.5">−1</tspan><tspan dy="9.5">)</tspan></text>
<text x="814.5" y="760.5" font-size="37" textLength="23.5" lengthAdjust="spacingAndGlyphs" font-weight="bold" stroke="#000" stroke-width="1.2">d</text>
</g>
</svg>
</body></html>
